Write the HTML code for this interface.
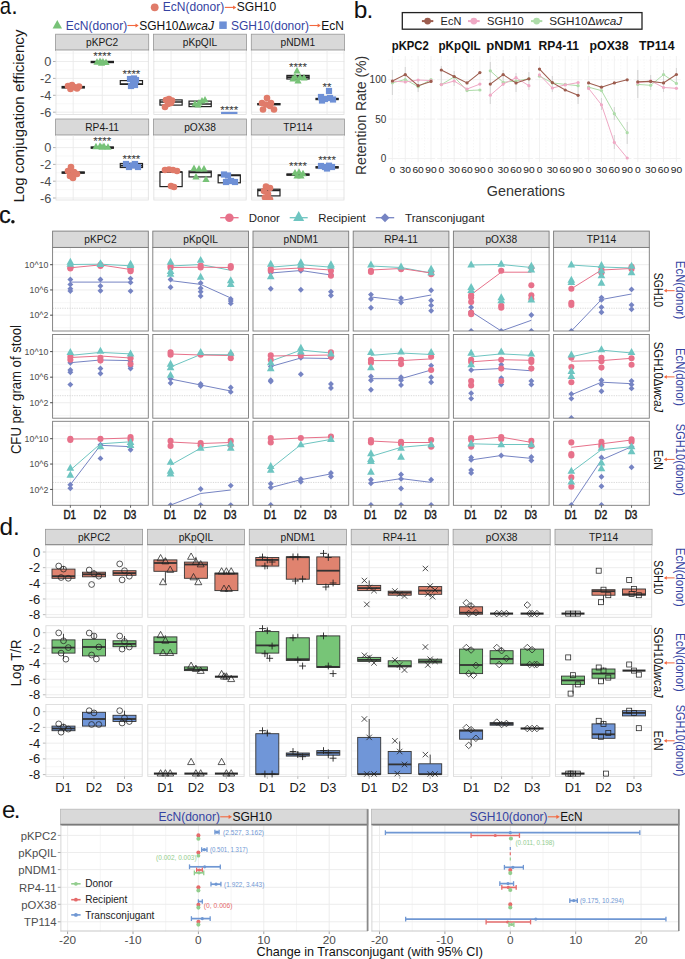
<!DOCTYPE html>
<html><head><meta charset="utf-8"><title>Figure</title>
<style>
html,body{margin:0;padding:0;background:#fff;}
body{width:685px;height:959px;overflow:hidden;}
svg{display:block;font-family:"Liberation Sans",sans-serif;}
</style></head><body>
<svg width="685" height="959" viewBox="0 0 685 959">
<rect x="0" y="0" width="685" height="959" fill="#fff"/>
<text x="-0.15" y="14.30" font-size="23.4" fill="#111" textLength="11.30" lengthAdjust="spacingAndGlyphs" >a</text>
<text x="11.30" y="14.30" font-size="23.4" fill="#111" >.</text>
<circle cx="154.70" cy="7.30" r="3.9" fill="#E07B6A" stroke="none" stroke-width="1"/>
<text x="162.80" y="11.40" font-size="12" fill="#3543A2" >EcN(donor)</text>
<line x1="224.80" y1="7.40" x2="234.38" y2="7.40" stroke="#F2683F" stroke-width="1.1" />
<polygon points="236.30,7.40 233.10,5.42 233.10,9.38" fill="#F2683F" stroke="none" stroke-width="1"/>
<text x="236.80" y="11.40" font-size="12" fill="#111" >SGH10</text>
<polygon points="57.30,19.95 52.60,28.41 62.00,28.41" fill="#77C277" stroke="none" stroke-width="1"/>
<text x="65.80" y="29.60" font-size="12" fill="#3543A2" >EcN(donor)</text>
<line x1="127.40" y1="25.50" x2="136.78" y2="25.50" stroke="#F2683F" stroke-width="1.1" />
<polygon points="138.70,25.50 135.50,23.52 135.50,27.48" fill="#F2683F" stroke="none" stroke-width="1"/>
<text x="139.20" y="29.60" font-size="12" fill="#111" >SGH10Δ<tspan font-style="italic">wcaJ</tspan></text>
<rect x="219.25" y="21.45" width="7.50" height="7.50" fill="#6E90D6" stroke="none" stroke-width="1" />
<text x="230.90" y="29.60" font-size="12" fill="#3543A2" >SGH10(donor)</text>
<line x1="309.40" y1="25.50" x2="318.88" y2="25.50" stroke="#F2683F" stroke-width="1.1" />
<polygon points="320.80,25.50 317.60,23.52 317.60,27.48" fill="#F2683F" stroke="none" stroke-width="1"/>
<text x="321.20" y="29.60" font-size="12" fill="#111" >EcN</text>
<text x="23.60" y="116.10" font-size="14.8" fill="#1A1A1A" text-anchor="middle" textLength="173.00" lengthAdjust="spacingAndGlyphs" transform="rotate(-90 23.60 116.10)" >Log conjugation efficiency</text>
<rect x="55.60" y="34.20" width="93.10" height="16.40" fill="#D9D9D9" stroke="#979797" stroke-width="0.8" />
<line x1="55.60" y1="50.40" x2="148.70" y2="50.40" stroke="#5E5E5E" stroke-width="1.3" />
<text x="102.15" y="46.00" font-size="10.2" fill="#1A1A1A" text-anchor="middle" >pKPC2</text>
<rect x="55.60" y="50.60" width="93.10" height="63.90" fill="#fff" stroke="none" stroke-width="1" />
<line x1="55.60" y1="53.05" x2="148.70" y2="53.05" stroke="#F4F4F4" stroke-width="0.7" />
<line x1="55.60" y1="69.95" x2="148.70" y2="69.95" stroke="#F4F4F4" stroke-width="0.7" />
<line x1="55.60" y1="86.85" x2="148.70" y2="86.85" stroke="#F4F4F4" stroke-width="0.7" />
<line x1="55.60" y1="103.75" x2="148.70" y2="103.75" stroke="#F4F4F4" stroke-width="0.7" />
<line x1="55.60" y1="61.50" x2="148.70" y2="61.50" stroke="#EBEBEB" stroke-width="0.9" />
<line x1="55.60" y1="78.40" x2="148.70" y2="78.40" stroke="#EBEBEB" stroke-width="0.9" />
<line x1="55.60" y1="95.30" x2="148.70" y2="95.30" stroke="#EBEBEB" stroke-width="0.9" />
<line x1="55.60" y1="112.20" x2="148.70" y2="112.20" stroke="#EBEBEB" stroke-width="0.9" />
<line x1="73.20" y1="50.60" x2="73.20" y2="114.50" stroke="#EBEBEB" stroke-width="0.9" />
<line x1="102.30" y1="50.60" x2="102.30" y2="114.50" stroke="#EBEBEB" stroke-width="0.9" />
<line x1="131.40" y1="50.60" x2="131.40" y2="114.50" stroke="#EBEBEB" stroke-width="0.9" />
<rect x="56.00" y="50.60" width="92.30" height="63.90" fill="none" stroke="#DEDEDE" stroke-width="0.8" />
<g clip-path="url(#ca00)">
<clipPath id="ca00"><rect x="55.6" y="50.6" width="93.1" height="63.9"/></clipPath>
<rect x="62.10" y="86.50" width="22.20" height="1.50" fill="#fff" stroke="#222" stroke-width="1.2" />
<line x1="62.10" y1="87.20" x2="84.30" y2="87.20" stroke="#222" stroke-width="1.7" />
<circle cx="68.00" cy="86.00" r="3.3" fill="#E07B6A" stroke="none" stroke-width="1"/>
<circle cx="70.50" cy="89.00" r="3.3" fill="#E07B6A" stroke="none" stroke-width="1"/>
<circle cx="74.00" cy="87.00" r="3.3" fill="#E07B6A" stroke="none" stroke-width="1"/>
<circle cx="77.00" cy="88.50" r="3.3" fill="#E07B6A" stroke="none" stroke-width="1"/>
<circle cx="79.00" cy="86.50" r="3.3" fill="#E07B6A" stroke="none" stroke-width="1"/>
<circle cx="72.00" cy="85.00" r="3.3" fill="#E07B6A" stroke="none" stroke-width="1"/>
<rect x="91.20" y="61.40" width="22.20" height="1.20" fill="#fff" stroke="#222" stroke-width="1.2" />
<line x1="91.20" y1="62.10" x2="113.40" y2="62.10" stroke="#222" stroke-width="1.7" />
<polygon points="97.00,58.18 93.40,64.66 100.60,64.66" fill="#77C277" stroke="none" stroke-width="1"/>
<polygon points="100.00,57.58 96.40,64.06 103.60,64.06" fill="#77C277" stroke="none" stroke-width="1"/>
<polygon points="103.00,57.98 99.40,64.46 106.60,64.46" fill="#77C277" stroke="none" stroke-width="1"/>
<polygon points="106.00,58.48 102.40,64.96 109.60,64.96" fill="#77C277" stroke="none" stroke-width="1"/>
<polygon points="101.50,59.18 97.90,65.66 105.10,65.66" fill="#77C277" stroke="none" stroke-width="1"/>
<text x="102.30" y="60.20" font-size="11.5" fill="#333" text-anchor="middle" >****</text>
<rect x="120.30" y="80.60" width="22.20" height="3.80" fill="#fff" stroke="#222" stroke-width="1.2" />
<line x1="120.30" y1="84.00" x2="142.50" y2="84.00" stroke="#222" stroke-width="1.7" />
<rect x="126.90" y="75.90" width="6.20" height="6.20" fill="#6E90D6" stroke="none" stroke-width="1" />
<rect x="129.90" y="78.90" width="6.20" height="6.20" fill="#6E90D6" stroke="none" stroke-width="1" />
<rect x="131.90" y="81.90" width="6.20" height="6.20" fill="#6E90D6" stroke="none" stroke-width="1" />
<rect x="127.90" y="82.90" width="6.20" height="6.20" fill="#6E90D6" stroke="none" stroke-width="1" />
<rect x="132.90" y="76.90" width="6.20" height="6.20" fill="#6E90D6" stroke="none" stroke-width="1" />
<rect x="130.90" y="75.40" width="6.20" height="6.20" fill="#6E90D6" stroke="none" stroke-width="1" />
<text x="131.40" y="78.20" font-size="11.5" fill="#333" text-anchor="middle" >****</text>
</g>
<line x1="53.00" y1="61.50" x2="55.60" y2="61.50" stroke="#A0A0A0" stroke-width="0.8" />
<text x="51.30" y="66.00" font-size="12.8" fill="#4D4D4D" text-anchor="end" >0</text>
<line x1="53.00" y1="78.40" x2="55.60" y2="78.40" stroke="#A0A0A0" stroke-width="0.8" />
<text x="51.30" y="82.90" font-size="12.8" fill="#4D4D4D" text-anchor="end" >-2</text>
<line x1="53.00" y1="95.30" x2="55.60" y2="95.30" stroke="#A0A0A0" stroke-width="0.8" />
<text x="51.30" y="99.80" font-size="12.8" fill="#4D4D4D" text-anchor="end" >-4</text>
<line x1="53.00" y1="112.20" x2="55.60" y2="112.20" stroke="#A0A0A0" stroke-width="0.8" />
<text x="51.30" y="116.70" font-size="12.8" fill="#4D4D4D" text-anchor="end" >-6</text>
<rect x="153.45" y="34.20" width="93.10" height="16.40" fill="#D9D9D9" stroke="#979797" stroke-width="0.8" />
<line x1="153.45" y1="50.40" x2="246.55" y2="50.40" stroke="#5E5E5E" stroke-width="1.3" />
<text x="200.00" y="46.00" font-size="10.2" fill="#1A1A1A" text-anchor="middle" >pKpQIL</text>
<rect x="153.45" y="50.60" width="93.10" height="63.90" fill="#fff" stroke="none" stroke-width="1" />
<line x1="153.45" y1="53.05" x2="246.55" y2="53.05" stroke="#F4F4F4" stroke-width="0.7" />
<line x1="153.45" y1="69.95" x2="246.55" y2="69.95" stroke="#F4F4F4" stroke-width="0.7" />
<line x1="153.45" y1="86.85" x2="246.55" y2="86.85" stroke="#F4F4F4" stroke-width="0.7" />
<line x1="153.45" y1="103.75" x2="246.55" y2="103.75" stroke="#F4F4F4" stroke-width="0.7" />
<line x1="153.45" y1="61.50" x2="246.55" y2="61.50" stroke="#EBEBEB" stroke-width="0.9" />
<line x1="153.45" y1="78.40" x2="246.55" y2="78.40" stroke="#EBEBEB" stroke-width="0.9" />
<line x1="153.45" y1="95.30" x2="246.55" y2="95.30" stroke="#EBEBEB" stroke-width="0.9" />
<line x1="153.45" y1="112.20" x2="246.55" y2="112.20" stroke="#EBEBEB" stroke-width="0.9" />
<line x1="171.05" y1="50.60" x2="171.05" y2="114.50" stroke="#EBEBEB" stroke-width="0.9" />
<line x1="200.15" y1="50.60" x2="200.15" y2="114.50" stroke="#EBEBEB" stroke-width="0.9" />
<line x1="229.25" y1="50.60" x2="229.25" y2="114.50" stroke="#EBEBEB" stroke-width="0.9" />
<rect x="153.85" y="50.60" width="92.30" height="63.90" fill="none" stroke="#DEDEDE" stroke-width="0.8" />
<g clip-path="url(#ca01)">
<clipPath id="ca01"><rect x="153.45" y="50.6" width="93.1" height="63.9"/></clipPath>
<rect x="159.95" y="99.90" width="22.20" height="5.20" fill="#fff" stroke="#222" stroke-width="1.2" />
<line x1="159.95" y1="102.00" x2="182.15" y2="102.00" stroke="#222" stroke-width="1.7" />
<circle cx="166.00" cy="100.00" r="3.3" fill="#E07B6A" stroke="none" stroke-width="1"/>
<circle cx="169.00" cy="99.00" r="3.3" fill="#E07B6A" stroke="none" stroke-width="1"/>
<circle cx="172.00" cy="100.50" r="3.3" fill="#E07B6A" stroke="none" stroke-width="1"/>
<circle cx="168.00" cy="104.00" r="3.3" fill="#E07B6A" stroke="none" stroke-width="1"/>
<circle cx="165.00" cy="107.00" r="3.3" fill="#E07B6A" stroke="none" stroke-width="1"/>
<circle cx="171.00" cy="103.00" r="3.3" fill="#E07B6A" stroke="none" stroke-width="1"/>
<rect x="189.05" y="101.10" width="22.20" height="5.50" fill="#fff" stroke="#222" stroke-width="1.2" />
<line x1="189.05" y1="104.00" x2="211.25" y2="104.00" stroke="#222" stroke-width="1.7" />
<polygon points="195.00,99.98 191.40,106.46 198.60,106.46" fill="#77C277" stroke="none" stroke-width="1"/>
<polygon points="199.00,98.98 195.40,105.46 202.60,105.46" fill="#77C277" stroke="none" stroke-width="1"/>
<polygon points="202.00,96.98 198.40,103.46 205.60,103.46" fill="#77C277" stroke="none" stroke-width="1"/>
<polygon points="205.00,95.98 201.40,102.46 208.60,102.46" fill="#77C277" stroke="none" stroke-width="1"/>
<polygon points="198.00,100.98 194.40,107.46 201.60,107.46" fill="#77C277" stroke="none" stroke-width="1"/>
<rect x="221.05" y="111.80" width="16.40" height="2.20" fill="#6E90D6" stroke="none" stroke-width="1" />
<text x="229.25" y="113.90" font-size="11.5" fill="#333" text-anchor="middle" >****</text>
</g>
<rect x="251.30" y="34.20" width="93.10" height="16.40" fill="#D9D9D9" stroke="#979797" stroke-width="0.8" />
<line x1="251.30" y1="50.40" x2="344.40" y2="50.40" stroke="#5E5E5E" stroke-width="1.3" />
<text x="297.85" y="46.00" font-size="10.2" fill="#1A1A1A" text-anchor="middle" >pNDM1</text>
<rect x="251.30" y="50.60" width="93.10" height="63.90" fill="#fff" stroke="none" stroke-width="1" />
<line x1="251.30" y1="53.05" x2="344.40" y2="53.05" stroke="#F4F4F4" stroke-width="0.7" />
<line x1="251.30" y1="69.95" x2="344.40" y2="69.95" stroke="#F4F4F4" stroke-width="0.7" />
<line x1="251.30" y1="86.85" x2="344.40" y2="86.85" stroke="#F4F4F4" stroke-width="0.7" />
<line x1="251.30" y1="103.75" x2="344.40" y2="103.75" stroke="#F4F4F4" stroke-width="0.7" />
<line x1="251.30" y1="61.50" x2="344.40" y2="61.50" stroke="#EBEBEB" stroke-width="0.9" />
<line x1="251.30" y1="78.40" x2="344.40" y2="78.40" stroke="#EBEBEB" stroke-width="0.9" />
<line x1="251.30" y1="95.30" x2="344.40" y2="95.30" stroke="#EBEBEB" stroke-width="0.9" />
<line x1="251.30" y1="112.20" x2="344.40" y2="112.20" stroke="#EBEBEB" stroke-width="0.9" />
<line x1="268.90" y1="50.60" x2="268.90" y2="114.50" stroke="#EBEBEB" stroke-width="0.9" />
<line x1="298.00" y1="50.60" x2="298.00" y2="114.50" stroke="#EBEBEB" stroke-width="0.9" />
<line x1="327.10" y1="50.60" x2="327.10" y2="114.50" stroke="#EBEBEB" stroke-width="0.9" />
<rect x="251.70" y="50.60" width="92.30" height="63.90" fill="none" stroke="#DEDEDE" stroke-width="0.8" />
<g clip-path="url(#ca02)">
<clipPath id="ca02"><rect x="251.3" y="50.6" width="93.1" height="63.9"/></clipPath>
<rect x="257.80" y="103.60" width="22.20" height="1.20" fill="#fff" stroke="#222" stroke-width="1.2" />
<line x1="257.80" y1="104.20" x2="280.00" y2="104.20" stroke="#222" stroke-width="1.7" />
<circle cx="267.00" cy="98.00" r="3.3" fill="#E07B6A" stroke="none" stroke-width="1"/>
<circle cx="262.00" cy="103.00" r="3.3" fill="#E07B6A" stroke="none" stroke-width="1"/>
<circle cx="266.00" cy="104.50" r="3.3" fill="#E07B6A" stroke="none" stroke-width="1"/>
<circle cx="270.00" cy="106.00" r="3.3" fill="#E07B6A" stroke="none" stroke-width="1"/>
<circle cx="263.00" cy="109.50" r="3.3" fill="#E07B6A" stroke="none" stroke-width="1"/>
<circle cx="274.00" cy="109.50" r="3.3" fill="#E07B6A" stroke="none" stroke-width="1"/>
<circle cx="271.00" cy="103.00" r="3.3" fill="#E07B6A" stroke="none" stroke-width="1"/>
<rect x="286.90" y="75.40" width="22.20" height="3.60" fill="#fff" stroke="#222" stroke-width="1.2" />
<line x1="286.90" y1="77.20" x2="309.10" y2="77.20" stroke="#222" stroke-width="1.7" />
<polygon points="297.00,66.98 293.40,73.46 300.60,73.46" fill="#77C277" stroke="none" stroke-width="1"/>
<polygon points="295.00,72.98 291.40,79.46 298.60,79.46" fill="#77C277" stroke="none" stroke-width="1"/>
<polygon points="300.00,73.48 296.40,79.96 303.60,79.96" fill="#77C277" stroke="none" stroke-width="1"/>
<polygon points="304.00,73.98 300.40,80.46 307.60,80.46" fill="#77C277" stroke="none" stroke-width="1"/>
<polygon points="298.00,76.98 294.40,83.46 301.60,83.46" fill="#77C277" stroke="none" stroke-width="1"/>
<polygon points="293.00,74.98 289.40,81.46 296.60,81.46" fill="#77C277" stroke="none" stroke-width="1"/>
<text x="298.00" y="71.00" font-size="11.5" fill="#333" text-anchor="middle" >****</text>
<rect x="316.00" y="98.40" width="22.20" height="1.20" fill="#fff" stroke="#222" stroke-width="1.2" />
<line x1="316.00" y1="99.00" x2="338.20" y2="99.00" stroke="#222" stroke-width="1.7" />
<rect x="325.90" y="87.90" width="6.20" height="6.20" fill="#6E90D6" stroke="none" stroke-width="1" />
<rect x="317.90" y="93.90" width="6.20" height="6.20" fill="#6E90D6" stroke="none" stroke-width="1" />
<rect x="321.90" y="95.90" width="6.20" height="6.20" fill="#6E90D6" stroke="none" stroke-width="1" />
<rect x="326.90" y="94.90" width="6.20" height="6.20" fill="#6E90D6" stroke="none" stroke-width="1" />
<rect x="329.90" y="96.40" width="6.20" height="6.20" fill="#6E90D6" stroke="none" stroke-width="1" />
<rect x="318.90" y="97.40" width="6.20" height="6.20" fill="#6E90D6" stroke="none" stroke-width="1" />
<text x="327.10" y="90.90" font-size="11.5" fill="#333" text-anchor="middle" >**</text>
</g>
<rect x="55.60" y="119.00" width="93.10" height="16.50" fill="#D9D9D9" stroke="#979797" stroke-width="0.8" />
<line x1="55.60" y1="135.30" x2="148.70" y2="135.30" stroke="#5E5E5E" stroke-width="1.3" />
<text x="102.15" y="130.90" font-size="10.2" fill="#1A1A1A" text-anchor="middle" >RP4-11</text>
<rect x="55.60" y="135.50" width="93.10" height="64.50" fill="#fff" stroke="none" stroke-width="1" />
<line x1="55.60" y1="139.20" x2="148.70" y2="139.20" stroke="#F4F4F4" stroke-width="0.7" />
<line x1="55.60" y1="156.00" x2="148.70" y2="156.00" stroke="#F4F4F4" stroke-width="0.7" />
<line x1="55.60" y1="172.80" x2="148.70" y2="172.80" stroke="#F4F4F4" stroke-width="0.7" />
<line x1="55.60" y1="189.60" x2="148.70" y2="189.60" stroke="#F4F4F4" stroke-width="0.7" />
<line x1="55.60" y1="147.60" x2="148.70" y2="147.60" stroke="#EBEBEB" stroke-width="0.9" />
<line x1="55.60" y1="164.40" x2="148.70" y2="164.40" stroke="#EBEBEB" stroke-width="0.9" />
<line x1="55.60" y1="181.20" x2="148.70" y2="181.20" stroke="#EBEBEB" stroke-width="0.9" />
<line x1="55.60" y1="198.00" x2="148.70" y2="198.00" stroke="#EBEBEB" stroke-width="0.9" />
<line x1="73.20" y1="135.50" x2="73.20" y2="200.00" stroke="#EBEBEB" stroke-width="0.9" />
<line x1="102.30" y1="135.50" x2="102.30" y2="200.00" stroke="#EBEBEB" stroke-width="0.9" />
<line x1="131.40" y1="135.50" x2="131.40" y2="200.00" stroke="#EBEBEB" stroke-width="0.9" />
<rect x="56.00" y="135.50" width="92.30" height="64.50" fill="none" stroke="#DEDEDE" stroke-width="0.8" />
<g clip-path="url(#ca10)">
<clipPath id="ca10"><rect x="55.6" y="135.5" width="93.1" height="64.5"/></clipPath>
<rect x="62.10" y="172.00" width="22.20" height="1.20" fill="#fff" stroke="#222" stroke-width="1.2" />
<line x1="62.10" y1="172.60" x2="84.30" y2="172.60" stroke="#222" stroke-width="1.7" />
<circle cx="71.00" cy="167.00" r="3.3" fill="#E07B6A" stroke="none" stroke-width="1"/>
<circle cx="68.00" cy="171.00" r="3.3" fill="#E07B6A" stroke="none" stroke-width="1"/>
<circle cx="74.00" cy="172.00" r="3.3" fill="#E07B6A" stroke="none" stroke-width="1"/>
<circle cx="77.00" cy="174.00" r="3.3" fill="#E07B6A" stroke="none" stroke-width="1"/>
<circle cx="70.00" cy="176.00" r="3.3" fill="#E07B6A" stroke="none" stroke-width="1"/>
<circle cx="73.00" cy="178.00" r="3.3" fill="#E07B6A" stroke="none" stroke-width="1"/>
<rect x="91.20" y="147.00" width="22.20" height="1.20" fill="#fff" stroke="#222" stroke-width="1.2" />
<line x1="91.20" y1="147.60" x2="113.40" y2="147.60" stroke="#222" stroke-width="1.7" />
<polygon points="96.00,142.78 92.40,149.26 99.60,149.26" fill="#77C277" stroke="none" stroke-width="1"/>
<polygon points="100.00,142.28 96.40,148.76 103.60,148.76" fill="#77C277" stroke="none" stroke-width="1"/>
<polygon points="104.00,142.58 100.40,149.06 107.60,149.06" fill="#77C277" stroke="none" stroke-width="1"/>
<polygon points="108.00,143.18 104.40,149.66 111.60,149.66" fill="#77C277" stroke="none" stroke-width="1"/>
<polygon points="102.00,143.38 98.40,149.86 105.60,149.86" fill="#77C277" stroke="none" stroke-width="1"/>
<text x="102.30" y="144.90" font-size="11.5" fill="#333" text-anchor="middle" >****</text>
<rect x="120.30" y="163.50" width="22.20" height="4.00" fill="#fff" stroke="#222" stroke-width="1.2" />
<line x1="120.30" y1="165.60" x2="142.50" y2="165.60" stroke="#222" stroke-width="1.7" />
<rect x="122.90" y="160.90" width="6.20" height="6.20" fill="#6E90D6" stroke="none" stroke-width="1" />
<rect x="125.90" y="163.90" width="6.20" height="6.20" fill="#6E90D6" stroke="none" stroke-width="1" />
<rect x="131.90" y="160.90" width="6.20" height="6.20" fill="#6E90D6" stroke="none" stroke-width="1" />
<rect x="134.90" y="163.90" width="6.20" height="6.20" fill="#6E90D6" stroke="none" stroke-width="1" />
<rect x="129.40" y="162.40" width="6.20" height="6.20" fill="#6E90D6" stroke="none" stroke-width="1" />
<text x="131.40" y="163.00" font-size="11.5" fill="#333" text-anchor="middle" >****</text>
</g>
<line x1="53.00" y1="147.60" x2="55.60" y2="147.60" stroke="#A0A0A0" stroke-width="0.8" />
<text x="51.30" y="152.10" font-size="12.8" fill="#4D4D4D" text-anchor="end" >0</text>
<line x1="53.00" y1="164.40" x2="55.60" y2="164.40" stroke="#A0A0A0" stroke-width="0.8" />
<text x="51.30" y="168.90" font-size="12.8" fill="#4D4D4D" text-anchor="end" >-2</text>
<line x1="53.00" y1="181.20" x2="55.60" y2="181.20" stroke="#A0A0A0" stroke-width="0.8" />
<text x="51.30" y="185.70" font-size="12.8" fill="#4D4D4D" text-anchor="end" >-4</text>
<line x1="53.00" y1="198.00" x2="55.60" y2="198.00" stroke="#A0A0A0" stroke-width="0.8" />
<text x="51.30" y="202.50" font-size="12.8" fill="#4D4D4D" text-anchor="end" >-6</text>
<rect x="153.45" y="119.00" width="93.10" height="16.50" fill="#D9D9D9" stroke="#979797" stroke-width="0.8" />
<line x1="153.45" y1="135.30" x2="246.55" y2="135.30" stroke="#5E5E5E" stroke-width="1.3" />
<text x="200.00" y="130.90" font-size="10.2" fill="#1A1A1A" text-anchor="middle" >pOX38</text>
<rect x="153.45" y="135.50" width="93.10" height="64.50" fill="#fff" stroke="none" stroke-width="1" />
<line x1="153.45" y1="139.20" x2="246.55" y2="139.20" stroke="#F4F4F4" stroke-width="0.7" />
<line x1="153.45" y1="156.00" x2="246.55" y2="156.00" stroke="#F4F4F4" stroke-width="0.7" />
<line x1="153.45" y1="172.80" x2="246.55" y2="172.80" stroke="#F4F4F4" stroke-width="0.7" />
<line x1="153.45" y1="189.60" x2="246.55" y2="189.60" stroke="#F4F4F4" stroke-width="0.7" />
<line x1="153.45" y1="147.60" x2="246.55" y2="147.60" stroke="#EBEBEB" stroke-width="0.9" />
<line x1="153.45" y1="164.40" x2="246.55" y2="164.40" stroke="#EBEBEB" stroke-width="0.9" />
<line x1="153.45" y1="181.20" x2="246.55" y2="181.20" stroke="#EBEBEB" stroke-width="0.9" />
<line x1="153.45" y1="198.00" x2="246.55" y2="198.00" stroke="#EBEBEB" stroke-width="0.9" />
<line x1="171.05" y1="135.50" x2="171.05" y2="200.00" stroke="#EBEBEB" stroke-width="0.9" />
<line x1="200.15" y1="135.50" x2="200.15" y2="200.00" stroke="#EBEBEB" stroke-width="0.9" />
<line x1="229.25" y1="135.50" x2="229.25" y2="200.00" stroke="#EBEBEB" stroke-width="0.9" />
<rect x="153.85" y="135.50" width="92.30" height="64.50" fill="none" stroke="#DEDEDE" stroke-width="0.8" />
<g clip-path="url(#ca11)">
<clipPath id="ca11"><rect x="153.45" y="135.5" width="93.1" height="64.5"/></clipPath>
<rect x="159.95" y="172.00" width="22.20" height="14.60" fill="#fff" stroke="#222" stroke-width="1.2" />
<line x1="159.95" y1="172.00" x2="182.15" y2="172.00" stroke="#222" stroke-width="1.7" />
<circle cx="165.00" cy="170.00" r="3.3" fill="#E07B6A" stroke="none" stroke-width="1"/>
<circle cx="169.00" cy="169.50" r="3.3" fill="#E07B6A" stroke="none" stroke-width="1"/>
<circle cx="173.00" cy="170.00" r="3.3" fill="#E07B6A" stroke="none" stroke-width="1"/>
<circle cx="177.00" cy="171.00" r="3.3" fill="#E07B6A" stroke="none" stroke-width="1"/>
<circle cx="171.00" cy="186.00" r="3.3" fill="#E07B6A" stroke="none" stroke-width="1"/>
<circle cx="174.00" cy="187.00" r="3.3" fill="#E07B6A" stroke="none" stroke-width="1"/>
<rect x="189.05" y="171.10" width="22.20" height="5.80" fill="#fff" stroke="#222" stroke-width="1.2" />
<line x1="189.05" y1="172.50" x2="211.25" y2="172.50" stroke="#222" stroke-width="1.7" />
<polygon points="194.00,164.48 190.40,170.96 197.60,170.96" fill="#77C277" stroke="none" stroke-width="1"/>
<polygon points="199.00,164.98 195.40,171.46 202.60,171.46" fill="#77C277" stroke="none" stroke-width="1"/>
<polygon points="204.00,164.98 200.40,171.46 207.60,171.46" fill="#77C277" stroke="none" stroke-width="1"/>
<polygon points="196.00,172.98 192.40,179.46 199.60,179.46" fill="#77C277" stroke="none" stroke-width="1"/>
<polygon points="206.00,175.48 202.40,181.96 209.60,181.96" fill="#77C277" stroke="none" stroke-width="1"/>
<rect x="218.15" y="174.90" width="22.20" height="7.90" fill="#fff" stroke="#222" stroke-width="1.2" />
<line x1="218.15" y1="175.50" x2="240.35" y2="175.50" stroke="#222" stroke-width="1.7" />
<rect x="220.90" y="171.40" width="6.20" height="6.20" fill="#6E90D6" stroke="none" stroke-width="1" />
<rect x="224.90" y="172.40" width="6.20" height="6.20" fill="#6E90D6" stroke="none" stroke-width="1" />
<rect x="222.90" y="178.90" width="6.20" height="6.20" fill="#6E90D6" stroke="none" stroke-width="1" />
<rect x="227.90" y="177.90" width="6.20" height="6.20" fill="#6E90D6" stroke="none" stroke-width="1" />
<rect x="231.90" y="178.90" width="6.20" height="6.20" fill="#6E90D6" stroke="none" stroke-width="1" />
</g>
<rect x="251.30" y="119.00" width="93.10" height="16.50" fill="#D9D9D9" stroke="#979797" stroke-width="0.8" />
<line x1="251.30" y1="135.30" x2="344.40" y2="135.30" stroke="#5E5E5E" stroke-width="1.3" />
<text x="297.85" y="130.90" font-size="10.2" fill="#1A1A1A" text-anchor="middle" >TP114</text>
<rect x="251.30" y="135.50" width="93.10" height="64.50" fill="#fff" stroke="none" stroke-width="1" />
<line x1="251.30" y1="139.20" x2="344.40" y2="139.20" stroke="#F4F4F4" stroke-width="0.7" />
<line x1="251.30" y1="156.00" x2="344.40" y2="156.00" stroke="#F4F4F4" stroke-width="0.7" />
<line x1="251.30" y1="172.80" x2="344.40" y2="172.80" stroke="#F4F4F4" stroke-width="0.7" />
<line x1="251.30" y1="189.60" x2="344.40" y2="189.60" stroke="#F4F4F4" stroke-width="0.7" />
<line x1="251.30" y1="147.60" x2="344.40" y2="147.60" stroke="#EBEBEB" stroke-width="0.9" />
<line x1="251.30" y1="164.40" x2="344.40" y2="164.40" stroke="#EBEBEB" stroke-width="0.9" />
<line x1="251.30" y1="181.20" x2="344.40" y2="181.20" stroke="#EBEBEB" stroke-width="0.9" />
<line x1="251.30" y1="198.00" x2="344.40" y2="198.00" stroke="#EBEBEB" stroke-width="0.9" />
<line x1="268.90" y1="135.50" x2="268.90" y2="200.00" stroke="#EBEBEB" stroke-width="0.9" />
<line x1="298.00" y1="135.50" x2="298.00" y2="200.00" stroke="#EBEBEB" stroke-width="0.9" />
<line x1="327.10" y1="135.50" x2="327.10" y2="200.00" stroke="#EBEBEB" stroke-width="0.9" />
<rect x="251.70" y="135.50" width="92.30" height="64.50" fill="none" stroke="#DEDEDE" stroke-width="0.8" />
<g clip-path="url(#ca12)">
<clipPath id="ca12"><rect x="251.3" y="135.5" width="93.1" height="64.5"/></clipPath>
<rect x="257.80" y="189.20" width="22.20" height="6.70" fill="#fff" stroke="#222" stroke-width="1.2" />
<line x1="257.80" y1="190.50" x2="280.00" y2="190.50" stroke="#222" stroke-width="1.7" />
<circle cx="266.00" cy="186.50" r="3.3" fill="#E07B6A" stroke="none" stroke-width="1"/>
<circle cx="270.00" cy="188.00" r="3.3" fill="#E07B6A" stroke="none" stroke-width="1"/>
<circle cx="264.00" cy="191.00" r="3.3" fill="#E07B6A" stroke="none" stroke-width="1"/>
<circle cx="268.00" cy="194.00" r="3.3" fill="#E07B6A" stroke="none" stroke-width="1"/>
<circle cx="265.00" cy="197.50" r="3.3" fill="#E07B6A" stroke="none" stroke-width="1"/>
<circle cx="270.00" cy="199.50" r="3.3" fill="#E07B6A" stroke="none" stroke-width="1"/>
<rect x="286.90" y="174.00" width="22.20" height="1.20" fill="#fff" stroke="#222" stroke-width="1.2" />
<line x1="286.90" y1="174.60" x2="309.10" y2="174.60" stroke="#222" stroke-width="1.7" />
<polygon points="295.00,168.98 291.40,175.46 298.60,175.46" fill="#77C277" stroke="none" stroke-width="1"/>
<polygon points="299.00,168.28 295.40,174.76 302.60,174.76" fill="#77C277" stroke="none" stroke-width="1"/>
<polygon points="303.00,169.78 299.40,176.26 306.60,176.26" fill="#77C277" stroke="none" stroke-width="1"/>
<polygon points="297.00,171.98 293.40,178.46 300.60,178.46" fill="#77C277" stroke="none" stroke-width="1"/>
<polygon points="301.00,171.98 297.40,178.46 304.60,178.46" fill="#77C277" stroke="none" stroke-width="1"/>
<text x="298.00" y="170.10" font-size="11.5" fill="#333" text-anchor="middle" >****</text>
<rect x="316.00" y="166.70" width="22.20" height="1.20" fill="#fff" stroke="#222" stroke-width="1.2" />
<line x1="316.00" y1="167.30" x2="338.20" y2="167.30" stroke="#222" stroke-width="1.7" />
<rect x="317.90" y="162.90" width="6.20" height="6.20" fill="#6E90D6" stroke="none" stroke-width="1" />
<rect x="321.90" y="163.90" width="6.20" height="6.20" fill="#6E90D6" stroke="none" stroke-width="1" />
<rect x="325.90" y="162.60" width="6.20" height="6.20" fill="#6E90D6" stroke="none" stroke-width="1" />
<rect x="323.90" y="165.40" width="6.20" height="6.20" fill="#6E90D6" stroke="none" stroke-width="1" />
<rect x="328.90" y="163.90" width="6.20" height="6.20" fill="#6E90D6" stroke="none" stroke-width="1" />
<text x="327.10" y="163.70" font-size="11.5" fill="#333" text-anchor="middle" >****</text>
</g>
<text x="353.80" y="17.50" font-size="24.5" fill="#111" >b</text>
<text x="366.40" y="17.50" font-size="24.5" fill="#111" >.</text>
<rect x="402.30" y="12.60" width="239.70" height="16.60" fill="#fff" stroke="#222" stroke-width="1.3" />
<line x1="421.90" y1="21.10" x2="433.30" y2="21.10" stroke="#9C5C4E" stroke-width="2.0" />
<circle cx="427.60" cy="21.10" r="3.4" fill="#9C5C4E" stroke="none" stroke-width="1"/>
<text x="440.60" y="25.20" font-size="11.2" fill="#222" textLength="20.70" lengthAdjust="spacingAndGlyphs" >EcN</text>
<line x1="468.00" y1="21.10" x2="479.70" y2="21.10" stroke="#EFA9C5" stroke-width="2.0" />
<circle cx="473.85" cy="21.10" r="3.4" fill="#EFA9C5" stroke="none" stroke-width="1"/>
<text x="487.10" y="25.20" font-size="11.2" fill="#222" textLength="36.50" lengthAdjust="spacingAndGlyphs" >SGH10</text>
<line x1="531.00" y1="21.10" x2="542.30" y2="21.10" stroke="#AEDCA9" stroke-width="2.0" />
<circle cx="536.65" cy="21.10" r="3.4" fill="#AEDCA9" stroke="none" stroke-width="1"/>
<text x="549.20" y="25.20" font-size="11.2" fill="#222" textLength="73.00" lengthAdjust="spacingAndGlyphs" >SGH10Δ<tspan font-style="italic">wcaJ</tspan></text>
<text x="391.80" y="49.90" font-size="13.6" fill="#111" font-weight="bold" textLength="37.00" lengthAdjust="spacingAndGlyphs" >pKPC2</text>
<text x="438.50" y="49.90" font-size="13.6" fill="#111" font-weight="bold" textLength="42.10" lengthAdjust="spacingAndGlyphs" >pKpQIL</text>
<text x="486.30" y="49.90" font-size="13.6" fill="#111" font-weight="bold" textLength="45.00" lengthAdjust="spacingAndGlyphs" >pNDM1</text>
<text x="538.60" y="49.90" font-size="13.6" fill="#111" font-weight="bold" textLength="40.40" lengthAdjust="spacingAndGlyphs" >RP4-11</text>
<text x="589.60" y="49.90" font-size="13.6" fill="#111" font-weight="bold" textLength="38.90" lengthAdjust="spacingAndGlyphs" >pOX38</text>
<text x="639.00" y="49.90" font-size="13.6" fill="#111" font-weight="bold" textLength="35.50" lengthAdjust="spacingAndGlyphs" >TP114</text>
<line x1="388.20" y1="138.80" x2="435.20" y2="138.80" stroke="#F3F3F3" stroke-width="0.7" stroke-dasharray="1.5,1.5"/>
<line x1="388.20" y1="99.40" x2="435.20" y2="99.40" stroke="#F3F3F3" stroke-width="0.7" stroke-dasharray="1.5,1.5"/>
<line x1="388.20" y1="60.00" x2="435.20" y2="60.00" stroke="#F3F3F3" stroke-width="0.7" stroke-dasharray="1.5,1.5"/>
<line x1="388.20" y1="158.50" x2="435.20" y2="158.50" stroke="#EDEDED" stroke-width="0.8" />
<line x1="388.20" y1="119.10" x2="435.20" y2="119.10" stroke="#EDEDED" stroke-width="0.8" />
<line x1="388.20" y1="79.70" x2="435.20" y2="79.70" stroke="#EDEDED" stroke-width="0.8" />
<line x1="398.83" y1="56.00" x2="398.83" y2="162.00" stroke="#F3F3F3" stroke-width="0.7" stroke-dasharray="1.5,1.5"/>
<line x1="411.70" y1="56.00" x2="411.70" y2="162.00" stroke="#F3F3F3" stroke-width="0.7" stroke-dasharray="1.5,1.5"/>
<line x1="424.57" y1="56.00" x2="424.57" y2="162.00" stroke="#F3F3F3" stroke-width="0.7" stroke-dasharray="1.5,1.5"/>
<line x1="392.40" y1="56.00" x2="392.40" y2="162.00" stroke="#EEEEEE" stroke-width="0.8" />
<line x1="405.27" y1="56.00" x2="405.27" y2="162.00" stroke="#EEEEEE" stroke-width="0.8" />
<line x1="418.13" y1="56.00" x2="418.13" y2="162.00" stroke="#EEEEEE" stroke-width="0.8" />
<line x1="431.00" y1="56.00" x2="431.00" y2="162.00" stroke="#EEEEEE" stroke-width="0.8" />
<line x1="437.10" y1="138.80" x2="484.10" y2="138.80" stroke="#F3F3F3" stroke-width="0.7" stroke-dasharray="1.5,1.5"/>
<line x1="437.10" y1="99.40" x2="484.10" y2="99.40" stroke="#F3F3F3" stroke-width="0.7" stroke-dasharray="1.5,1.5"/>
<line x1="437.10" y1="60.00" x2="484.10" y2="60.00" stroke="#F3F3F3" stroke-width="0.7" stroke-dasharray="1.5,1.5"/>
<line x1="437.10" y1="158.50" x2="484.10" y2="158.50" stroke="#EDEDED" stroke-width="0.8" />
<line x1="437.10" y1="119.10" x2="484.10" y2="119.10" stroke="#EDEDED" stroke-width="0.8" />
<line x1="437.10" y1="79.70" x2="484.10" y2="79.70" stroke="#EDEDED" stroke-width="0.8" />
<line x1="447.73" y1="56.00" x2="447.73" y2="162.00" stroke="#F3F3F3" stroke-width="0.7" stroke-dasharray="1.5,1.5"/>
<line x1="460.60" y1="56.00" x2="460.60" y2="162.00" stroke="#F3F3F3" stroke-width="0.7" stroke-dasharray="1.5,1.5"/>
<line x1="473.47" y1="56.00" x2="473.47" y2="162.00" stroke="#F3F3F3" stroke-width="0.7" stroke-dasharray="1.5,1.5"/>
<line x1="441.30" y1="56.00" x2="441.30" y2="162.00" stroke="#EEEEEE" stroke-width="0.8" />
<line x1="454.17" y1="56.00" x2="454.17" y2="162.00" stroke="#EEEEEE" stroke-width="0.8" />
<line x1="467.03" y1="56.00" x2="467.03" y2="162.00" stroke="#EEEEEE" stroke-width="0.8" />
<line x1="479.90" y1="56.00" x2="479.90" y2="162.00" stroke="#EEEEEE" stroke-width="0.8" />
<line x1="486.10" y1="138.80" x2="533.10" y2="138.80" stroke="#F3F3F3" stroke-width="0.7" stroke-dasharray="1.5,1.5"/>
<line x1="486.10" y1="99.40" x2="533.10" y2="99.40" stroke="#F3F3F3" stroke-width="0.7" stroke-dasharray="1.5,1.5"/>
<line x1="486.10" y1="60.00" x2="533.10" y2="60.00" stroke="#F3F3F3" stroke-width="0.7" stroke-dasharray="1.5,1.5"/>
<line x1="486.10" y1="158.50" x2="533.10" y2="158.50" stroke="#EDEDED" stroke-width="0.8" />
<line x1="486.10" y1="119.10" x2="533.10" y2="119.10" stroke="#EDEDED" stroke-width="0.8" />
<line x1="486.10" y1="79.70" x2="533.10" y2="79.70" stroke="#EDEDED" stroke-width="0.8" />
<line x1="496.73" y1="56.00" x2="496.73" y2="162.00" stroke="#F3F3F3" stroke-width="0.7" stroke-dasharray="1.5,1.5"/>
<line x1="509.60" y1="56.00" x2="509.60" y2="162.00" stroke="#F3F3F3" stroke-width="0.7" stroke-dasharray="1.5,1.5"/>
<line x1="522.47" y1="56.00" x2="522.47" y2="162.00" stroke="#F3F3F3" stroke-width="0.7" stroke-dasharray="1.5,1.5"/>
<line x1="490.30" y1="56.00" x2="490.30" y2="162.00" stroke="#EEEEEE" stroke-width="0.8" />
<line x1="503.17" y1="56.00" x2="503.17" y2="162.00" stroke="#EEEEEE" stroke-width="0.8" />
<line x1="516.03" y1="56.00" x2="516.03" y2="162.00" stroke="#EEEEEE" stroke-width="0.8" />
<line x1="528.90" y1="56.00" x2="528.90" y2="162.00" stroke="#EEEEEE" stroke-width="0.8" />
<line x1="535.30" y1="138.80" x2="582.30" y2="138.80" stroke="#F3F3F3" stroke-width="0.7" stroke-dasharray="1.5,1.5"/>
<line x1="535.30" y1="99.40" x2="582.30" y2="99.40" stroke="#F3F3F3" stroke-width="0.7" stroke-dasharray="1.5,1.5"/>
<line x1="535.30" y1="60.00" x2="582.30" y2="60.00" stroke="#F3F3F3" stroke-width="0.7" stroke-dasharray="1.5,1.5"/>
<line x1="535.30" y1="158.50" x2="582.30" y2="158.50" stroke="#EDEDED" stroke-width="0.8" />
<line x1="535.30" y1="119.10" x2="582.30" y2="119.10" stroke="#EDEDED" stroke-width="0.8" />
<line x1="535.30" y1="79.70" x2="582.30" y2="79.70" stroke="#EDEDED" stroke-width="0.8" />
<line x1="545.93" y1="56.00" x2="545.93" y2="162.00" stroke="#F3F3F3" stroke-width="0.7" stroke-dasharray="1.5,1.5"/>
<line x1="558.80" y1="56.00" x2="558.80" y2="162.00" stroke="#F3F3F3" stroke-width="0.7" stroke-dasharray="1.5,1.5"/>
<line x1="571.67" y1="56.00" x2="571.67" y2="162.00" stroke="#F3F3F3" stroke-width="0.7" stroke-dasharray="1.5,1.5"/>
<line x1="539.50" y1="56.00" x2="539.50" y2="162.00" stroke="#EEEEEE" stroke-width="0.8" />
<line x1="552.37" y1="56.00" x2="552.37" y2="162.00" stroke="#EEEEEE" stroke-width="0.8" />
<line x1="565.23" y1="56.00" x2="565.23" y2="162.00" stroke="#EEEEEE" stroke-width="0.8" />
<line x1="578.10" y1="56.00" x2="578.10" y2="162.00" stroke="#EEEEEE" stroke-width="0.8" />
<line x1="584.40" y1="138.80" x2="631.40" y2="138.80" stroke="#F3F3F3" stroke-width="0.7" stroke-dasharray="1.5,1.5"/>
<line x1="584.40" y1="99.40" x2="631.40" y2="99.40" stroke="#F3F3F3" stroke-width="0.7" stroke-dasharray="1.5,1.5"/>
<line x1="584.40" y1="60.00" x2="631.40" y2="60.00" stroke="#F3F3F3" stroke-width="0.7" stroke-dasharray="1.5,1.5"/>
<line x1="584.40" y1="158.50" x2="631.40" y2="158.50" stroke="#EDEDED" stroke-width="0.8" />
<line x1="584.40" y1="119.10" x2="631.40" y2="119.10" stroke="#EDEDED" stroke-width="0.8" />
<line x1="584.40" y1="79.70" x2="631.40" y2="79.70" stroke="#EDEDED" stroke-width="0.8" />
<line x1="595.03" y1="56.00" x2="595.03" y2="162.00" stroke="#F3F3F3" stroke-width="0.7" stroke-dasharray="1.5,1.5"/>
<line x1="607.90" y1="56.00" x2="607.90" y2="162.00" stroke="#F3F3F3" stroke-width="0.7" stroke-dasharray="1.5,1.5"/>
<line x1="620.77" y1="56.00" x2="620.77" y2="162.00" stroke="#F3F3F3" stroke-width="0.7" stroke-dasharray="1.5,1.5"/>
<line x1="588.60" y1="56.00" x2="588.60" y2="162.00" stroke="#EEEEEE" stroke-width="0.8" />
<line x1="601.47" y1="56.00" x2="601.47" y2="162.00" stroke="#EEEEEE" stroke-width="0.8" />
<line x1="614.33" y1="56.00" x2="614.33" y2="162.00" stroke="#EEEEEE" stroke-width="0.8" />
<line x1="627.20" y1="56.00" x2="627.20" y2="162.00" stroke="#EEEEEE" stroke-width="0.8" />
<line x1="633.60" y1="138.80" x2="680.60" y2="138.80" stroke="#F3F3F3" stroke-width="0.7" stroke-dasharray="1.5,1.5"/>
<line x1="633.60" y1="99.40" x2="680.60" y2="99.40" stroke="#F3F3F3" stroke-width="0.7" stroke-dasharray="1.5,1.5"/>
<line x1="633.60" y1="60.00" x2="680.60" y2="60.00" stroke="#F3F3F3" stroke-width="0.7" stroke-dasharray="1.5,1.5"/>
<line x1="633.60" y1="158.50" x2="680.60" y2="158.50" stroke="#EDEDED" stroke-width="0.8" />
<line x1="633.60" y1="119.10" x2="680.60" y2="119.10" stroke="#EDEDED" stroke-width="0.8" />
<line x1="633.60" y1="79.70" x2="680.60" y2="79.70" stroke="#EDEDED" stroke-width="0.8" />
<line x1="644.23" y1="56.00" x2="644.23" y2="162.00" stroke="#F3F3F3" stroke-width="0.7" stroke-dasharray="1.5,1.5"/>
<line x1="657.10" y1="56.00" x2="657.10" y2="162.00" stroke="#F3F3F3" stroke-width="0.7" stroke-dasharray="1.5,1.5"/>
<line x1="669.97" y1="56.00" x2="669.97" y2="162.00" stroke="#F3F3F3" stroke-width="0.7" stroke-dasharray="1.5,1.5"/>
<line x1="637.80" y1="56.00" x2="637.80" y2="162.00" stroke="#EEEEEE" stroke-width="0.8" />
<line x1="650.67" y1="56.00" x2="650.67" y2="162.00" stroke="#EEEEEE" stroke-width="0.8" />
<line x1="663.53" y1="56.00" x2="663.53" y2="162.00" stroke="#EEEEEE" stroke-width="0.8" />
<line x1="676.40" y1="56.00" x2="676.40" y2="162.00" stroke="#EEEEEE" stroke-width="0.8" />
<line x1="392.40" y1="70.00" x2="392.40" y2="95.00" stroke="#CFCFCF" stroke-width="0.9" />
<line x1="405.27" y1="67.00" x2="405.27" y2="80.00" stroke="#CFCFCF" stroke-width="0.9" />
<line x1="454.17" y1="71.00" x2="454.17" y2="86.00" stroke="#CFCFCF" stroke-width="0.9" />
<line x1="490.30" y1="62.00" x2="490.30" y2="104.00" stroke="#CFCFCF" stroke-width="0.9" />
<line x1="503.17" y1="70.00" x2="503.17" y2="86.00" stroke="#CFCFCF" stroke-width="0.9" />
<line x1="516.03" y1="73.00" x2="516.03" y2="92.00" stroke="#CFCFCF" stroke-width="0.9" />
<line x1="528.90" y1="72.00" x2="528.90" y2="90.00" stroke="#CFCFCF" stroke-width="0.9" />
<line x1="552.37" y1="76.00" x2="552.37" y2="92.00" stroke="#CFCFCF" stroke-width="0.9" />
<line x1="578.10" y1="86.00" x2="578.10" y2="104.00" stroke="#CFCFCF" stroke-width="0.9" />
<line x1="614.33" y1="135.00" x2="614.33" y2="149.00" stroke="#CFCFCF" stroke-width="0.9" />
<line x1="614.33" y1="107.00" x2="614.33" y2="120.00" stroke="#CFCFCF" stroke-width="0.9" />
<line x1="627.20" y1="122.00" x2="627.20" y2="144.00" stroke="#CFCFCF" stroke-width="0.9" />
<line x1="601.47" y1="98.00" x2="601.47" y2="110.00" stroke="#CFCFCF" stroke-width="0.9" />
<line x1="637.80" y1="70.00" x2="637.80" y2="98.00" stroke="#CFCFCF" stroke-width="0.9" />
<line x1="650.67" y1="75.00" x2="650.67" y2="90.00" stroke="#CFCFCF" stroke-width="0.9" />
<line x1="663.53" y1="70.00" x2="663.53" y2="92.00" stroke="#CFCFCF" stroke-width="0.9" />
<line x1="676.40" y1="68.00" x2="676.40" y2="82.00" stroke="#CFCFCF" stroke-width="0.9" />
<line x1="441.30" y1="66.00" x2="441.30" y2="86.00" stroke="#CFCFCF" stroke-width="0.9" />
<line x1="418.13" y1="80.00" x2="418.13" y2="92.00" stroke="#CFCFCF" stroke-width="0.9" />
<polyline points="392.40,82.80 405.27,79.50 418.13,86.70 431.00,79.60" fill="none" stroke="#AEDCA9" stroke-width="1.0" />
<circle cx="392.40" cy="82.80" r="1.6" fill="#AEDCA9" stroke="none" stroke-width="1"/>
<circle cx="405.27" cy="79.50" r="1.6" fill="#AEDCA9" stroke="none" stroke-width="1"/>
<circle cx="418.13" cy="86.70" r="1.6" fill="#AEDCA9" stroke="none" stroke-width="1"/>
<circle cx="431.00" cy="79.60" r="1.6" fill="#AEDCA9" stroke="none" stroke-width="1"/>
<polyline points="392.40,81.00 405.27,82.00 418.13,80.00 431.00,80.60" fill="none" stroke="#EFA9C5" stroke-width="1.0" />
<circle cx="392.40" cy="81.00" r="1.6" fill="#EFA9C5" stroke="none" stroke-width="1"/>
<circle cx="405.27" cy="82.00" r="1.6" fill="#EFA9C5" stroke="none" stroke-width="1"/>
<circle cx="418.13" cy="80.00" r="1.6" fill="#EFA9C5" stroke="none" stroke-width="1"/>
<circle cx="431.00" cy="80.60" r="1.6" fill="#EFA9C5" stroke="none" stroke-width="1"/>
<polyline points="392.40,81.00 405.27,74.60 418.13,85.70 431.00,81.40" fill="none" stroke="#9C5C4E" stroke-width="1.05" />
<circle cx="392.40" cy="81.00" r="1.6" fill="#9C5C4E" stroke="none" stroke-width="1"/>
<circle cx="405.27" cy="74.60" r="1.6" fill="#9C5C4E" stroke="none" stroke-width="1"/>
<circle cx="418.13" cy="85.70" r="1.6" fill="#9C5C4E" stroke="none" stroke-width="1"/>
<circle cx="431.00" cy="81.40" r="1.6" fill="#9C5C4E" stroke="none" stroke-width="1"/>
<polyline points="441.30,84.60 454.17,76.90 467.03,90.60 479.90,90.00" fill="none" stroke="#AEDCA9" stroke-width="1.0" />
<circle cx="441.30" cy="84.60" r="1.6" fill="#AEDCA9" stroke="none" stroke-width="1"/>
<circle cx="454.17" cy="76.90" r="1.6" fill="#AEDCA9" stroke="none" stroke-width="1"/>
<circle cx="467.03" cy="90.60" r="1.6" fill="#AEDCA9" stroke="none" stroke-width="1"/>
<circle cx="479.90" cy="90.00" r="1.6" fill="#AEDCA9" stroke="none" stroke-width="1"/>
<polyline points="441.30,84.60 454.17,81.00 467.03,89.00 479.90,84.10" fill="none" stroke="#EFA9C5" stroke-width="1.0" />
<circle cx="441.30" cy="84.60" r="1.6" fill="#EFA9C5" stroke="none" stroke-width="1"/>
<circle cx="454.17" cy="81.00" r="1.6" fill="#EFA9C5" stroke="none" stroke-width="1"/>
<circle cx="467.03" cy="89.00" r="1.6" fill="#EFA9C5" stroke="none" stroke-width="1"/>
<circle cx="479.90" cy="84.10" r="1.6" fill="#EFA9C5" stroke="none" stroke-width="1"/>
<polyline points="441.30,70.00 454.17,76.50 467.03,82.90 479.90,72.60" fill="none" stroke="#9C5C4E" stroke-width="1.05" />
<circle cx="441.30" cy="70.00" r="1.6" fill="#9C5C4E" stroke="none" stroke-width="1"/>
<circle cx="454.17" cy="76.50" r="1.6" fill="#9C5C4E" stroke="none" stroke-width="1"/>
<circle cx="467.03" cy="82.90" r="1.6" fill="#9C5C4E" stroke="none" stroke-width="1"/>
<circle cx="479.90" cy="72.60" r="1.6" fill="#9C5C4E" stroke="none" stroke-width="1"/>
<polyline points="490.30,70.80 503.17,82.30 516.03,81.00 528.90,78.80" fill="none" stroke="#AEDCA9" stroke-width="1.0" />
<circle cx="490.30" cy="70.80" r="1.6" fill="#AEDCA9" stroke="none" stroke-width="1"/>
<circle cx="503.17" cy="82.30" r="1.6" fill="#AEDCA9" stroke="none" stroke-width="1"/>
<circle cx="516.03" cy="81.00" r="1.6" fill="#AEDCA9" stroke="none" stroke-width="1"/>
<circle cx="528.90" cy="78.80" r="1.6" fill="#AEDCA9" stroke="none" stroke-width="1"/>
<polyline points="490.30,95.20 503.17,84.10 516.03,77.70 528.90,85.70" fill="none" stroke="#EFA9C5" stroke-width="1.0" />
<circle cx="490.30" cy="95.20" r="1.6" fill="#EFA9C5" stroke="none" stroke-width="1"/>
<circle cx="503.17" cy="84.10" r="1.6" fill="#EFA9C5" stroke="none" stroke-width="1"/>
<circle cx="516.03" cy="77.70" r="1.6" fill="#EFA9C5" stroke="none" stroke-width="1"/>
<circle cx="528.90" cy="85.70" r="1.6" fill="#EFA9C5" stroke="none" stroke-width="1"/>
<polyline points="490.30,84.10 503.17,74.60 516.03,83.00 528.90,78.80" fill="none" stroke="#9C5C4E" stroke-width="1.05" />
<circle cx="490.30" cy="84.10" r="1.6" fill="#9C5C4E" stroke="none" stroke-width="1"/>
<circle cx="503.17" cy="74.60" r="1.6" fill="#9C5C4E" stroke="none" stroke-width="1"/>
<circle cx="516.03" cy="83.00" r="1.6" fill="#9C5C4E" stroke="none" stroke-width="1"/>
<circle cx="528.90" cy="78.80" r="1.6" fill="#9C5C4E" stroke="none" stroke-width="1"/>
<polyline points="539.50,76.20 552.37,82.90 565.23,84.40 578.10,85.70" fill="none" stroke="#AEDCA9" stroke-width="1.0" />
<circle cx="539.50" cy="76.20" r="1.6" fill="#AEDCA9" stroke="none" stroke-width="1"/>
<circle cx="552.37" cy="82.90" r="1.6" fill="#AEDCA9" stroke="none" stroke-width="1"/>
<circle cx="565.23" cy="84.40" r="1.6" fill="#AEDCA9" stroke="none" stroke-width="1"/>
<circle cx="578.10" cy="85.70" r="1.6" fill="#AEDCA9" stroke="none" stroke-width="1"/>
<polyline points="539.50,74.90 552.37,88.00 565.23,84.90 578.10,82.60" fill="none" stroke="#EFA9C5" stroke-width="1.0" />
<circle cx="539.50" cy="74.90" r="1.6" fill="#EFA9C5" stroke="none" stroke-width="1"/>
<circle cx="552.37" cy="88.00" r="1.6" fill="#EFA9C5" stroke="none" stroke-width="1"/>
<circle cx="565.23" cy="84.90" r="1.6" fill="#EFA9C5" stroke="none" stroke-width="1"/>
<circle cx="578.10" cy="82.60" r="1.6" fill="#EFA9C5" stroke="none" stroke-width="1"/>
<polyline points="539.50,69.10 552.37,82.60 565.23,90.00 578.10,95.30" fill="none" stroke="#9C5C4E" stroke-width="1.05" />
<circle cx="539.50" cy="69.10" r="1.6" fill="#9C5C4E" stroke="none" stroke-width="1"/>
<circle cx="552.37" cy="82.60" r="1.6" fill="#9C5C4E" stroke="none" stroke-width="1"/>
<circle cx="565.23" cy="90.00" r="1.6" fill="#9C5C4E" stroke="none" stroke-width="1"/>
<circle cx="578.10" cy="95.30" r="1.6" fill="#9C5C4E" stroke="none" stroke-width="1"/>
<polyline points="588.60,87.20 601.47,90.60 614.33,113.70 627.20,132.70" fill="none" stroke="#AEDCA9" stroke-width="1.0" />
<circle cx="588.60" cy="87.20" r="1.6" fill="#AEDCA9" stroke="none" stroke-width="1"/>
<circle cx="601.47" cy="90.60" r="1.6" fill="#AEDCA9" stroke="none" stroke-width="1"/>
<circle cx="614.33" cy="113.70" r="1.6" fill="#AEDCA9" stroke="none" stroke-width="1"/>
<circle cx="627.20" cy="132.70" r="1.6" fill="#AEDCA9" stroke="none" stroke-width="1"/>
<polyline points="588.60,88.40 601.47,104.80 614.33,142.40 627.20,158.00" fill="none" stroke="#EFA9C5" stroke-width="1.0" />
<circle cx="588.60" cy="88.40" r="1.6" fill="#EFA9C5" stroke="none" stroke-width="1"/>
<circle cx="601.47" cy="104.80" r="1.6" fill="#EFA9C5" stroke="none" stroke-width="1"/>
<circle cx="614.33" cy="142.40" r="1.6" fill="#EFA9C5" stroke="none" stroke-width="1"/>
<circle cx="627.20" cy="158.00" r="1.6" fill="#EFA9C5" stroke="none" stroke-width="1"/>
<polyline points="588.60,82.90 601.47,87.20 614.33,82.90 627.20,79.80" fill="none" stroke="#9C5C4E" stroke-width="1.05" />
<circle cx="588.60" cy="82.90" r="1.6" fill="#9C5C4E" stroke="none" stroke-width="1"/>
<circle cx="601.47" cy="87.20" r="1.6" fill="#9C5C4E" stroke="none" stroke-width="1"/>
<circle cx="614.33" cy="82.90" r="1.6" fill="#9C5C4E" stroke="none" stroke-width="1"/>
<circle cx="627.20" cy="79.80" r="1.6" fill="#9C5C4E" stroke="none" stroke-width="1"/>
<polyline points="637.80,84.40 650.67,85.30 663.53,74.60 676.40,83.40" fill="none" stroke="#AEDCA9" stroke-width="1.0" />
<circle cx="637.80" cy="84.40" r="1.6" fill="#AEDCA9" stroke="none" stroke-width="1"/>
<circle cx="650.67" cy="85.30" r="1.6" fill="#AEDCA9" stroke="none" stroke-width="1"/>
<circle cx="663.53" cy="74.60" r="1.6" fill="#AEDCA9" stroke="none" stroke-width="1"/>
<circle cx="676.40" cy="83.40" r="1.6" fill="#AEDCA9" stroke="none" stroke-width="1"/>
<polyline points="637.80,82.90 650.67,80.80 663.53,87.50 676.40,88.30" fill="none" stroke="#EFA9C5" stroke-width="1.0" />
<circle cx="637.80" cy="82.90" r="1.6" fill="#EFA9C5" stroke="none" stroke-width="1"/>
<circle cx="650.67" cy="80.80" r="1.6" fill="#EFA9C5" stroke="none" stroke-width="1"/>
<circle cx="663.53" cy="87.50" r="1.6" fill="#EFA9C5" stroke="none" stroke-width="1"/>
<circle cx="676.40" cy="88.30" r="1.6" fill="#EFA9C5" stroke="none" stroke-width="1"/>
<polyline points="637.80,81.80 650.67,81.40 663.53,82.90 676.40,74.50" fill="none" stroke="#9C5C4E" stroke-width="1.05" />
<circle cx="637.80" cy="81.80" r="1.6" fill="#9C5C4E" stroke="none" stroke-width="1"/>
<circle cx="650.67" cy="81.40" r="1.6" fill="#9C5C4E" stroke="none" stroke-width="1"/>
<circle cx="663.53" cy="82.90" r="1.6" fill="#9C5C4E" stroke="none" stroke-width="1"/>
<circle cx="676.40" cy="74.50" r="1.6" fill="#9C5C4E" stroke="none" stroke-width="1"/>
<text x="386.30" y="83.20" font-size="10" fill="#333" text-anchor="end" >100</text>
<text x="386.30" y="122.60" font-size="10" fill="#333" text-anchor="end" >50</text>
<text x="386.30" y="162.00" font-size="10" fill="#333" text-anchor="end" >0</text>
<text x="366.20" y="115.40" font-size="14" fill="#333" text-anchor="middle" textLength="119.20" lengthAdjust="spacingAndGlyphs" transform="rotate(-90 366.20 115.40)" >Retention Rate (%)</text>
<text x="392.40" y="172.70" font-size="9.4" fill="#222" text-anchor="middle" textLength="5.70" lengthAdjust="spacingAndGlyphs" >0</text>
<text x="405.27" y="172.70" font-size="9.4" fill="#222" text-anchor="middle" textLength="11.40" lengthAdjust="spacingAndGlyphs" >30</text>
<text x="418.13" y="172.70" font-size="9.4" fill="#222" text-anchor="middle" textLength="11.40" lengthAdjust="spacingAndGlyphs" >60</text>
<text x="431.00" y="172.70" font-size="9.4" fill="#222" text-anchor="middle" textLength="11.40" lengthAdjust="spacingAndGlyphs" >90</text>
<text x="441.30" y="172.70" font-size="9.4" fill="#222" text-anchor="middle" textLength="5.70" lengthAdjust="spacingAndGlyphs" >0</text>
<text x="454.17" y="172.70" font-size="9.4" fill="#222" text-anchor="middle" textLength="11.40" lengthAdjust="spacingAndGlyphs" >30</text>
<text x="467.03" y="172.70" font-size="9.4" fill="#222" text-anchor="middle" textLength="11.40" lengthAdjust="spacingAndGlyphs" >60</text>
<text x="479.90" y="172.70" font-size="9.4" fill="#222" text-anchor="middle" textLength="11.40" lengthAdjust="spacingAndGlyphs" >90</text>
<text x="490.30" y="172.70" font-size="9.4" fill="#222" text-anchor="middle" textLength="5.70" lengthAdjust="spacingAndGlyphs" >0</text>
<text x="503.17" y="172.70" font-size="9.4" fill="#222" text-anchor="middle" textLength="11.40" lengthAdjust="spacingAndGlyphs" >30</text>
<text x="516.03" y="172.70" font-size="9.4" fill="#222" text-anchor="middle" textLength="11.40" lengthAdjust="spacingAndGlyphs" >60</text>
<text x="528.90" y="172.70" font-size="9.4" fill="#222" text-anchor="middle" textLength="11.40" lengthAdjust="spacingAndGlyphs" >90</text>
<text x="539.50" y="172.70" font-size="9.4" fill="#222" text-anchor="middle" textLength="5.70" lengthAdjust="spacingAndGlyphs" >0</text>
<text x="552.37" y="172.70" font-size="9.4" fill="#222" text-anchor="middle" textLength="11.40" lengthAdjust="spacingAndGlyphs" >30</text>
<text x="565.23" y="172.70" font-size="9.4" fill="#222" text-anchor="middle" textLength="11.40" lengthAdjust="spacingAndGlyphs" >60</text>
<text x="578.10" y="172.70" font-size="9.4" fill="#222" text-anchor="middle" textLength="11.40" lengthAdjust="spacingAndGlyphs" >90</text>
<text x="588.60" y="172.70" font-size="9.4" fill="#222" text-anchor="middle" textLength="5.70" lengthAdjust="spacingAndGlyphs" >0</text>
<text x="601.47" y="172.70" font-size="9.4" fill="#222" text-anchor="middle" textLength="11.40" lengthAdjust="spacingAndGlyphs" >30</text>
<text x="614.33" y="172.70" font-size="9.4" fill="#222" text-anchor="middle" textLength="11.40" lengthAdjust="spacingAndGlyphs" >60</text>
<text x="627.20" y="172.70" font-size="9.4" fill="#222" text-anchor="middle" textLength="11.40" lengthAdjust="spacingAndGlyphs" >90</text>
<text x="637.80" y="172.70" font-size="9.4" fill="#222" text-anchor="middle" textLength="5.70" lengthAdjust="spacingAndGlyphs" >0</text>
<text x="650.67" y="172.70" font-size="9.4" fill="#222" text-anchor="middle" textLength="11.40" lengthAdjust="spacingAndGlyphs" >30</text>
<text x="663.53" y="172.70" font-size="9.4" fill="#222" text-anchor="middle" textLength="11.40" lengthAdjust="spacingAndGlyphs" >60</text>
<text x="676.40" y="172.70" font-size="9.4" fill="#222" text-anchor="middle" textLength="11.40" lengthAdjust="spacingAndGlyphs" >90</text>
<text x="525.90" y="195.50" font-size="14.4" fill="#333" text-anchor="middle" textLength="78.30" lengthAdjust="spacingAndGlyphs" >Generations</text>
<text x="-0.90" y="223.40" font-size="23.5" fill="#111" stroke="#111" stroke-width="0.25">c</text>
<circle cx="12.90" cy="221.80" r="1.75" fill="#111" stroke="none" stroke-width="1"/>
<line x1="220.20" y1="217.70" x2="238.60" y2="217.70" stroke="#E7718A" stroke-width="1.3" />
<circle cx="229.40" cy="217.70" r="4.3" fill="#E7718A" stroke="none" stroke-width="1"/>
<text x="248.80" y="221.80" font-size="11.4" fill="#222" textLength="31.10" lengthAdjust="spacingAndGlyphs" >Donor</text>
<line x1="289.70" y1="217.70" x2="307.70" y2="217.70" stroke="#6EC5C1" stroke-width="1.3" />
<polygon points="298.70,211.06 293.20,220.96 304.20,220.96" fill="#6EC5C1" stroke="none" stroke-width="1"/>
<text x="318.30" y="221.80" font-size="11.4" fill="#222" >Recipient</text>
<line x1="375.80" y1="217.70" x2="394.20" y2="217.70" stroke="#7684C3" stroke-width="1.3" />
<polygon points="385.00,213.20 389.50,217.70 385.00,222.20 380.50,217.70" fill="#7684C3" stroke="none" stroke-width="1"/>
<text x="405.00" y="221.80" font-size="11.4" fill="#222" textLength="79.40" lengthAdjust="spacingAndGlyphs" >Transconjugant</text>
<rect x="52.60" y="247.40" width="95.70" height="83.60" fill="#fff" stroke="none" stroke-width="1" />
<line x1="52.60" y1="252.08" x2="148.30" y2="252.08" stroke="#F3F3F3" stroke-width="0.7" />
<line x1="52.60" y1="277.32" x2="148.30" y2="277.32" stroke="#F3F3F3" stroke-width="0.7" />
<line x1="52.60" y1="302.56" x2="148.30" y2="302.56" stroke="#F3F3F3" stroke-width="0.7" />
<line x1="52.60" y1="327.80" x2="148.30" y2="327.80" stroke="#F3F3F3" stroke-width="0.7" />
<line x1="52.60" y1="264.70" x2="148.30" y2="264.70" stroke="#EBEBEB" stroke-width="0.9" />
<line x1="52.60" y1="289.94" x2="148.30" y2="289.94" stroke="#EBEBEB" stroke-width="0.9" />
<line x1="52.60" y1="315.18" x2="148.30" y2="315.18" stroke="#EBEBEB" stroke-width="0.9" />
<line x1="70.35" y1="247.40" x2="70.35" y2="331.00" stroke="#EBEBEB" stroke-width="0.9" />
<line x1="100.45" y1="247.40" x2="100.45" y2="331.00" stroke="#EBEBEB" stroke-width="0.9" />
<line x1="130.55" y1="247.40" x2="130.55" y2="331.00" stroke="#EBEBEB" stroke-width="0.9" />
<line x1="52.60" y1="308.24" x2="148.30" y2="308.24" stroke="#CDCDCD" stroke-width="0.75" stroke-dasharray="1.3,1.1"/>
<g clip-path="url(#cc00)">
<clipPath id="cc00"><rect x="52.6" y="247.4" width="95.7" height="83.6"/></clipPath>
<polyline points="70.35,282.10 100.45,282.10 130.55,282.10" fill="none" stroke="#7684C3" stroke-width="1.0" />
<polyline points="70.35,264.50 100.45,264.20 130.55,265.80" fill="none" stroke="#6EC5C1" stroke-width="1.0" />
<polyline points="70.35,267.80 100.45,264.90 130.55,269.50" fill="none" stroke="#E7718A" stroke-width="1.0" />
<polygon points="70.35,276.55 73.30,279.50 70.35,282.45 67.40,279.50" fill="#7684C3" stroke="none" stroke-width="1"/>
<polygon points="70.35,281.45 73.30,284.40 70.35,287.35 67.40,284.40" fill="#7684C3" stroke="none" stroke-width="1"/>
<polygon points="70.35,285.85 73.30,288.80 70.35,291.75 67.40,288.80" fill="#7684C3" stroke="none" stroke-width="1"/>
<polygon points="70.35,288.15 73.30,291.10 70.35,294.05 67.40,291.10" fill="#7684C3" stroke="none" stroke-width="1"/>
<circle cx="70.35" cy="267.80" r="3.05" fill="#E7718A" stroke="none" stroke-width="1"/>
<circle cx="70.35" cy="268.50" r="3.05" fill="#E7718A" stroke="none" stroke-width="1"/>
<polygon points="70.35,259.70 66.50,266.63 74.20,266.63" fill="#6EC5C1" stroke="none" stroke-width="1"/>
<polygon points="70.35,257.70 66.50,264.63 74.20,264.63" fill="#6EC5C1" stroke="none" stroke-width="1"/>
<polygon points="100.45,276.55 103.40,279.50 100.45,282.45 97.50,279.50" fill="#7684C3" stroke="none" stroke-width="1"/>
<polygon points="100.45,282.95 103.40,285.90 100.45,288.85 97.50,285.90" fill="#7684C3" stroke="none" stroke-width="1"/>
<polygon points="100.45,287.85 103.40,290.80 100.45,293.75 97.50,290.80" fill="#7684C3" stroke="none" stroke-width="1"/>
<circle cx="100.45" cy="264.90" r="3.05" fill="#E7718A" stroke="none" stroke-width="1"/>
<circle cx="100.45" cy="266.00" r="3.05" fill="#E7718A" stroke="none" stroke-width="1"/>
<polygon points="100.45,260.10 96.60,267.03 104.30,267.03" fill="#6EC5C1" stroke="none" stroke-width="1"/>
<polygon points="100.45,259.20 96.60,266.13 104.30,266.13" fill="#6EC5C1" stroke="none" stroke-width="1"/>
<polygon points="130.55,275.65 133.50,278.60 130.55,281.55 127.60,278.60" fill="#7684C3" stroke="none" stroke-width="1"/>
<polygon points="130.55,279.45 133.50,282.40 130.55,285.35 127.60,282.40" fill="#7684C3" stroke="none" stroke-width="1"/>
<polygon points="130.55,288.15 133.50,291.10 130.55,294.05 127.60,291.10" fill="#7684C3" stroke="none" stroke-width="1"/>
<circle cx="130.55" cy="268.40" r="3.05" fill="#E7718A" stroke="none" stroke-width="1"/>
<circle cx="130.55" cy="271.30" r="3.05" fill="#E7718A" stroke="none" stroke-width="1"/>
<circle cx="130.55" cy="270.00" r="3.05" fill="#E7718A" stroke="none" stroke-width="1"/>
<polygon points="130.55,261.10 126.70,268.03 134.40,268.03" fill="#6EC5C1" stroke="none" stroke-width="1"/>
<polygon points="130.55,259.70 126.70,266.63 134.40,266.63" fill="#6EC5C1" stroke="none" stroke-width="1"/>
</g>
<rect x="52.60" y="247.40" width="95.70" height="83.60" fill="none" stroke="#7A7A7A" stroke-width="0.9" />
<rect x="52.60" y="231.10" width="95.70" height="16.30" fill="#D9D9D9" stroke="#7A7A7A" stroke-width="0.9" />
<text x="100.45" y="242.80" font-size="10.2" fill="#1A1A1A" text-anchor="middle" >pKPC2</text>
<line x1="50.10" y1="264.70" x2="52.60" y2="264.70" stroke="#333" stroke-width="0.9" />
<text x="48.30" y="267.80" font-size="8.8" fill="#4D4D4D" text-anchor="end" >10^10</text>
<line x1="50.10" y1="289.94" x2="52.60" y2="289.94" stroke="#333" stroke-width="0.9" />
<text x="48.30" y="293.04" font-size="8.8" fill="#4D4D4D" text-anchor="end" >10^6</text>
<line x1="50.10" y1="315.18" x2="52.60" y2="315.18" stroke="#333" stroke-width="0.9" />
<text x="48.30" y="318.28" font-size="8.8" fill="#4D4D4D" text-anchor="end" >10^2</text>
<rect x="152.80" y="247.40" width="95.70" height="83.60" fill="#fff" stroke="none" stroke-width="1" />
<line x1="152.80" y1="252.08" x2="248.50" y2="252.08" stroke="#F3F3F3" stroke-width="0.7" />
<line x1="152.80" y1="277.32" x2="248.50" y2="277.32" stroke="#F3F3F3" stroke-width="0.7" />
<line x1="152.80" y1="302.56" x2="248.50" y2="302.56" stroke="#F3F3F3" stroke-width="0.7" />
<line x1="152.80" y1="327.80" x2="248.50" y2="327.80" stroke="#F3F3F3" stroke-width="0.7" />
<line x1="152.80" y1="264.70" x2="248.50" y2="264.70" stroke="#EBEBEB" stroke-width="0.9" />
<line x1="152.80" y1="289.94" x2="248.50" y2="289.94" stroke="#EBEBEB" stroke-width="0.9" />
<line x1="152.80" y1="315.18" x2="248.50" y2="315.18" stroke="#EBEBEB" stroke-width="0.9" />
<line x1="170.55" y1="247.40" x2="170.55" y2="331.00" stroke="#EBEBEB" stroke-width="0.9" />
<line x1="200.65" y1="247.40" x2="200.65" y2="331.00" stroke="#EBEBEB" stroke-width="0.9" />
<line x1="230.75" y1="247.40" x2="230.75" y2="331.00" stroke="#EBEBEB" stroke-width="0.9" />
<line x1="152.80" y1="308.24" x2="248.50" y2="308.24" stroke="#CDCDCD" stroke-width="0.75" stroke-dasharray="1.3,1.1"/>
<g clip-path="url(#cc01)">
<clipPath id="cc01"><rect x="152.8" y="247.4" width="95.7" height="83.6"/></clipPath>
<polyline points="170.55,280.60 200.65,284.40 230.75,298.00" fill="none" stroke="#7684C3" stroke-width="1.0" />
<polyline points="170.55,266.00 200.65,264.50 230.75,270.30" fill="none" stroke="#6EC5C1" stroke-width="1.0" />
<polyline points="170.55,267.50 200.65,267.20 230.75,267.50" fill="none" stroke="#E7718A" stroke-width="1.0" />
<polygon points="170.55,276.55 173.50,279.50 170.55,282.45 167.60,279.50" fill="#7684C3" stroke="none" stroke-width="1"/>
<polygon points="170.55,284.35 173.50,287.30 170.55,290.25 167.60,287.30" fill="#7684C3" stroke="none" stroke-width="1"/>
<circle cx="170.55" cy="267.80" r="3.05" fill="#E7718A" stroke="none" stroke-width="1"/>
<circle cx="170.55" cy="266.00" r="3.05" fill="#E7718A" stroke="none" stroke-width="1"/>
<polygon points="170.55,257.70 166.70,264.63 174.40,264.63" fill="#6EC5C1" stroke="none" stroke-width="1"/>
<polygon points="170.55,267.00 166.70,273.93 174.40,273.93" fill="#6EC5C1" stroke="none" stroke-width="1"/>
<polygon points="170.55,269.90 166.70,276.83 174.40,276.83" fill="#6EC5C1" stroke="none" stroke-width="1"/>
<polygon points="200.65,280.05 203.60,283.00 200.65,285.95 197.70,283.00" fill="#7684C3" stroke="none" stroke-width="1"/>
<polygon points="200.65,285.25 203.60,288.20 200.65,291.15 197.70,288.20" fill="#7684C3" stroke="none" stroke-width="1"/>
<polygon points="200.65,288.75 203.60,291.70 200.65,294.65 197.70,291.70" fill="#7684C3" stroke="none" stroke-width="1"/>
<polygon points="200.65,293.15 203.60,296.10 200.65,299.05 197.70,296.10" fill="#7684C3" stroke="none" stroke-width="1"/>
<circle cx="200.65" cy="267.50" r="3.05" fill="#E7718A" stroke="none" stroke-width="1"/>
<circle cx="200.65" cy="265.50" r="3.05" fill="#E7718A" stroke="none" stroke-width="1"/>
<polygon points="200.65,255.90 196.80,262.83 204.50,262.83" fill="#6EC5C1" stroke="none" stroke-width="1"/>
<polygon points="200.65,272.80 196.80,279.73 204.50,279.73" fill="#6EC5C1" stroke="none" stroke-width="1"/>
<polygon points="230.75,296.05 233.70,299.00 230.75,301.95 227.80,299.00" fill="#7684C3" stroke="none" stroke-width="1"/>
<polygon points="230.75,298.05 233.70,301.00 230.75,303.95 227.80,301.00" fill="#7684C3" stroke="none" stroke-width="1"/>
<polygon points="230.75,300.45 233.70,303.40 230.75,306.35 227.80,303.40" fill="#7684C3" stroke="none" stroke-width="1"/>
<circle cx="230.75" cy="267.80" r="3.05" fill="#E7718A" stroke="none" stroke-width="1"/>
<circle cx="230.75" cy="266.00" r="3.05" fill="#E7718A" stroke="none" stroke-width="1"/>
<polygon points="230.75,276.30 226.90,283.23 234.60,283.23" fill="#6EC5C1" stroke="none" stroke-width="1"/>
<polygon points="230.75,280.10 226.90,287.03 234.60,287.03" fill="#6EC5C1" stroke="none" stroke-width="1"/>
</g>
<rect x="152.80" y="247.40" width="95.70" height="83.60" fill="none" stroke="#7A7A7A" stroke-width="0.9" />
<rect x="152.80" y="231.10" width="95.70" height="16.30" fill="#D9D9D9" stroke="#7A7A7A" stroke-width="0.9" />
<text x="200.65" y="242.80" font-size="10.2" fill="#1A1A1A" text-anchor="middle" >pKpQIL</text>
<rect x="253.00" y="247.40" width="95.70" height="83.60" fill="#fff" stroke="none" stroke-width="1" />
<line x1="253.00" y1="252.08" x2="348.70" y2="252.08" stroke="#F3F3F3" stroke-width="0.7" />
<line x1="253.00" y1="277.32" x2="348.70" y2="277.32" stroke="#F3F3F3" stroke-width="0.7" />
<line x1="253.00" y1="302.56" x2="348.70" y2="302.56" stroke="#F3F3F3" stroke-width="0.7" />
<line x1="253.00" y1="327.80" x2="348.70" y2="327.80" stroke="#F3F3F3" stroke-width="0.7" />
<line x1="253.00" y1="264.70" x2="348.70" y2="264.70" stroke="#EBEBEB" stroke-width="0.9" />
<line x1="253.00" y1="289.94" x2="348.70" y2="289.94" stroke="#EBEBEB" stroke-width="0.9" />
<line x1="253.00" y1="315.18" x2="348.70" y2="315.18" stroke="#EBEBEB" stroke-width="0.9" />
<line x1="270.75" y1="247.40" x2="270.75" y2="331.00" stroke="#EBEBEB" stroke-width="0.9" />
<line x1="300.85" y1="247.40" x2="300.85" y2="331.00" stroke="#EBEBEB" stroke-width="0.9" />
<line x1="330.95" y1="247.40" x2="330.95" y2="331.00" stroke="#EBEBEB" stroke-width="0.9" />
<line x1="253.00" y1="308.24" x2="348.70" y2="308.24" stroke="#CDCDCD" stroke-width="0.75" stroke-dasharray="1.3,1.1"/>
<g clip-path="url(#cc02)">
<clipPath id="cc02"><rect x="253.0" y="247.4" width="95.7" height="83.6"/></clipPath>
<polyline points="270.75,273.00 300.85,270.50 330.95,275.00" fill="none" stroke="#7684C3" stroke-width="1.0" />
<polyline points="270.75,267.20 300.85,264.70 330.95,267.20" fill="none" stroke="#6EC5C1" stroke-width="1.0" />
<polyline points="270.75,269.50 300.85,268.00 330.95,270.00" fill="none" stroke="#E7718A" stroke-width="1.0" />
<polygon points="270.75,269.75 273.70,272.70 270.75,275.65 267.80,272.70" fill="#7684C3" stroke="none" stroke-width="1"/>
<polygon points="270.75,285.85 273.70,288.80 270.75,291.75 267.80,288.80" fill="#7684C3" stroke="none" stroke-width="1"/>
<circle cx="270.75" cy="270.70" r="3.05" fill="#E7718A" stroke="none" stroke-width="1"/>
<circle cx="270.75" cy="269.00" r="3.05" fill="#E7718A" stroke="none" stroke-width="1"/>
<polygon points="270.75,259.70 266.90,266.63 274.60,266.63" fill="#6EC5C1" stroke="none" stroke-width="1"/>
<polygon points="270.75,272.20 266.90,279.13 274.60,279.13" fill="#6EC5C1" stroke="none" stroke-width="1"/>
<polygon points="300.85,267.75 303.80,270.70 300.85,273.65 297.90,270.70" fill="#7684C3" stroke="none" stroke-width="1"/>
<polygon points="300.85,286.75 303.80,289.70 300.85,292.65 297.90,289.70" fill="#7684C3" stroke="none" stroke-width="1"/>
<circle cx="300.85" cy="268.40" r="3.05" fill="#E7718A" stroke="none" stroke-width="1"/>
<polygon points="300.85,258.20 297.00,265.13 304.70,265.13" fill="#6EC5C1" stroke="none" stroke-width="1"/>
<polygon points="300.85,260.70 297.00,267.63 304.70,267.63" fill="#6EC5C1" stroke="none" stroke-width="1"/>
<polygon points="330.95,271.25 333.90,274.20 330.95,277.15 328.00,274.20" fill="#7684C3" stroke="none" stroke-width="1"/>
<polygon points="330.95,288.75 333.90,291.70 330.95,294.65 328.00,291.70" fill="#7684C3" stroke="none" stroke-width="1"/>
<polygon points="330.95,292.55 333.90,295.50 330.95,298.45 328.00,295.50" fill="#7684C3" stroke="none" stroke-width="1"/>
<circle cx="330.95" cy="270.70" r="3.05" fill="#E7718A" stroke="none" stroke-width="1"/>
<circle cx="330.95" cy="275.70" r="3.05" fill="#E7718A" stroke="none" stroke-width="1"/>
<polygon points="330.95,260.20 327.10,267.13 334.80,267.13" fill="#6EC5C1" stroke="none" stroke-width="1"/>
<polygon points="330.95,261.70 327.10,268.63 334.80,268.63" fill="#6EC5C1" stroke="none" stroke-width="1"/>
</g>
<rect x="253.00" y="247.40" width="95.70" height="83.60" fill="none" stroke="#7A7A7A" stroke-width="0.9" />
<rect x="253.00" y="231.10" width="95.70" height="16.30" fill="#D9D9D9" stroke="#7A7A7A" stroke-width="0.9" />
<text x="300.85" y="242.80" font-size="10.2" fill="#1A1A1A" text-anchor="middle" >pNDM1</text>
<rect x="353.20" y="247.40" width="95.70" height="83.60" fill="#fff" stroke="none" stroke-width="1" />
<line x1="353.20" y1="252.08" x2="448.90" y2="252.08" stroke="#F3F3F3" stroke-width="0.7" />
<line x1="353.20" y1="277.32" x2="448.90" y2="277.32" stroke="#F3F3F3" stroke-width="0.7" />
<line x1="353.20" y1="302.56" x2="448.90" y2="302.56" stroke="#F3F3F3" stroke-width="0.7" />
<line x1="353.20" y1="327.80" x2="448.90" y2="327.80" stroke="#F3F3F3" stroke-width="0.7" />
<line x1="353.20" y1="264.70" x2="448.90" y2="264.70" stroke="#EBEBEB" stroke-width="0.9" />
<line x1="353.20" y1="289.94" x2="448.90" y2="289.94" stroke="#EBEBEB" stroke-width="0.9" />
<line x1="353.20" y1="315.18" x2="448.90" y2="315.18" stroke="#EBEBEB" stroke-width="0.9" />
<line x1="370.95" y1="247.40" x2="370.95" y2="331.00" stroke="#EBEBEB" stroke-width="0.9" />
<line x1="401.05" y1="247.40" x2="401.05" y2="331.00" stroke="#EBEBEB" stroke-width="0.9" />
<line x1="431.15" y1="247.40" x2="431.15" y2="331.00" stroke="#EBEBEB" stroke-width="0.9" />
<line x1="353.20" y1="308.24" x2="448.90" y2="308.24" stroke="#CDCDCD" stroke-width="0.75" stroke-dasharray="1.3,1.1"/>
<g clip-path="url(#cc03)">
<clipPath id="cc03"><rect x="353.20000000000005" y="247.4" width="95.7" height="83.6"/></clipPath>
<polyline points="370.95,297.00 401.05,300.50 431.15,295.00" fill="none" stroke="#7684C3" stroke-width="1.0" />
<polyline points="370.95,266.00 401.05,267.50 431.15,273.00" fill="none" stroke="#6EC5C1" stroke-width="1.0" />
<polyline points="370.95,270.00 401.05,268.50 431.15,273.00" fill="none" stroke="#E7718A" stroke-width="1.0" />
<polygon points="370.95,291.65 373.90,294.60 370.95,297.55 368.00,294.60" fill="#7684C3" stroke="none" stroke-width="1"/>
<polygon points="370.95,296.05 373.90,299.00 370.95,301.95 368.00,299.00" fill="#7684C3" stroke="none" stroke-width="1"/>
<polygon points="370.95,304.85 373.90,307.80 370.95,310.75 368.00,307.80" fill="#7684C3" stroke="none" stroke-width="1"/>
<circle cx="370.95" cy="270.70" r="3.05" fill="#E7718A" stroke="none" stroke-width="1"/>
<circle cx="370.95" cy="272.00" r="3.05" fill="#E7718A" stroke="none" stroke-width="1"/>
<polygon points="370.95,260.60 367.10,267.53 374.80,267.53" fill="#6EC5C1" stroke="none" stroke-width="1"/>
<polygon points="401.05,295.15 404.00,298.10 401.05,301.05 398.10,298.10" fill="#7684C3" stroke="none" stroke-width="1"/>
<polygon points="401.05,299.55 404.00,302.50 401.05,305.45 398.10,302.50" fill="#7684C3" stroke="none" stroke-width="1"/>
<circle cx="401.05" cy="269.20" r="3.05" fill="#E7718A" stroke="none" stroke-width="1"/>
<polygon points="401.05,262.60 397.20,269.53 404.90,269.53" fill="#6EC5C1" stroke="none" stroke-width="1"/>
<polygon points="431.15,287.35 434.10,290.30 431.15,293.25 428.20,290.30" fill="#7684C3" stroke="none" stroke-width="1"/>
<polygon points="431.15,297.55 434.10,300.50 431.15,303.45 428.20,300.50" fill="#7684C3" stroke="none" stroke-width="1"/>
<polygon points="431.15,302.45 434.10,305.40 431.15,308.35 428.20,305.40" fill="#7684C3" stroke="none" stroke-width="1"/>
<polygon points="431.15,307.75 434.10,310.70 431.15,313.65 428.20,310.70" fill="#7684C3" stroke="none" stroke-width="1"/>
<circle cx="431.15" cy="274.20" r="3.05" fill="#E7718A" stroke="none" stroke-width="1"/>
<circle cx="431.15" cy="272.00" r="3.05" fill="#E7718A" stroke="none" stroke-width="1"/>
<polygon points="431.15,268.40 427.30,275.33 435.00,275.33" fill="#6EC5C1" stroke="none" stroke-width="1"/>
<polygon points="431.15,264.70 427.30,271.63 435.00,271.63" fill="#6EC5C1" stroke="none" stroke-width="1"/>
</g>
<rect x="353.20" y="247.40" width="95.70" height="83.60" fill="none" stroke="#7A7A7A" stroke-width="0.9" />
<rect x="353.20" y="231.10" width="95.70" height="16.30" fill="#D9D9D9" stroke="#7A7A7A" stroke-width="0.9" />
<text x="401.05" y="242.80" font-size="10.2" fill="#1A1A1A" text-anchor="middle" >RP4-11</text>
<rect x="453.40" y="247.40" width="95.70" height="83.60" fill="#fff" stroke="none" stroke-width="1" />
<line x1="453.40" y1="252.08" x2="549.10" y2="252.08" stroke="#F3F3F3" stroke-width="0.7" />
<line x1="453.40" y1="277.32" x2="549.10" y2="277.32" stroke="#F3F3F3" stroke-width="0.7" />
<line x1="453.40" y1="302.56" x2="549.10" y2="302.56" stroke="#F3F3F3" stroke-width="0.7" />
<line x1="453.40" y1="327.80" x2="549.10" y2="327.80" stroke="#F3F3F3" stroke-width="0.7" />
<line x1="453.40" y1="264.70" x2="549.10" y2="264.70" stroke="#EBEBEB" stroke-width="0.9" />
<line x1="453.40" y1="289.94" x2="549.10" y2="289.94" stroke="#EBEBEB" stroke-width="0.9" />
<line x1="453.40" y1="315.18" x2="549.10" y2="315.18" stroke="#EBEBEB" stroke-width="0.9" />
<line x1="471.15" y1="247.40" x2="471.15" y2="331.00" stroke="#EBEBEB" stroke-width="0.9" />
<line x1="501.25" y1="247.40" x2="501.25" y2="331.00" stroke="#EBEBEB" stroke-width="0.9" />
<line x1="531.35" y1="247.40" x2="531.35" y2="331.00" stroke="#EBEBEB" stroke-width="0.9" />
<line x1="453.40" y1="308.24" x2="549.10" y2="308.24" stroke="#CDCDCD" stroke-width="0.75" stroke-dasharray="1.3,1.1"/>
<g clip-path="url(#cc04)">
<clipPath id="cc04"><rect x="453.40000000000003" y="247.4" width="95.7" height="83.6"/></clipPath>
<polyline points="471.15,311.60 501.25,331.00 531.35,320.30" fill="none" stroke="#7684C3" stroke-width="1.0" />
<polyline points="471.15,265.00 501.25,264.50 531.35,267.50" fill="none" stroke="#6EC5C1" stroke-width="1.0" />
<polyline points="471.15,294.60 501.25,272.20 531.35,272.20" fill="none" stroke="#E7718A" stroke-width="1.0" />
<polygon points="471.15,304.25 474.10,307.20 471.15,310.15 468.20,307.20" fill="#7684C3" stroke="none" stroke-width="1"/>
<polygon points="471.15,308.65 474.10,311.60 471.15,314.55 468.20,311.60" fill="#7684C3" stroke="none" stroke-width="1"/>
<polygon points="471.15,328.05 474.10,331.00 471.15,333.95 468.20,331.00" fill="#7684C3" stroke="none" stroke-width="1"/>
<circle cx="471.15" cy="295.20" r="3.05" fill="#E7718A" stroke="none" stroke-width="1"/>
<circle cx="471.15" cy="297.60" r="3.05" fill="#E7718A" stroke="none" stroke-width="1"/>
<circle cx="471.15" cy="302.00" r="3.05" fill="#E7718A" stroke="none" stroke-width="1"/>
<circle cx="471.15" cy="312.70" r="3.05" fill="#E7718A" stroke="none" stroke-width="1"/>
<circle cx="471.15" cy="314.20" r="3.05" fill="#E7718A" stroke="none" stroke-width="1"/>
<polygon points="471.15,260.60 467.30,267.53 475.00,267.53" fill="#6EC5C1" stroke="none" stroke-width="1"/>
<polygon points="471.15,283.00 467.30,289.93 475.00,289.93" fill="#6EC5C1" stroke="none" stroke-width="1"/>
<polygon points="471.15,286.00 467.30,292.93 475.00,292.93" fill="#6EC5C1" stroke="none" stroke-width="1"/>
<polygon points="501.25,328.05 504.20,331.00 501.25,333.95 498.30,331.00" fill="#7684C3" stroke="none" stroke-width="1"/>
<circle cx="501.25" cy="270.70" r="3.05" fill="#E7718A" stroke="none" stroke-width="1"/>
<circle cx="501.25" cy="305.70" r="3.05" fill="#E7718A" stroke="none" stroke-width="1"/>
<circle cx="501.25" cy="307.80" r="3.05" fill="#E7718A" stroke="none" stroke-width="1"/>
<polygon points="501.25,259.70 497.40,266.63 505.10,266.63" fill="#6EC5C1" stroke="none" stroke-width="1"/>
<polygon points="501.25,293.30 497.40,300.23 505.10,300.23" fill="#6EC5C1" stroke="none" stroke-width="1"/>
<polygon points="501.25,296.20 497.40,303.13 505.10,303.13" fill="#6EC5C1" stroke="none" stroke-width="1"/>
<polygon points="531.35,312.05 534.30,315.00 531.35,317.95 528.40,315.00" fill="#7684C3" stroke="none" stroke-width="1"/>
<polygon points="531.35,328.05 534.30,331.00 531.35,333.95 528.40,331.00" fill="#7684C3" stroke="none" stroke-width="1"/>
<circle cx="531.35" cy="267.80" r="3.05" fill="#E7718A" stroke="none" stroke-width="1"/>
<circle cx="531.35" cy="285.30" r="3.05" fill="#E7718A" stroke="none" stroke-width="1"/>
<circle cx="531.35" cy="295.20" r="3.05" fill="#E7718A" stroke="none" stroke-width="1"/>
<circle cx="531.35" cy="299.00" r="3.05" fill="#E7718A" stroke="none" stroke-width="1"/>
<polygon points="531.35,261.70 527.50,268.63 535.20,268.63" fill="#6EC5C1" stroke="none" stroke-width="1"/>
<polygon points="531.35,265.50 527.50,272.43 535.20,272.43" fill="#6EC5C1" stroke="none" stroke-width="1"/>
<polygon points="531.35,295.60 527.50,302.53 535.20,302.53" fill="#6EC5C1" stroke="none" stroke-width="1"/>
</g>
<rect x="453.40" y="247.40" width="95.70" height="83.60" fill="none" stroke="#7A7A7A" stroke-width="0.9" />
<rect x="453.40" y="231.10" width="95.70" height="16.30" fill="#D9D9D9" stroke="#7A7A7A" stroke-width="0.9" />
<text x="501.25" y="242.80" font-size="10.2" fill="#1A1A1A" text-anchor="middle" >pOX38</text>
<rect x="553.60" y="247.40" width="95.70" height="83.60" fill="#fff" stroke="none" stroke-width="1" />
<line x1="553.60" y1="252.08" x2="649.30" y2="252.08" stroke="#F3F3F3" stroke-width="0.7" />
<line x1="553.60" y1="277.32" x2="649.30" y2="277.32" stroke="#F3F3F3" stroke-width="0.7" />
<line x1="553.60" y1="302.56" x2="649.30" y2="302.56" stroke="#F3F3F3" stroke-width="0.7" />
<line x1="553.60" y1="327.80" x2="649.30" y2="327.80" stroke="#F3F3F3" stroke-width="0.7" />
<line x1="553.60" y1="264.70" x2="649.30" y2="264.70" stroke="#EBEBEB" stroke-width="0.9" />
<line x1="553.60" y1="289.94" x2="649.30" y2="289.94" stroke="#EBEBEB" stroke-width="0.9" />
<line x1="553.60" y1="315.18" x2="649.30" y2="315.18" stroke="#EBEBEB" stroke-width="0.9" />
<line x1="571.35" y1="247.40" x2="571.35" y2="331.00" stroke="#EBEBEB" stroke-width="0.9" />
<line x1="601.45" y1="247.40" x2="601.45" y2="331.00" stroke="#EBEBEB" stroke-width="0.9" />
<line x1="631.55" y1="247.40" x2="631.55" y2="331.00" stroke="#EBEBEB" stroke-width="0.9" />
<line x1="553.60" y1="308.24" x2="649.30" y2="308.24" stroke="#CDCDCD" stroke-width="0.75" stroke-dasharray="1.3,1.1"/>
<g clip-path="url(#cc05)">
<clipPath id="cc05"><rect x="553.6" y="247.4" width="95.7" height="83.6"/></clipPath>
<polyline points="571.35,331.00 601.45,299.50 631.55,294.00" fill="none" stroke="#7684C3" stroke-width="1.0" />
<polyline points="571.35,265.00 601.45,267.00 631.55,268.00" fill="none" stroke="#6EC5C1" stroke-width="1.0" />
<polyline points="571.35,288.80 601.45,270.00 631.55,268.50" fill="none" stroke="#E7718A" stroke-width="1.0" />
<polygon points="571.35,328.05 574.30,331.00 571.35,333.95 568.40,331.00" fill="#7684C3" stroke="none" stroke-width="1"/>
<circle cx="571.35" cy="288.80" r="3.05" fill="#E7718A" stroke="none" stroke-width="1"/>
<circle cx="571.35" cy="302.80" r="3.05" fill="#E7718A" stroke="none" stroke-width="1"/>
<circle cx="571.35" cy="304.90" r="3.05" fill="#E7718A" stroke="none" stroke-width="1"/>
<polygon points="571.35,260.60 567.50,267.53 575.20,267.53" fill="#6EC5C1" stroke="none" stroke-width="1"/>
<polygon points="571.35,275.70 567.50,282.63 575.20,282.63" fill="#6EC5C1" stroke="none" stroke-width="1"/>
<polygon points="571.35,278.10 567.50,285.03 575.20,285.03" fill="#6EC5C1" stroke="none" stroke-width="1"/>
<polygon points="601.45,294.65 604.40,297.60 601.45,300.55 598.50,297.60" fill="#7684C3" stroke="none" stroke-width="1"/>
<polygon points="601.45,296.95 604.40,299.90 601.45,302.85 598.50,299.90" fill="#7684C3" stroke="none" stroke-width="1"/>
<polygon points="601.45,304.25 604.40,307.20 601.45,310.15 598.50,307.20" fill="#7684C3" stroke="none" stroke-width="1"/>
<polygon points="601.45,309.25 604.40,312.20 601.45,315.15 598.50,312.20" fill="#7684C3" stroke="none" stroke-width="1"/>
<circle cx="601.45" cy="269.80" r="3.05" fill="#E7718A" stroke="none" stroke-width="1"/>
<circle cx="601.45" cy="272.70" r="3.05" fill="#E7718A" stroke="none" stroke-width="1"/>
<polygon points="601.45,261.10 597.60,268.03 605.30,268.03" fill="#6EC5C1" stroke="none" stroke-width="1"/>
<polygon points="601.45,266.40 597.60,273.33 605.30,273.33" fill="#6EC5C1" stroke="none" stroke-width="1"/>
<polygon points="601.45,271.40 597.60,278.33 605.30,278.33" fill="#6EC5C1" stroke="none" stroke-width="1"/>
<polygon points="601.45,278.70 597.60,285.63 605.30,285.63" fill="#6EC5C1" stroke="none" stroke-width="1"/>
<polygon points="631.55,286.45 634.50,289.40 631.55,292.35 628.60,289.40" fill="#7684C3" stroke="none" stroke-width="1"/>
<polygon points="631.55,301.95 634.50,304.90 631.55,307.85 628.60,304.90" fill="#7684C3" stroke="none" stroke-width="1"/>
<polygon points="631.55,306.25 634.50,309.20 631.55,312.15 628.60,309.20" fill="#7684C3" stroke="none" stroke-width="1"/>
<circle cx="631.55" cy="266.90" r="3.05" fill="#E7718A" stroke="none" stroke-width="1"/>
<circle cx="631.55" cy="268.90" r="3.05" fill="#E7718A" stroke="none" stroke-width="1"/>
<polygon points="631.55,261.70 627.70,268.63 635.40,268.63" fill="#6EC5C1" stroke="none" stroke-width="1"/>
<polygon points="631.55,268.40 627.70,275.33 635.40,275.33" fill="#6EC5C1" stroke="none" stroke-width="1"/>
</g>
<rect x="553.60" y="247.40" width="95.70" height="83.60" fill="none" stroke="#7A7A7A" stroke-width="0.9" />
<rect x="553.60" y="231.10" width="95.70" height="16.30" fill="#D9D9D9" stroke="#7A7A7A" stroke-width="0.9" />
<text x="601.45" y="242.80" font-size="10.2" fill="#1A1A1A" text-anchor="middle" >TP114</text>
<rect x="52.60" y="334.50" width="95.70" height="83.70" fill="#fff" stroke="none" stroke-width="1" />
<line x1="52.60" y1="338.82" x2="148.30" y2="338.82" stroke="#F3F3F3" stroke-width="0.7" />
<line x1="52.60" y1="364.38" x2="148.30" y2="364.38" stroke="#F3F3F3" stroke-width="0.7" />
<line x1="52.60" y1="389.94" x2="148.30" y2="389.94" stroke="#F3F3F3" stroke-width="0.7" />
<line x1="52.60" y1="415.50" x2="148.30" y2="415.50" stroke="#F3F3F3" stroke-width="0.7" />
<line x1="52.60" y1="351.60" x2="148.30" y2="351.60" stroke="#EBEBEB" stroke-width="0.9" />
<line x1="52.60" y1="377.16" x2="148.30" y2="377.16" stroke="#EBEBEB" stroke-width="0.9" />
<line x1="52.60" y1="402.72" x2="148.30" y2="402.72" stroke="#EBEBEB" stroke-width="0.9" />
<line x1="70.35" y1="334.50" x2="70.35" y2="418.20" stroke="#EBEBEB" stroke-width="0.9" />
<line x1="100.45" y1="334.50" x2="100.45" y2="418.20" stroke="#EBEBEB" stroke-width="0.9" />
<line x1="130.55" y1="334.50" x2="130.55" y2="418.20" stroke="#EBEBEB" stroke-width="0.9" />
<line x1="52.60" y1="395.69" x2="148.30" y2="395.69" stroke="#CDCDCD" stroke-width="0.75" stroke-dasharray="1.3,1.1"/>
<g clip-path="url(#cc10)">
<clipPath id="cc10"><rect x="52.6" y="334.5" width="95.7" height="83.69999999999999"/></clipPath>
<polyline points="70.35,362.70 100.45,360.00 130.55,360.60" fill="none" stroke="#7684C3" stroke-width="1.0" />
<polyline points="70.35,355.40 100.45,352.40 130.55,353.90" fill="none" stroke="#6EC5C1" stroke-width="1.0" />
<polyline points="70.35,357.50 100.45,356.00 130.55,358.00" fill="none" stroke="#E7718A" stroke-width="1.0" />
<polygon points="70.35,359.75 73.30,362.70 70.35,365.65 67.40,362.70" fill="#7684C3" stroke="none" stroke-width="1"/>
<polygon points="70.35,367.05 73.30,370.00 70.35,372.95 67.40,370.00" fill="#7684C3" stroke="none" stroke-width="1"/>
<polygon points="70.35,369.35 73.30,372.30 70.35,375.25 67.40,372.30" fill="#7684C3" stroke="none" stroke-width="1"/>
<polygon points="70.35,381.65 73.30,384.60 70.35,387.55 67.40,384.60" fill="#7684C3" stroke="none" stroke-width="1"/>
<circle cx="70.35" cy="356.80" r="3.05" fill="#E7718A" stroke="none" stroke-width="1"/>
<circle cx="70.35" cy="359.70" r="3.05" fill="#E7718A" stroke="none" stroke-width="1"/>
<polygon points="70.35,348.10 66.50,355.03 74.20,355.03" fill="#6EC5C1" stroke="none" stroke-width="1"/>
<polygon points="100.45,356.75 103.40,359.70 100.45,362.65 97.50,359.70" fill="#7684C3" stroke="none" stroke-width="1"/>
<polygon points="100.45,365.55 103.40,368.50 100.45,371.45 97.50,368.50" fill="#7684C3" stroke="none" stroke-width="1"/>
<polygon points="100.45,370.55 103.40,373.50 100.45,376.45 97.50,373.50" fill="#7684C3" stroke="none" stroke-width="1"/>
<circle cx="100.45" cy="357.70" r="3.05" fill="#E7718A" stroke="none" stroke-width="1"/>
<circle cx="100.45" cy="360.60" r="3.05" fill="#E7718A" stroke="none" stroke-width="1"/>
<polygon points="100.45,346.70 96.60,353.63 104.30,353.63" fill="#6EC5C1" stroke="none" stroke-width="1"/>
<polygon points="130.55,358.25 133.50,361.20 130.55,364.15 127.60,361.20" fill="#7684C3" stroke="none" stroke-width="1"/>
<polygon points="130.55,363.55 133.50,366.50 130.55,369.45 127.60,366.50" fill="#7684C3" stroke="none" stroke-width="1"/>
<polygon points="130.55,365.55 133.50,368.50 130.55,371.45 127.60,368.50" fill="#7684C3" stroke="none" stroke-width="1"/>
<circle cx="130.55" cy="358.30" r="3.05" fill="#E7718A" stroke="none" stroke-width="1"/>
<circle cx="130.55" cy="364.10" r="3.05" fill="#E7718A" stroke="none" stroke-width="1"/>
<polygon points="130.55,349.60 126.70,356.53 134.40,356.53" fill="#6EC5C1" stroke="none" stroke-width="1"/>
</g>
<rect x="52.60" y="334.50" width="95.70" height="83.70" fill="none" stroke="#7A7A7A" stroke-width="0.9" />
<line x1="50.10" y1="351.60" x2="52.60" y2="351.60" stroke="#333" stroke-width="0.9" />
<text x="48.30" y="354.70" font-size="8.8" fill="#4D4D4D" text-anchor="end" >10^10</text>
<line x1="50.10" y1="377.16" x2="52.60" y2="377.16" stroke="#333" stroke-width="0.9" />
<text x="48.30" y="380.26" font-size="8.8" fill="#4D4D4D" text-anchor="end" >10^6</text>
<line x1="50.10" y1="402.72" x2="52.60" y2="402.72" stroke="#333" stroke-width="0.9" />
<text x="48.30" y="405.82" font-size="8.8" fill="#4D4D4D" text-anchor="end" >10^2</text>
<rect x="152.80" y="334.50" width="95.70" height="83.70" fill="#fff" stroke="none" stroke-width="1" />
<line x1="152.80" y1="338.82" x2="248.50" y2="338.82" stroke="#F3F3F3" stroke-width="0.7" />
<line x1="152.80" y1="364.38" x2="248.50" y2="364.38" stroke="#F3F3F3" stroke-width="0.7" />
<line x1="152.80" y1="389.94" x2="248.50" y2="389.94" stroke="#F3F3F3" stroke-width="0.7" />
<line x1="152.80" y1="415.50" x2="248.50" y2="415.50" stroke="#F3F3F3" stroke-width="0.7" />
<line x1="152.80" y1="351.60" x2="248.50" y2="351.60" stroke="#EBEBEB" stroke-width="0.9" />
<line x1="152.80" y1="377.16" x2="248.50" y2="377.16" stroke="#EBEBEB" stroke-width="0.9" />
<line x1="152.80" y1="402.72" x2="248.50" y2="402.72" stroke="#EBEBEB" stroke-width="0.9" />
<line x1="170.55" y1="334.50" x2="170.55" y2="418.20" stroke="#EBEBEB" stroke-width="0.9" />
<line x1="200.65" y1="334.50" x2="200.65" y2="418.20" stroke="#EBEBEB" stroke-width="0.9" />
<line x1="230.75" y1="334.50" x2="230.75" y2="418.20" stroke="#EBEBEB" stroke-width="0.9" />
<line x1="152.80" y1="395.69" x2="248.50" y2="395.69" stroke="#CDCDCD" stroke-width="0.75" stroke-dasharray="1.3,1.1"/>
<g clip-path="url(#cc11)">
<clipPath id="cc11"><rect x="152.8" y="334.5" width="95.7" height="83.69999999999999"/></clipPath>
<polyline points="170.55,379.00 200.65,385.00 230.75,391.00" fill="none" stroke="#7684C3" stroke-width="1.0" />
<polyline points="170.55,367.00 200.65,354.50 230.75,354.80" fill="none" stroke="#6EC5C1" stroke-width="1.0" />
<polyline points="170.55,354.00 200.65,355.00 230.75,355.50" fill="none" stroke="#E7718A" stroke-width="1.0" />
<polygon points="170.55,375.75 173.50,378.70 170.55,381.65 167.60,378.70" fill="#7684C3" stroke="none" stroke-width="1"/>
<polygon points="170.55,380.15 173.50,383.10 170.55,386.05 167.60,383.10" fill="#7684C3" stroke="none" stroke-width="1"/>
<circle cx="170.55" cy="352.40" r="3.05" fill="#E7718A" stroke="none" stroke-width="1"/>
<circle cx="170.55" cy="354.80" r="3.05" fill="#E7718A" stroke="none" stroke-width="1"/>
<polygon points="170.55,359.80 166.70,366.73 174.40,366.73" fill="#6EC5C1" stroke="none" stroke-width="1"/>
<polygon points="170.55,363.30 166.70,370.23 174.40,370.23" fill="#6EC5C1" stroke="none" stroke-width="1"/>
<polygon points="170.55,370.90 166.70,377.83 174.40,377.83" fill="#6EC5C1" stroke="none" stroke-width="1"/>
<polygon points="200.65,381.05 203.60,384.00 200.65,386.95 197.70,384.00" fill="#7684C3" stroke="none" stroke-width="1"/>
<polygon points="200.65,383.05 203.60,386.00 200.65,388.95 197.70,386.00" fill="#7684C3" stroke="none" stroke-width="1"/>
<circle cx="200.65" cy="354.80" r="3.05" fill="#E7718A" stroke="none" stroke-width="1"/>
<polygon points="200.65,348.10 196.80,355.03 204.50,355.03" fill="#6EC5C1" stroke="none" stroke-width="1"/>
<polygon points="230.75,384.55 233.70,387.50 230.75,390.45 227.80,387.50" fill="#7684C3" stroke="none" stroke-width="1"/>
<polygon points="230.75,388.95 233.70,391.90 230.75,394.85 227.80,391.90" fill="#7684C3" stroke="none" stroke-width="1"/>
<circle cx="230.75" cy="354.80" r="3.05" fill="#E7718A" stroke="none" stroke-width="1"/>
<circle cx="230.75" cy="358.30" r="3.05" fill="#E7718A" stroke="none" stroke-width="1"/>
<polygon points="230.75,348.70 226.90,355.63 234.60,355.63" fill="#6EC5C1" stroke="none" stroke-width="1"/>
</g>
<rect x="152.80" y="334.50" width="95.70" height="83.70" fill="none" stroke="#7A7A7A" stroke-width="0.9" />
<rect x="253.00" y="334.50" width="95.70" height="83.70" fill="#fff" stroke="none" stroke-width="1" />
<line x1="253.00" y1="338.82" x2="348.70" y2="338.82" stroke="#F3F3F3" stroke-width="0.7" />
<line x1="253.00" y1="364.38" x2="348.70" y2="364.38" stroke="#F3F3F3" stroke-width="0.7" />
<line x1="253.00" y1="389.94" x2="348.70" y2="389.94" stroke="#F3F3F3" stroke-width="0.7" />
<line x1="253.00" y1="415.50" x2="348.70" y2="415.50" stroke="#F3F3F3" stroke-width="0.7" />
<line x1="253.00" y1="351.60" x2="348.70" y2="351.60" stroke="#EBEBEB" stroke-width="0.9" />
<line x1="253.00" y1="377.16" x2="348.70" y2="377.16" stroke="#EBEBEB" stroke-width="0.9" />
<line x1="253.00" y1="402.72" x2="348.70" y2="402.72" stroke="#EBEBEB" stroke-width="0.9" />
<line x1="270.75" y1="334.50" x2="270.75" y2="418.20" stroke="#EBEBEB" stroke-width="0.9" />
<line x1="300.85" y1="334.50" x2="300.85" y2="418.20" stroke="#EBEBEB" stroke-width="0.9" />
<line x1="330.95" y1="334.50" x2="330.95" y2="418.20" stroke="#EBEBEB" stroke-width="0.9" />
<line x1="253.00" y1="395.69" x2="348.70" y2="395.69" stroke="#CDCDCD" stroke-width="0.75" stroke-dasharray="1.3,1.1"/>
<g clip-path="url(#cc12)">
<clipPath id="cc12"><rect x="253.0" y="334.5" width="95.7" height="83.69999999999999"/></clipPath>
<polyline points="270.75,366.50 300.85,358.00 330.95,358.50" fill="none" stroke="#7684C3" stroke-width="1.0" />
<polyline points="270.75,361.20 300.85,350.10 330.95,353.00" fill="none" stroke="#6EC5C1" stroke-width="1.0" />
<polyline points="270.75,356.00 300.85,355.50 330.95,355.00" fill="none" stroke="#E7718A" stroke-width="1.0" />
<polygon points="270.75,363.55 273.70,366.50 270.75,369.45 267.80,366.50" fill="#7684C3" stroke="none" stroke-width="1"/>
<polygon points="270.75,377.25 273.70,380.20 270.75,383.15 267.80,380.20" fill="#7684C3" stroke="none" stroke-width="1"/>
<polygon points="270.75,378.65 273.70,381.60 270.75,384.55 267.80,381.60" fill="#7684C3" stroke="none" stroke-width="1"/>
<circle cx="270.75" cy="355.40" r="3.05" fill="#E7718A" stroke="none" stroke-width="1"/>
<circle cx="270.75" cy="359.70" r="3.05" fill="#E7718A" stroke="none" stroke-width="1"/>
<polygon points="270.75,358.40 266.90,365.33 274.60,365.33" fill="#6EC5C1" stroke="none" stroke-width="1"/>
<polygon points="270.75,364.20 266.90,371.13 274.60,371.13" fill="#6EC5C1" stroke="none" stroke-width="1"/>
<polygon points="300.85,354.75 303.80,357.70 300.85,360.65 297.90,357.70" fill="#7684C3" stroke="none" stroke-width="1"/>
<polygon points="300.85,371.35 303.80,374.30 300.85,377.25 297.90,374.30" fill="#7684C3" stroke="none" stroke-width="1"/>
<circle cx="300.85" cy="355.40" r="3.05" fill="#E7718A" stroke="none" stroke-width="1"/>
<polygon points="300.85,343.70 297.00,350.63 304.70,350.63" fill="#6EC5C1" stroke="none" stroke-width="1"/>
<polygon points="300.85,347.60 297.00,354.53 304.70,354.53" fill="#6EC5C1" stroke="none" stroke-width="1"/>
<polygon points="330.95,354.75 333.90,357.70 330.95,360.65 328.00,357.70" fill="#7684C3" stroke="none" stroke-width="1"/>
<polygon points="330.95,381.05 333.90,384.00 330.95,386.95 328.00,384.00" fill="#7684C3" stroke="none" stroke-width="1"/>
<polygon points="330.95,385.05 333.90,388.00 330.95,390.95 328.00,388.00" fill="#7684C3" stroke="none" stroke-width="1"/>
<circle cx="330.95" cy="352.40" r="3.05" fill="#E7718A" stroke="none" stroke-width="1"/>
<circle cx="330.95" cy="356.80" r="3.05" fill="#E7718A" stroke="none" stroke-width="1"/>
<polygon points="330.95,349.60 327.10,356.53 334.80,356.53" fill="#6EC5C1" stroke="none" stroke-width="1"/>
</g>
<rect x="253.00" y="334.50" width="95.70" height="83.70" fill="none" stroke="#7A7A7A" stroke-width="0.9" />
<rect x="353.20" y="334.50" width="95.70" height="83.70" fill="#fff" stroke="none" stroke-width="1" />
<line x1="353.20" y1="338.82" x2="448.90" y2="338.82" stroke="#F3F3F3" stroke-width="0.7" />
<line x1="353.20" y1="364.38" x2="448.90" y2="364.38" stroke="#F3F3F3" stroke-width="0.7" />
<line x1="353.20" y1="389.94" x2="448.90" y2="389.94" stroke="#F3F3F3" stroke-width="0.7" />
<line x1="353.20" y1="415.50" x2="448.90" y2="415.50" stroke="#F3F3F3" stroke-width="0.7" />
<line x1="353.20" y1="351.60" x2="448.90" y2="351.60" stroke="#EBEBEB" stroke-width="0.9" />
<line x1="353.20" y1="377.16" x2="448.90" y2="377.16" stroke="#EBEBEB" stroke-width="0.9" />
<line x1="353.20" y1="402.72" x2="448.90" y2="402.72" stroke="#EBEBEB" stroke-width="0.9" />
<line x1="370.95" y1="334.50" x2="370.95" y2="418.20" stroke="#EBEBEB" stroke-width="0.9" />
<line x1="401.05" y1="334.50" x2="401.05" y2="418.20" stroke="#EBEBEB" stroke-width="0.9" />
<line x1="431.15" y1="334.50" x2="431.15" y2="418.20" stroke="#EBEBEB" stroke-width="0.9" />
<line x1="353.20" y1="395.69" x2="448.90" y2="395.69" stroke="#CDCDCD" stroke-width="0.75" stroke-dasharray="1.3,1.1"/>
<g clip-path="url(#cc13)">
<clipPath id="cc13"><rect x="353.20000000000005" y="334.5" width="95.7" height="83.69999999999999"/></clipPath>
<polyline points="370.95,378.70 401.05,378.70 431.15,370.00" fill="none" stroke="#7684C3" stroke-width="1.0" />
<polyline points="370.95,355.40 401.05,353.00 431.15,354.50" fill="none" stroke="#6EC5C1" stroke-width="1.0" />
<polyline points="370.95,360.60 401.05,360.60 431.15,358.90" fill="none" stroke="#E7718A" stroke-width="1.0" />
<polygon points="370.95,373.45 373.90,376.40 370.95,379.35 368.00,376.40" fill="#7684C3" stroke="none" stroke-width="1"/>
<polygon points="370.95,377.25 373.90,380.20 370.95,383.15 368.00,380.20" fill="#7684C3" stroke="none" stroke-width="1"/>
<polygon points="370.95,386.85 373.90,389.80 370.95,392.75 368.00,389.80" fill="#7684C3" stroke="none" stroke-width="1"/>
<circle cx="370.95" cy="359.70" r="3.05" fill="#E7718A" stroke="none" stroke-width="1"/>
<circle cx="370.95" cy="362.70" r="3.05" fill="#E7718A" stroke="none" stroke-width="1"/>
<polygon points="370.95,348.10 367.10,355.03 374.80,355.03" fill="#6EC5C1" stroke="none" stroke-width="1"/>
<polygon points="370.95,363.30 367.10,370.23 374.80,370.23" fill="#6EC5C1" stroke="none" stroke-width="1"/>
<polygon points="401.05,374.35 404.00,377.30 401.05,380.25 398.10,377.30" fill="#7684C3" stroke="none" stroke-width="1"/>
<polygon points="401.05,377.25 404.00,380.20 401.05,383.15 398.10,380.20" fill="#7684C3" stroke="none" stroke-width="1"/>
<polygon points="401.05,382.15 404.00,385.10 401.05,388.05 398.10,385.10" fill="#7684C3" stroke="none" stroke-width="1"/>
<circle cx="401.05" cy="359.70" r="3.05" fill="#E7718A" stroke="none" stroke-width="1"/>
<circle cx="401.05" cy="364.10" r="3.05" fill="#E7718A" stroke="none" stroke-width="1"/>
<polygon points="401.05,347.60 397.20,354.53 404.90,354.53" fill="#6EC5C1" stroke="none" stroke-width="1"/>
<polygon points="431.15,362.65 434.10,365.60 431.15,368.55 428.20,365.60" fill="#7684C3" stroke="none" stroke-width="1"/>
<polygon points="431.15,374.35 434.10,377.30 431.15,380.25 428.20,377.30" fill="#7684C3" stroke="none" stroke-width="1"/>
<polygon points="431.15,379.25 434.10,382.20 431.15,385.15 428.20,382.20" fill="#7684C3" stroke="none" stroke-width="1"/>
<circle cx="431.15" cy="356.80" r="3.05" fill="#E7718A" stroke="none" stroke-width="1"/>
<circle cx="431.15" cy="370.00" r="3.05" fill="#E7718A" stroke="none" stroke-width="1"/>
<polygon points="431.15,348.10 427.30,355.03 435.00,355.03" fill="#6EC5C1" stroke="none" stroke-width="1"/>
</g>
<rect x="353.20" y="334.50" width="95.70" height="83.70" fill="none" stroke="#7A7A7A" stroke-width="0.9" />
<rect x="453.40" y="334.50" width="95.70" height="83.70" fill="#fff" stroke="none" stroke-width="1" />
<line x1="453.40" y1="338.82" x2="549.10" y2="338.82" stroke="#F3F3F3" stroke-width="0.7" />
<line x1="453.40" y1="364.38" x2="549.10" y2="364.38" stroke="#F3F3F3" stroke-width="0.7" />
<line x1="453.40" y1="389.94" x2="549.10" y2="389.94" stroke="#F3F3F3" stroke-width="0.7" />
<line x1="453.40" y1="415.50" x2="549.10" y2="415.50" stroke="#F3F3F3" stroke-width="0.7" />
<line x1="453.40" y1="351.60" x2="549.10" y2="351.60" stroke="#EBEBEB" stroke-width="0.9" />
<line x1="453.40" y1="377.16" x2="549.10" y2="377.16" stroke="#EBEBEB" stroke-width="0.9" />
<line x1="453.40" y1="402.72" x2="549.10" y2="402.72" stroke="#EBEBEB" stroke-width="0.9" />
<line x1="471.15" y1="334.50" x2="471.15" y2="418.20" stroke="#EBEBEB" stroke-width="0.9" />
<line x1="501.25" y1="334.50" x2="501.25" y2="418.20" stroke="#EBEBEB" stroke-width="0.9" />
<line x1="531.35" y1="334.50" x2="531.35" y2="418.20" stroke="#EBEBEB" stroke-width="0.9" />
<line x1="453.40" y1="395.69" x2="549.10" y2="395.69" stroke="#CDCDCD" stroke-width="0.75" stroke-dasharray="1.3,1.1"/>
<g clip-path="url(#cc14)">
<clipPath id="cc14"><rect x="453.40000000000003" y="334.5" width="95.7" height="83.69999999999999"/></clipPath>
<polyline points="471.15,370.00 501.25,368.50 531.35,370.80" fill="none" stroke="#7684C3" stroke-width="1.0" />
<polyline points="471.15,356.80 501.25,353.90 531.35,355.40" fill="none" stroke="#6EC5C1" stroke-width="1.0" />
<polyline points="471.15,361.80 501.25,359.70 531.35,360.30" fill="none" stroke="#E7718A" stroke-width="1.0" />
<polygon points="471.15,367.05 474.10,370.00 471.15,372.95 468.20,370.00" fill="#7684C3" stroke="none" stroke-width="1"/>
<polygon points="471.15,390.35 474.10,393.30 471.15,396.25 468.20,393.30" fill="#7684C3" stroke="none" stroke-width="1"/>
<polygon points="471.15,395.65 474.10,398.60 471.15,401.55 468.20,398.60" fill="#7684C3" stroke="none" stroke-width="1"/>
<circle cx="471.15" cy="359.70" r="3.05" fill="#E7718A" stroke="none" stroke-width="1"/>
<circle cx="471.15" cy="362.10" r="3.05" fill="#E7718A" stroke="none" stroke-width="1"/>
<circle cx="471.15" cy="381.00" r="3.05" fill="#E7718A" stroke="none" stroke-width="1"/>
<circle cx="471.15" cy="385.40" r="3.05" fill="#E7718A" stroke="none" stroke-width="1"/>
<polygon points="471.15,348.70 467.30,355.63 475.00,355.63" fill="#6EC5C1" stroke="none" stroke-width="1"/>
<polygon points="471.15,360.40 467.30,367.33 475.00,367.33" fill="#6EC5C1" stroke="none" stroke-width="1"/>
<polygon points="501.25,361.75 504.20,364.70 501.25,367.65 498.30,364.70" fill="#7684C3" stroke="none" stroke-width="1"/>
<polygon points="501.25,365.55 504.20,368.50 501.25,371.45 498.30,368.50" fill="#7684C3" stroke="none" stroke-width="1"/>
<polygon points="501.25,375.15 504.20,378.10 501.25,381.05 498.30,378.10" fill="#7684C3" stroke="none" stroke-width="1"/>
<polygon points="501.25,381.65 504.20,384.60 501.25,387.55 498.30,384.60" fill="#7684C3" stroke="none" stroke-width="1"/>
<circle cx="501.25" cy="359.70" r="3.05" fill="#E7718A" stroke="none" stroke-width="1"/>
<circle cx="501.25" cy="368.50" r="3.05" fill="#E7718A" stroke="none" stroke-width="1"/>
<circle cx="501.25" cy="381.00" r="3.05" fill="#E7718A" stroke="none" stroke-width="1"/>
<polygon points="501.25,347.60 497.40,354.53 505.10,354.53" fill="#6EC5C1" stroke="none" stroke-width="1"/>
<polygon points="531.35,365.55 534.30,368.50 531.35,371.45 528.40,368.50" fill="#7684C3" stroke="none" stroke-width="1"/>
<polygon points="531.35,378.05 534.30,381.00 531.35,383.95 528.40,381.00" fill="#7684C3" stroke="none" stroke-width="1"/>
<polygon points="531.35,381.65 534.30,384.60 531.35,387.55 528.40,384.60" fill="#7684C3" stroke="none" stroke-width="1"/>
<circle cx="531.35" cy="359.70" r="3.05" fill="#E7718A" stroke="none" stroke-width="1"/>
<circle cx="531.35" cy="362.10" r="3.05" fill="#E7718A" stroke="none" stroke-width="1"/>
<circle cx="531.35" cy="368.50" r="3.05" fill="#E7718A" stroke="none" stroke-width="1"/>
<polygon points="531.35,349.60 527.50,356.53 535.20,356.53" fill="#6EC5C1" stroke="none" stroke-width="1"/>
</g>
<rect x="453.40" y="334.50" width="95.70" height="83.70" fill="none" stroke="#7A7A7A" stroke-width="0.9" />
<rect x="553.60" y="334.50" width="95.70" height="83.70" fill="#fff" stroke="none" stroke-width="1" />
<line x1="553.60" y1="338.82" x2="649.30" y2="338.82" stroke="#F3F3F3" stroke-width="0.7" />
<line x1="553.60" y1="364.38" x2="649.30" y2="364.38" stroke="#F3F3F3" stroke-width="0.7" />
<line x1="553.60" y1="389.94" x2="649.30" y2="389.94" stroke="#F3F3F3" stroke-width="0.7" />
<line x1="553.60" y1="415.50" x2="649.30" y2="415.50" stroke="#F3F3F3" stroke-width="0.7" />
<line x1="553.60" y1="351.60" x2="649.30" y2="351.60" stroke="#EBEBEB" stroke-width="0.9" />
<line x1="553.60" y1="377.16" x2="649.30" y2="377.16" stroke="#EBEBEB" stroke-width="0.9" />
<line x1="553.60" y1="402.72" x2="649.30" y2="402.72" stroke="#EBEBEB" stroke-width="0.9" />
<line x1="571.35" y1="334.50" x2="571.35" y2="418.20" stroke="#EBEBEB" stroke-width="0.9" />
<line x1="601.45" y1="334.50" x2="601.45" y2="418.20" stroke="#EBEBEB" stroke-width="0.9" />
<line x1="631.55" y1="334.50" x2="631.55" y2="418.20" stroke="#EBEBEB" stroke-width="0.9" />
<line x1="553.60" y1="395.69" x2="649.30" y2="395.69" stroke="#CDCDCD" stroke-width="0.75" stroke-dasharray="1.3,1.1"/>
<g clip-path="url(#cc15)">
<clipPath id="cc15"><rect x="553.6" y="334.5" width="95.7" height="83.69999999999999"/></clipPath>
<polyline points="571.35,394.80 601.45,382.20 631.55,383.70" fill="none" stroke="#7684C3" stroke-width="1.0" />
<polyline points="571.35,356.80 601.45,350.10 631.55,353.00" fill="none" stroke="#6EC5C1" stroke-width="1.0" />
<polyline points="571.35,361.20 601.45,360.60 631.55,358.30" fill="none" stroke="#E7718A" stroke-width="1.0" />
<polygon points="571.35,390.95 574.30,393.90 571.35,396.85 568.40,393.90" fill="#7684C3" stroke="none" stroke-width="1"/>
<polygon points="571.35,395.65 574.30,398.60 571.35,401.55 568.40,398.60" fill="#7684C3" stroke="none" stroke-width="1"/>
<polygon points="571.35,415.05 574.30,418.00 571.35,420.95 568.40,418.00" fill="#7684C3" stroke="none" stroke-width="1"/>
<circle cx="571.35" cy="357.70" r="3.05" fill="#E7718A" stroke="none" stroke-width="1"/>
<circle cx="571.35" cy="367.00" r="3.05" fill="#E7718A" stroke="none" stroke-width="1"/>
<circle cx="571.35" cy="382.20" r="3.05" fill="#E7718A" stroke="none" stroke-width="1"/>
<polygon points="571.35,350.50 567.50,357.43 575.20,357.43" fill="#6EC5C1" stroke="none" stroke-width="1"/>
<polygon points="571.35,367.10 567.50,374.03 575.20,374.03" fill="#6EC5C1" stroke="none" stroke-width="1"/>
<polygon points="571.35,372.10 567.50,379.03 575.20,379.03" fill="#6EC5C1" stroke="none" stroke-width="1"/>
<polygon points="601.45,377.25 604.40,380.20 601.45,383.15 598.50,380.20" fill="#7684C3" stroke="none" stroke-width="1"/>
<polygon points="601.45,381.65 604.40,384.60 601.45,387.55 598.50,384.60" fill="#7684C3" stroke="none" stroke-width="1"/>
<polygon points="601.45,388.35 604.40,391.30 601.45,394.25 598.50,391.30" fill="#7684C3" stroke="none" stroke-width="1"/>
<circle cx="601.45" cy="357.70" r="3.05" fill="#E7718A" stroke="none" stroke-width="1"/>
<circle cx="601.45" cy="361.20" r="3.05" fill="#E7718A" stroke="none" stroke-width="1"/>
<circle cx="601.45" cy="367.60" r="3.05" fill="#E7718A" stroke="none" stroke-width="1"/>
<polygon points="601.45,345.20 597.60,352.13 605.30,352.13" fill="#6EC5C1" stroke="none" stroke-width="1"/>
<polygon points="631.55,378.05 634.50,381.00 631.55,383.95 628.60,381.00" fill="#7684C3" stroke="none" stroke-width="1"/>
<polygon points="631.55,381.65 634.50,384.60 631.55,387.55 628.60,384.60" fill="#7684C3" stroke="none" stroke-width="1"/>
<polygon points="631.55,385.45 634.50,388.40 631.55,391.35 628.60,388.40" fill="#7684C3" stroke="none" stroke-width="1"/>
<circle cx="631.55" cy="358.30" r="3.05" fill="#E7718A" stroke="none" stroke-width="1"/>
<circle cx="631.55" cy="364.70" r="3.05" fill="#E7718A" stroke="none" stroke-width="1"/>
<polygon points="631.55,348.10 627.70,355.03 635.40,355.03" fill="#6EC5C1" stroke="none" stroke-width="1"/>
</g>
<rect x="553.60" y="334.50" width="95.70" height="83.70" fill="none" stroke="#7A7A7A" stroke-width="0.9" />
<rect x="52.60" y="421.30" width="95.70" height="84.00" fill="#fff" stroke="none" stroke-width="1" />
<line x1="52.60" y1="426.02" x2="148.30" y2="426.02" stroke="#F3F3F3" stroke-width="0.7" />
<line x1="52.60" y1="451.38" x2="148.30" y2="451.38" stroke="#F3F3F3" stroke-width="0.7" />
<line x1="52.60" y1="476.74" x2="148.30" y2="476.74" stroke="#F3F3F3" stroke-width="0.7" />
<line x1="52.60" y1="502.10" x2="148.30" y2="502.10" stroke="#F3F3F3" stroke-width="0.7" />
<line x1="52.60" y1="438.70" x2="148.30" y2="438.70" stroke="#EBEBEB" stroke-width="0.9" />
<line x1="52.60" y1="464.06" x2="148.30" y2="464.06" stroke="#EBEBEB" stroke-width="0.9" />
<line x1="52.60" y1="489.42" x2="148.30" y2="489.42" stroke="#EBEBEB" stroke-width="0.9" />
<line x1="70.35" y1="421.30" x2="70.35" y2="505.30" stroke="#EBEBEB" stroke-width="0.9" />
<line x1="100.45" y1="421.30" x2="100.45" y2="505.30" stroke="#EBEBEB" stroke-width="0.9" />
<line x1="130.55" y1="421.30" x2="130.55" y2="505.30" stroke="#EBEBEB" stroke-width="0.9" />
<line x1="52.60" y1="482.45" x2="148.30" y2="482.45" stroke="#CDCDCD" stroke-width="0.75" stroke-dasharray="1.3,1.1"/>
<g clip-path="url(#cc20)">
<clipPath id="cc20"><rect x="52.6" y="421.3" width="95.7" height="84.0"/></clipPath>
<polyline points="70.35,484.70 100.45,445.30 130.55,446.70" fill="none" stroke="#7684C3" stroke-width="1.0" />
<polyline points="70.35,470.10 100.45,443.80 130.55,441.80" fill="none" stroke="#6EC5C1" stroke-width="1.0" />
<polyline points="70.35,439.00 100.45,438.90 130.55,438.00" fill="none" stroke="#E7718A" stroke-width="1.0" />
<polygon points="70.35,481.75 73.30,484.70 70.35,487.65 67.40,484.70" fill="#7684C3" stroke="none" stroke-width="1"/>
<polygon points="70.35,485.25 73.30,488.20 70.35,491.15 67.40,488.20" fill="#7684C3" stroke="none" stroke-width="1"/>
<circle cx="70.35" cy="438.90" r="3.05" fill="#E7718A" stroke="none" stroke-width="1"/>
<circle cx="70.35" cy="440.00" r="3.05" fill="#E7718A" stroke="none" stroke-width="1"/>
<polygon points="70.35,463.70 66.50,470.63 74.20,470.63" fill="#6EC5C1" stroke="none" stroke-width="1"/>
<polygon points="70.35,470.70 66.50,477.63 74.20,477.63" fill="#6EC5C1" stroke="none" stroke-width="1"/>
<polygon points="100.45,441.75 103.40,444.70 100.45,447.65 97.50,444.70" fill="#7684C3" stroke="none" stroke-width="1"/>
<polygon points="100.45,455.45 103.40,458.40 100.45,461.35 97.50,458.40" fill="#7684C3" stroke="none" stroke-width="1"/>
<circle cx="100.45" cy="438.90" r="3.05" fill="#E7718A" stroke="none" stroke-width="1"/>
<polygon points="100.45,442.40 96.60,449.33 104.30,449.33" fill="#6EC5C1" stroke="none" stroke-width="1"/>
<polygon points="130.55,443.75 133.50,446.70 130.55,449.65 127.60,446.70" fill="#7684C3" stroke="none" stroke-width="1"/>
<polygon points="130.55,446.75 133.50,449.70 130.55,452.65 127.60,449.70" fill="#7684C3" stroke="none" stroke-width="1"/>
<circle cx="130.55" cy="437.10" r="3.05" fill="#E7718A" stroke="none" stroke-width="1"/>
<circle cx="130.55" cy="439.40" r="3.05" fill="#E7718A" stroke="none" stroke-width="1"/>
<polygon points="130.55,438.10 126.70,445.03 134.40,445.03" fill="#6EC5C1" stroke="none" stroke-width="1"/>
<polygon points="130.55,441.00 126.70,447.93 134.40,447.93" fill="#6EC5C1" stroke="none" stroke-width="1"/>
</g>
<rect x="52.60" y="421.30" width="95.70" height="84.00" fill="none" stroke="#7A7A7A" stroke-width="0.9" />
<line x1="50.10" y1="438.70" x2="52.60" y2="438.70" stroke="#333" stroke-width="0.9" />
<text x="48.30" y="441.80" font-size="8.8" fill="#4D4D4D" text-anchor="end" >10^10</text>
<line x1="50.10" y1="464.06" x2="52.60" y2="464.06" stroke="#333" stroke-width="0.9" />
<text x="48.30" y="467.16" font-size="8.8" fill="#4D4D4D" text-anchor="end" >10^6</text>
<line x1="50.10" y1="489.42" x2="52.60" y2="489.42" stroke="#333" stroke-width="0.9" />
<text x="48.30" y="492.52" font-size="8.8" fill="#4D4D4D" text-anchor="end" >10^2</text>
<line x1="70.35" y1="505.30" x2="70.35" y2="507.80" stroke="#444" stroke-width="0.8" />
<text x="69.75" y="518.60" font-size="11.9" fill="#1A1A1A" text-anchor="middle" textLength="12.60" lengthAdjust="spacingAndGlyphs" stroke="#1A1A1A" stroke-width="0.5">D1</text>
<line x1="100.45" y1="505.30" x2="100.45" y2="507.80" stroke="#444" stroke-width="0.8" />
<text x="99.85" y="518.60" font-size="11.9" fill="#1A1A1A" text-anchor="middle" textLength="12.60" lengthAdjust="spacingAndGlyphs" stroke="#1A1A1A" stroke-width="0.5">D2</text>
<line x1="130.55" y1="505.30" x2="130.55" y2="507.80" stroke="#444" stroke-width="0.8" />
<text x="129.95" y="518.60" font-size="11.9" fill="#1A1A1A" text-anchor="middle" textLength="12.60" lengthAdjust="spacingAndGlyphs" stroke="#1A1A1A" stroke-width="0.5">D3</text>
<rect x="152.80" y="421.30" width="95.70" height="84.00" fill="#fff" stroke="none" stroke-width="1" />
<line x1="152.80" y1="426.02" x2="248.50" y2="426.02" stroke="#F3F3F3" stroke-width="0.7" />
<line x1="152.80" y1="451.38" x2="248.50" y2="451.38" stroke="#F3F3F3" stroke-width="0.7" />
<line x1="152.80" y1="476.74" x2="248.50" y2="476.74" stroke="#F3F3F3" stroke-width="0.7" />
<line x1="152.80" y1="502.10" x2="248.50" y2="502.10" stroke="#F3F3F3" stroke-width="0.7" />
<line x1="152.80" y1="438.70" x2="248.50" y2="438.70" stroke="#EBEBEB" stroke-width="0.9" />
<line x1="152.80" y1="464.06" x2="248.50" y2="464.06" stroke="#EBEBEB" stroke-width="0.9" />
<line x1="152.80" y1="489.42" x2="248.50" y2="489.42" stroke="#EBEBEB" stroke-width="0.9" />
<line x1="170.55" y1="421.30" x2="170.55" y2="505.30" stroke="#EBEBEB" stroke-width="0.9" />
<line x1="200.65" y1="421.30" x2="200.65" y2="505.30" stroke="#EBEBEB" stroke-width="0.9" />
<line x1="230.75" y1="421.30" x2="230.75" y2="505.30" stroke="#EBEBEB" stroke-width="0.9" />
<line x1="152.80" y1="482.45" x2="248.50" y2="482.45" stroke="#CDCDCD" stroke-width="0.75" stroke-dasharray="1.3,1.1"/>
<g clip-path="url(#cc21)">
<clipPath id="cc21"><rect x="152.8" y="421.3" width="95.7" height="84.0"/></clipPath>
<polyline points="170.55,505.10 200.65,493.50 230.75,490.00" fill="none" stroke="#7684C3" stroke-width="1.0" />
<polyline points="170.55,465.10 200.65,448.20 230.75,444.70" fill="none" stroke="#6EC5C1" stroke-width="1.0" />
<polyline points="170.55,442.00 200.65,443.50 230.75,442.50" fill="none" stroke="#E7718A" stroke-width="1.0" />
<polygon points="170.55,502.15 173.50,505.10 170.55,508.05 167.60,505.10" fill="#7684C3" stroke="none" stroke-width="1"/>
<circle cx="170.55" cy="440.90" r="3.05" fill="#E7718A" stroke="none" stroke-width="1"/>
<circle cx="170.55" cy="445.90" r="3.05" fill="#E7718A" stroke="none" stroke-width="1"/>
<polygon points="170.55,457.90 166.70,464.83 174.40,464.83" fill="#6EC5C1" stroke="none" stroke-width="1"/>
<polygon points="170.55,466.70 166.70,473.63 174.40,473.63" fill="#6EC5C1" stroke="none" stroke-width="1"/>
<polygon points="170.55,469.60 166.70,476.53 174.40,476.53" fill="#6EC5C1" stroke="none" stroke-width="1"/>
<polygon points="200.65,486.05 203.60,489.00 200.65,491.95 197.70,489.00" fill="#7684C3" stroke="none" stroke-width="1"/>
<polygon points="200.65,502.15 203.60,505.10 200.65,508.05 197.70,505.10" fill="#7684C3" stroke="none" stroke-width="1"/>
<circle cx="200.65" cy="443.00" r="3.05" fill="#E7718A" stroke="none" stroke-width="1"/>
<circle cx="200.65" cy="445.30" r="3.05" fill="#E7718A" stroke="none" stroke-width="1"/>
<polygon points="200.65,443.90 196.80,450.83 204.50,450.83" fill="#6EC5C1" stroke="none" stroke-width="1"/>
<polygon points="230.75,482.65 233.70,485.60 230.75,488.55 227.80,485.60" fill="#7684C3" stroke="none" stroke-width="1"/>
<polygon points="230.75,502.15 233.70,505.10 230.75,508.05 227.80,505.10" fill="#7684C3" stroke="none" stroke-width="1"/>
<circle cx="230.75" cy="440.90" r="3.05" fill="#E7718A" stroke="none" stroke-width="1"/>
<circle cx="230.75" cy="445.30" r="3.05" fill="#E7718A" stroke="none" stroke-width="1"/>
<polygon points="230.75,443.90 226.90,450.83 234.60,450.83" fill="#6EC5C1" stroke="none" stroke-width="1"/>
<polygon points="230.75,439.50 226.90,446.43 234.60,446.43" fill="#6EC5C1" stroke="none" stroke-width="1"/>
</g>
<rect x="152.80" y="421.30" width="95.70" height="84.00" fill="none" stroke="#7A7A7A" stroke-width="0.9" />
<line x1="170.55" y1="505.30" x2="170.55" y2="507.80" stroke="#444" stroke-width="0.8" />
<text x="169.95" y="518.60" font-size="11.9" fill="#1A1A1A" text-anchor="middle" textLength="12.60" lengthAdjust="spacingAndGlyphs" stroke="#1A1A1A" stroke-width="0.5">D1</text>
<line x1="200.65" y1="505.30" x2="200.65" y2="507.80" stroke="#444" stroke-width="0.8" />
<text x="200.05" y="518.60" font-size="11.9" fill="#1A1A1A" text-anchor="middle" textLength="12.60" lengthAdjust="spacingAndGlyphs" stroke="#1A1A1A" stroke-width="0.5">D2</text>
<line x1="230.75" y1="505.30" x2="230.75" y2="507.80" stroke="#444" stroke-width="0.8" />
<text x="230.15" y="518.60" font-size="11.9" fill="#1A1A1A" text-anchor="middle" textLength="12.60" lengthAdjust="spacingAndGlyphs" stroke="#1A1A1A" stroke-width="0.5">D3</text>
<rect x="253.00" y="421.30" width="95.70" height="84.00" fill="#fff" stroke="none" stroke-width="1" />
<line x1="253.00" y1="426.02" x2="348.70" y2="426.02" stroke="#F3F3F3" stroke-width="0.7" />
<line x1="253.00" y1="451.38" x2="348.70" y2="451.38" stroke="#F3F3F3" stroke-width="0.7" />
<line x1="253.00" y1="476.74" x2="348.70" y2="476.74" stroke="#F3F3F3" stroke-width="0.7" />
<line x1="253.00" y1="502.10" x2="348.70" y2="502.10" stroke="#F3F3F3" stroke-width="0.7" />
<line x1="253.00" y1="438.70" x2="348.70" y2="438.70" stroke="#EBEBEB" stroke-width="0.9" />
<line x1="253.00" y1="464.06" x2="348.70" y2="464.06" stroke="#EBEBEB" stroke-width="0.9" />
<line x1="253.00" y1="489.42" x2="348.70" y2="489.42" stroke="#EBEBEB" stroke-width="0.9" />
<line x1="270.75" y1="421.30" x2="270.75" y2="505.30" stroke="#EBEBEB" stroke-width="0.9" />
<line x1="300.85" y1="421.30" x2="300.85" y2="505.30" stroke="#EBEBEB" stroke-width="0.9" />
<line x1="330.95" y1="421.30" x2="330.95" y2="505.30" stroke="#EBEBEB" stroke-width="0.9" />
<line x1="253.00" y1="482.45" x2="348.70" y2="482.45" stroke="#CDCDCD" stroke-width="0.75" stroke-dasharray="1.3,1.1"/>
<g clip-path="url(#cc22)">
<clipPath id="cc22"><rect x="253.0" y="421.3" width="95.7" height="84.0"/></clipPath>
<polyline points="270.75,487.60 300.85,479.70 330.95,473.90" fill="none" stroke="#7684C3" stroke-width="1.0" />
<polyline points="270.75,468.60 300.85,444.70 330.95,439.40" fill="none" stroke="#6EC5C1" stroke-width="1.0" />
<polyline points="270.75,439.50 300.85,438.00 330.95,437.00" fill="none" stroke="#E7718A" stroke-width="1.0" />
<polygon points="270.75,480.85 273.70,483.80 270.75,486.75 267.80,483.80" fill="#7684C3" stroke="none" stroke-width="1"/>
<polygon points="270.75,484.65 273.70,487.60 270.75,490.55 267.80,487.60" fill="#7684C3" stroke="none" stroke-width="1"/>
<polygon points="270.75,502.05 273.70,505.00 270.75,507.95 267.80,505.00" fill="#7684C3" stroke="none" stroke-width="1"/>
<circle cx="270.75" cy="438.00" r="3.05" fill="#E7718A" stroke="none" stroke-width="1"/>
<circle cx="270.75" cy="442.40" r="3.05" fill="#E7718A" stroke="none" stroke-width="1"/>
<polygon points="270.75,462.00 266.90,468.93 274.60,468.93" fill="#6EC5C1" stroke="none" stroke-width="1"/>
<polygon points="270.75,465.80 266.90,472.73 274.60,472.73" fill="#6EC5C1" stroke="none" stroke-width="1"/>
<polygon points="300.85,475.95 303.80,478.90 300.85,481.85 297.90,478.90" fill="#7684C3" stroke="none" stroke-width="1"/>
<polygon points="300.85,478.85 303.80,481.80 300.85,484.75 297.90,481.80" fill="#7684C3" stroke="none" stroke-width="1"/>
<circle cx="300.85" cy="438.00" r="3.05" fill="#E7718A" stroke="none" stroke-width="1"/>
<polygon points="300.85,440.40 297.00,447.33 304.70,447.33" fill="#6EC5C1" stroke="none" stroke-width="1"/>
<polygon points="330.95,470.05 333.90,473.00 330.95,475.95 328.00,473.00" fill="#7684C3" stroke="none" stroke-width="1"/>
<polygon points="330.95,473.55 333.90,476.50 330.95,479.45 328.00,476.50" fill="#7684C3" stroke="none" stroke-width="1"/>
<circle cx="330.95" cy="436.50" r="3.05" fill="#E7718A" stroke="none" stroke-width="1"/>
<polygon points="330.95,435.10 327.10,442.03 334.80,442.03" fill="#6EC5C1" stroke="none" stroke-width="1"/>
</g>
<rect x="253.00" y="421.30" width="95.70" height="84.00" fill="none" stroke="#7A7A7A" stroke-width="0.9" />
<line x1="270.75" y1="505.30" x2="270.75" y2="507.80" stroke="#444" stroke-width="0.8" />
<text x="270.15" y="518.60" font-size="11.9" fill="#1A1A1A" text-anchor="middle" textLength="12.60" lengthAdjust="spacingAndGlyphs" stroke="#1A1A1A" stroke-width="0.5">D1</text>
<line x1="300.85" y1="505.30" x2="300.85" y2="507.80" stroke="#444" stroke-width="0.8" />
<text x="300.25" y="518.60" font-size="11.9" fill="#1A1A1A" text-anchor="middle" textLength="12.60" lengthAdjust="spacingAndGlyphs" stroke="#1A1A1A" stroke-width="0.5">D2</text>
<line x1="330.95" y1="505.30" x2="330.95" y2="507.80" stroke="#444" stroke-width="0.8" />
<text x="330.35" y="518.60" font-size="11.9" fill="#1A1A1A" text-anchor="middle" textLength="12.60" lengthAdjust="spacingAndGlyphs" stroke="#1A1A1A" stroke-width="0.5">D3</text>
<rect x="353.20" y="421.30" width="95.70" height="84.00" fill="#fff" stroke="none" stroke-width="1" />
<line x1="353.20" y1="426.02" x2="448.90" y2="426.02" stroke="#F3F3F3" stroke-width="0.7" />
<line x1="353.20" y1="451.38" x2="448.90" y2="451.38" stroke="#F3F3F3" stroke-width="0.7" />
<line x1="353.20" y1="476.74" x2="448.90" y2="476.74" stroke="#F3F3F3" stroke-width="0.7" />
<line x1="353.20" y1="502.10" x2="448.90" y2="502.10" stroke="#F3F3F3" stroke-width="0.7" />
<line x1="353.20" y1="438.70" x2="448.90" y2="438.70" stroke="#EBEBEB" stroke-width="0.9" />
<line x1="353.20" y1="464.06" x2="448.90" y2="464.06" stroke="#EBEBEB" stroke-width="0.9" />
<line x1="353.20" y1="489.42" x2="448.90" y2="489.42" stroke="#EBEBEB" stroke-width="0.9" />
<line x1="370.95" y1="421.30" x2="370.95" y2="505.30" stroke="#EBEBEB" stroke-width="0.9" />
<line x1="401.05" y1="421.30" x2="401.05" y2="505.30" stroke="#EBEBEB" stroke-width="0.9" />
<line x1="431.15" y1="421.30" x2="431.15" y2="505.30" stroke="#EBEBEB" stroke-width="0.9" />
<line x1="353.20" y1="482.45" x2="448.90" y2="482.45" stroke="#CDCDCD" stroke-width="0.75" stroke-dasharray="1.3,1.1"/>
<g clip-path="url(#cc23)">
<clipPath id="cc23"><rect x="353.20000000000005" y="421.3" width="95.7" height="84.0"/></clipPath>
<polyline points="370.95,483.20 401.05,478.60 431.15,482.40" fill="none" stroke="#7684C3" stroke-width="1.0" />
<polyline points="370.95,456.40 401.05,447.30 431.15,444.70" fill="none" stroke="#6EC5C1" stroke-width="1.0" />
<polyline points="370.95,441.00 401.05,442.50 431.15,442.50" fill="none" stroke="#E7718A" stroke-width="1.0" />
<polygon points="370.95,476.75 373.90,479.70 370.95,482.65 368.00,479.70" fill="#7684C3" stroke="none" stroke-width="1"/>
<polygon points="370.95,480.25 373.90,483.20 370.95,486.15 368.00,483.20" fill="#7684C3" stroke="none" stroke-width="1"/>
<polygon points="370.95,502.05 373.90,505.00 370.95,507.95 368.00,505.00" fill="#7684C3" stroke="none" stroke-width="1"/>
<circle cx="370.95" cy="440.00" r="3.05" fill="#E7718A" stroke="none" stroke-width="1"/>
<circle cx="370.95" cy="442.40" r="3.05" fill="#E7718A" stroke="none" stroke-width="1"/>
<polygon points="370.95,449.20 367.10,456.13 374.80,456.13" fill="#6EC5C1" stroke="none" stroke-width="1"/>
<polygon points="370.95,455.00 367.10,461.93 374.80,461.93" fill="#6EC5C1" stroke="none" stroke-width="1"/>
<polygon points="370.95,457.00 367.10,463.93 374.80,463.93" fill="#6EC5C1" stroke="none" stroke-width="1"/>
<polygon points="370.95,467.80 367.10,474.73 374.80,474.73" fill="#6EC5C1" stroke="none" stroke-width="1"/>
<polygon points="401.05,471.55 404.00,474.50 401.05,477.45 398.10,474.50" fill="#7684C3" stroke="none" stroke-width="1"/>
<polygon points="401.05,475.95 404.00,478.90 401.05,481.85 398.10,478.90" fill="#7684C3" stroke="none" stroke-width="1"/>
<polygon points="401.05,485.55 404.00,488.50 401.05,491.45 398.10,488.50" fill="#7684C3" stroke="none" stroke-width="1"/>
<polygon points="401.05,502.05 404.00,505.00 401.05,507.95 398.10,505.00" fill="#7684C3" stroke="none" stroke-width="1"/>
<circle cx="401.05" cy="441.80" r="3.05" fill="#E7718A" stroke="none" stroke-width="1"/>
<circle cx="401.05" cy="443.80" r="3.05" fill="#E7718A" stroke="none" stroke-width="1"/>
<polygon points="401.05,443.90 397.20,450.83 404.90,450.83" fill="#6EC5C1" stroke="none" stroke-width="1"/>
<polygon points="401.05,452.70 397.20,459.63 404.90,459.63" fill="#6EC5C1" stroke="none" stroke-width="1"/>
<polygon points="431.15,476.75 434.10,479.70 431.15,482.65 428.20,479.70" fill="#7684C3" stroke="none" stroke-width="1"/>
<polygon points="431.15,502.05 434.10,505.00 431.15,507.95 428.20,505.00" fill="#7684C3" stroke="none" stroke-width="1"/>
<circle cx="431.15" cy="440.00" r="3.05" fill="#E7718A" stroke="none" stroke-width="1"/>
<circle cx="431.15" cy="446.70" r="3.05" fill="#E7718A" stroke="none" stroke-width="1"/>
<polygon points="431.15,440.40 427.30,447.33 435.00,447.33" fill="#6EC5C1" stroke="none" stroke-width="1"/>
</g>
<rect x="353.20" y="421.30" width="95.70" height="84.00" fill="none" stroke="#7A7A7A" stroke-width="0.9" />
<line x1="370.95" y1="505.30" x2="370.95" y2="507.80" stroke="#444" stroke-width="0.8" />
<text x="370.35" y="518.60" font-size="11.9" fill="#1A1A1A" text-anchor="middle" textLength="12.60" lengthAdjust="spacingAndGlyphs" stroke="#1A1A1A" stroke-width="0.5">D1</text>
<line x1="401.05" y1="505.30" x2="401.05" y2="507.80" stroke="#444" stroke-width="0.8" />
<text x="400.45" y="518.60" font-size="11.9" fill="#1A1A1A" text-anchor="middle" textLength="12.60" lengthAdjust="spacingAndGlyphs" stroke="#1A1A1A" stroke-width="0.5">D2</text>
<line x1="431.15" y1="505.30" x2="431.15" y2="507.80" stroke="#444" stroke-width="0.8" />
<text x="430.55" y="518.60" font-size="11.9" fill="#1A1A1A" text-anchor="middle" textLength="12.60" lengthAdjust="spacingAndGlyphs" stroke="#1A1A1A" stroke-width="0.5">D3</text>
<rect x="453.40" y="421.30" width="95.70" height="84.00" fill="#fff" stroke="none" stroke-width="1" />
<line x1="453.40" y1="426.02" x2="549.10" y2="426.02" stroke="#F3F3F3" stroke-width="0.7" />
<line x1="453.40" y1="451.38" x2="549.10" y2="451.38" stroke="#F3F3F3" stroke-width="0.7" />
<line x1="453.40" y1="476.74" x2="549.10" y2="476.74" stroke="#F3F3F3" stroke-width="0.7" />
<line x1="453.40" y1="502.10" x2="549.10" y2="502.10" stroke="#F3F3F3" stroke-width="0.7" />
<line x1="453.40" y1="438.70" x2="549.10" y2="438.70" stroke="#EBEBEB" stroke-width="0.9" />
<line x1="453.40" y1="464.06" x2="549.10" y2="464.06" stroke="#EBEBEB" stroke-width="0.9" />
<line x1="453.40" y1="489.42" x2="549.10" y2="489.42" stroke="#EBEBEB" stroke-width="0.9" />
<line x1="471.15" y1="421.30" x2="471.15" y2="505.30" stroke="#EBEBEB" stroke-width="0.9" />
<line x1="501.25" y1="421.30" x2="501.25" y2="505.30" stroke="#EBEBEB" stroke-width="0.9" />
<line x1="531.35" y1="421.30" x2="531.35" y2="505.30" stroke="#EBEBEB" stroke-width="0.9" />
<line x1="453.40" y1="482.45" x2="549.10" y2="482.45" stroke="#CDCDCD" stroke-width="0.75" stroke-dasharray="1.3,1.1"/>
<g clip-path="url(#cc24)">
<clipPath id="cc24"><rect x="453.40000000000003" y="421.3" width="95.7" height="84.0"/></clipPath>
<polyline points="471.15,459.90 501.25,455.50 531.35,458.40" fill="none" stroke="#7684C3" stroke-width="1.0" />
<polyline points="471.15,443.80 501.25,444.50 531.35,444.50" fill="none" stroke="#6EC5C1" stroke-width="1.0" />
<polyline points="471.15,440.00 501.25,437.10 531.35,442.40" fill="none" stroke="#E7718A" stroke-width="1.0" />
<polygon points="471.15,454.55 474.10,457.50 471.15,460.45 468.20,457.50" fill="#7684C3" stroke="none" stroke-width="1"/>
<polygon points="471.15,456.95 474.10,459.90 471.15,462.85 468.20,459.90" fill="#7684C3" stroke="none" stroke-width="1"/>
<polygon points="471.15,467.15 474.10,470.10 471.15,473.05 468.20,470.10" fill="#7684C3" stroke="none" stroke-width="1"/>
<polygon points="471.15,470.05 474.10,473.00 471.15,475.95 468.20,473.00" fill="#7684C3" stroke="none" stroke-width="1"/>
<circle cx="471.15" cy="438.00" r="3.05" fill="#E7718A" stroke="none" stroke-width="1"/>
<circle cx="471.15" cy="440.00" r="3.05" fill="#E7718A" stroke="none" stroke-width="1"/>
<circle cx="471.15" cy="446.70" r="3.05" fill="#E7718A" stroke="none" stroke-width="1"/>
<polygon points="471.15,439.50 467.30,446.43 475.00,446.43" fill="#6EC5C1" stroke="none" stroke-width="1"/>
<polygon points="501.25,452.55 504.20,455.50 501.25,458.45 498.30,455.50" fill="#7684C3" stroke="none" stroke-width="1"/>
<circle cx="501.25" cy="437.10" r="3.05" fill="#E7718A" stroke="none" stroke-width="1"/>
<circle cx="501.25" cy="438.90" r="3.05" fill="#E7718A" stroke="none" stroke-width="1"/>
<polygon points="501.25,440.40 497.40,447.33 505.10,447.33" fill="#6EC5C1" stroke="none" stroke-width="1"/>
<polygon points="531.35,454.05 534.30,457.00 531.35,459.95 528.40,457.00" fill="#7684C3" stroke="none" stroke-width="1"/>
<polygon points="531.35,457.55 534.30,460.50 531.35,463.45 528.40,460.50" fill="#7684C3" stroke="none" stroke-width="1"/>
<circle cx="531.35" cy="440.90" r="3.05" fill="#E7718A" stroke="none" stroke-width="1"/>
<circle cx="531.35" cy="445.90" r="3.05" fill="#E7718A" stroke="none" stroke-width="1"/>
<polygon points="531.35,440.40 527.50,447.33 535.20,447.33" fill="#6EC5C1" stroke="none" stroke-width="1"/>
</g>
<rect x="453.40" y="421.30" width="95.70" height="84.00" fill="none" stroke="#7A7A7A" stroke-width="0.9" />
<line x1="471.15" y1="505.30" x2="471.15" y2="507.80" stroke="#444" stroke-width="0.8" />
<text x="470.55" y="518.60" font-size="11.9" fill="#1A1A1A" text-anchor="middle" textLength="12.60" lengthAdjust="spacingAndGlyphs" stroke="#1A1A1A" stroke-width="0.5">D1</text>
<line x1="501.25" y1="505.30" x2="501.25" y2="507.80" stroke="#444" stroke-width="0.8" />
<text x="500.65" y="518.60" font-size="11.9" fill="#1A1A1A" text-anchor="middle" textLength="12.60" lengthAdjust="spacingAndGlyphs" stroke="#1A1A1A" stroke-width="0.5">D2</text>
<line x1="531.35" y1="505.30" x2="531.35" y2="507.80" stroke="#444" stroke-width="0.8" />
<text x="530.75" y="518.60" font-size="11.9" fill="#1A1A1A" text-anchor="middle" textLength="12.60" lengthAdjust="spacingAndGlyphs" stroke="#1A1A1A" stroke-width="0.5">D3</text>
<rect x="553.60" y="421.30" width="95.70" height="84.00" fill="#fff" stroke="none" stroke-width="1" />
<line x1="553.60" y1="426.02" x2="649.30" y2="426.02" stroke="#F3F3F3" stroke-width="0.7" />
<line x1="553.60" y1="451.38" x2="649.30" y2="451.38" stroke="#F3F3F3" stroke-width="0.7" />
<line x1="553.60" y1="476.74" x2="649.30" y2="476.74" stroke="#F3F3F3" stroke-width="0.7" />
<line x1="553.60" y1="502.10" x2="649.30" y2="502.10" stroke="#F3F3F3" stroke-width="0.7" />
<line x1="553.60" y1="438.70" x2="649.30" y2="438.70" stroke="#EBEBEB" stroke-width="0.9" />
<line x1="553.60" y1="464.06" x2="649.30" y2="464.06" stroke="#EBEBEB" stroke-width="0.9" />
<line x1="553.60" y1="489.42" x2="649.30" y2="489.42" stroke="#EBEBEB" stroke-width="0.9" />
<line x1="571.35" y1="421.30" x2="571.35" y2="505.30" stroke="#EBEBEB" stroke-width="0.9" />
<line x1="601.45" y1="421.30" x2="601.45" y2="505.30" stroke="#EBEBEB" stroke-width="0.9" />
<line x1="631.55" y1="421.30" x2="631.55" y2="505.30" stroke="#EBEBEB" stroke-width="0.9" />
<line x1="553.60" y1="482.45" x2="649.30" y2="482.45" stroke="#CDCDCD" stroke-width="0.75" stroke-dasharray="1.3,1.1"/>
<g clip-path="url(#cc25)">
<clipPath id="cc25"><rect x="553.6" y="421.3" width="95.7" height="84.0"/></clipPath>
<polyline points="571.35,505.00 601.45,459.90 631.55,446.70" fill="none" stroke="#7684C3" stroke-width="1.0" />
<polyline points="571.35,472.10 601.45,449.70 631.55,446.70" fill="none" stroke="#6EC5C1" stroke-width="1.0" />
<polyline points="571.35,447.30 601.45,443.80 631.55,440.00" fill="none" stroke="#E7718A" stroke-width="1.0" />
<polygon points="571.35,502.05 574.30,505.00 571.35,507.95 568.40,505.00" fill="#7684C3" stroke="none" stroke-width="1"/>
<circle cx="571.35" cy="442.40" r="3.05" fill="#E7718A" stroke="none" stroke-width="1"/>
<circle cx="571.35" cy="454.00" r="3.05" fill="#E7718A" stroke="none" stroke-width="1"/>
<circle cx="571.35" cy="455.50" r="3.05" fill="#E7718A" stroke="none" stroke-width="1"/>
<circle cx="571.35" cy="477.40" r="3.05" fill="#E7718A" stroke="none" stroke-width="1"/>
<circle cx="571.35" cy="486.70" r="3.05" fill="#E7718A" stroke="none" stroke-width="1"/>
<polygon points="571.35,466.70 567.50,473.63 575.20,473.63" fill="#6EC5C1" stroke="none" stroke-width="1"/>
<polygon points="571.35,477.50 567.50,484.43 575.20,484.43" fill="#6EC5C1" stroke="none" stroke-width="1"/>
<polygon points="601.45,454.55 604.40,457.50 601.45,460.45 598.50,457.50" fill="#7684C3" stroke="none" stroke-width="1"/>
<polygon points="601.45,473.85 604.40,476.80 601.45,479.75 598.50,476.80" fill="#7684C3" stroke="none" stroke-width="1"/>
<polygon points="601.45,483.25 604.40,486.20 601.45,489.15 598.50,486.20" fill="#7684C3" stroke="none" stroke-width="1"/>
<polygon points="601.45,502.05 604.40,505.00 601.45,507.95 598.50,505.00" fill="#7684C3" stroke="none" stroke-width="1"/>
<circle cx="601.45" cy="441.80" r="3.05" fill="#E7718A" stroke="none" stroke-width="1"/>
<circle cx="601.45" cy="444.70" r="3.05" fill="#E7718A" stroke="none" stroke-width="1"/>
<circle cx="601.45" cy="446.70" r="3.05" fill="#E7718A" stroke="none" stroke-width="1"/>
<polygon points="601.45,443.90 597.60,450.83 605.30,450.83" fill="#6EC5C1" stroke="none" stroke-width="1"/>
<polygon points="601.45,458.50 597.60,465.43 605.30,465.43" fill="#6EC5C1" stroke="none" stroke-width="1"/>
<polygon points="601.45,464.30 597.60,471.23 605.30,471.23" fill="#6EC5C1" stroke="none" stroke-width="1"/>
<polygon points="631.55,443.75 634.50,446.70 631.55,449.65 628.60,446.70" fill="#7684C3" stroke="none" stroke-width="1"/>
<polygon points="631.55,464.25 634.50,467.20 631.55,470.15 628.60,467.20" fill="#7684C3" stroke="none" stroke-width="1"/>
<circle cx="631.55" cy="439.40" r="3.05" fill="#E7718A" stroke="none" stroke-width="1"/>
<circle cx="631.55" cy="441.80" r="3.05" fill="#E7718A" stroke="none" stroke-width="1"/>
<polygon points="631.55,442.40 627.70,449.33 635.40,449.33" fill="#6EC5C1" stroke="none" stroke-width="1"/>
<polygon points="631.55,447.40 627.70,454.33 635.40,454.33" fill="#6EC5C1" stroke="none" stroke-width="1"/>
</g>
<rect x="553.60" y="421.30" width="95.70" height="84.00" fill="none" stroke="#7A7A7A" stroke-width="0.9" />
<line x1="571.35" y1="505.30" x2="571.35" y2="507.80" stroke="#444" stroke-width="0.8" />
<text x="570.75" y="518.60" font-size="11.9" fill="#1A1A1A" text-anchor="middle" textLength="12.60" lengthAdjust="spacingAndGlyphs" stroke="#1A1A1A" stroke-width="0.5">D1</text>
<line x1="601.45" y1="505.30" x2="601.45" y2="507.80" stroke="#444" stroke-width="0.8" />
<text x="600.85" y="518.60" font-size="11.9" fill="#1A1A1A" text-anchor="middle" textLength="12.60" lengthAdjust="spacingAndGlyphs" stroke="#1A1A1A" stroke-width="0.5">D2</text>
<line x1="631.55" y1="505.30" x2="631.55" y2="507.80" stroke="#444" stroke-width="0.8" />
<text x="630.95" y="518.60" font-size="11.9" fill="#1A1A1A" text-anchor="middle" textLength="12.60" lengthAdjust="spacingAndGlyphs" stroke="#1A1A1A" stroke-width="0.5">D3</text>
<text x="21.00" y="389.60" font-size="14" fill="#1A1A1A" text-anchor="middle" textLength="129.00" lengthAdjust="spacingAndGlyphs" transform="rotate(-90 21.00 389.60)" >CFU per gram of stool</text>
<text x="675.50" y="290.00" font-size="12" fill="#3543A2" text-anchor="middle" textLength="58.40" lengthAdjust="spacingAndGlyphs" transform="rotate(90 675.50 290.00)" >EcN(donor)</text>
<text x="654.00" y="290.00" font-size="12" fill="#111" text-anchor="middle" textLength="34.30" lengthAdjust="spacingAndGlyphs" transform="rotate(90 654.00 290.00)" >SGH10</text>
<line x1="674.60" y1="290.70" x2="665.60" y2="290.70" stroke="#F2683F" stroke-width="1.0" />
<polygon points="663.80,290.70 666.80,288.84 666.80,292.56" fill="#F2683F" stroke="none" stroke-width="1"/>
<text x="675.50" y="377.00" font-size="12" fill="#3543A2" text-anchor="middle" textLength="58.20" lengthAdjust="spacingAndGlyphs" transform="rotate(90 675.50 377.00)" >EcN(donor)</text>
<text x="654.00" y="377.00" font-size="12" fill="#111" text-anchor="middle" textLength="70.30" lengthAdjust="spacingAndGlyphs" transform="rotate(90 654.00 377.00)" >SGH10Δ<tspan font-style="italic">wcaJ</tspan></text>
<line x1="674.60" y1="376.90" x2="665.60" y2="376.90" stroke="#F2683F" stroke-width="1.0" />
<polygon points="663.80,376.90 666.80,375.04 666.80,378.76" fill="#F2683F" stroke="none" stroke-width="1"/>
<text x="675.50" y="459.90" font-size="12" fill="#3543A2" text-anchor="middle" textLength="72.20" lengthAdjust="spacingAndGlyphs" transform="rotate(90 675.50 459.90)" >SGH10(donor)</text>
<text x="654.00" y="459.90" font-size="12" fill="#111" text-anchor="middle" textLength="19.70" lengthAdjust="spacingAndGlyphs" transform="rotate(90 654.00 459.90)" >EcN</text>
<line x1="674.60" y1="459.40" x2="665.60" y2="459.40" stroke="#F2683F" stroke-width="1.0" />
<polygon points="663.80,459.40 666.80,457.54 666.80,461.26" fill="#F2683F" stroke="none" stroke-width="1"/>
<text x="-0.50" y="534.90" font-size="24.4" fill="#111" >d</text>
<text x="12.90" y="534.90" font-size="24.4" fill="#111" >.</text>
<rect x="45.50" y="529.30" width="97.10" height="15.90" fill="#D9D9D9" stroke="#979797" stroke-width="0.8" />
<line x1="45.50" y1="545.00" x2="142.60" y2="545.00" stroke="#5E5E5E" stroke-width="1.3" />
<text x="94.05" y="540.60" font-size="10.2" fill="#1A1A1A" text-anchor="middle" >pKPC2</text>
<rect x="45.50" y="545.20" width="97.10" height="72.10" fill="#fff" stroke="none" stroke-width="1" />
<line x1="45.50" y1="559.83" x2="142.60" y2="559.83" stroke="#F2F2F2" stroke-width="0.7" />
<line x1="45.50" y1="575.49" x2="142.60" y2="575.49" stroke="#F2F2F2" stroke-width="0.7" />
<line x1="45.50" y1="591.15" x2="142.60" y2="591.15" stroke="#F2F2F2" stroke-width="0.7" />
<line x1="45.50" y1="606.81" x2="142.60" y2="606.81" stroke="#F2F2F2" stroke-width="0.7" />
<line x1="45.50" y1="552.00" x2="142.60" y2="552.00" stroke="#EBEBEB" stroke-width="0.9" />
<line x1="45.50" y1="567.66" x2="142.60" y2="567.66" stroke="#EBEBEB" stroke-width="0.9" />
<line x1="45.50" y1="583.32" x2="142.60" y2="583.32" stroke="#EBEBEB" stroke-width="0.9" />
<line x1="45.50" y1="598.98" x2="142.60" y2="598.98" stroke="#EBEBEB" stroke-width="0.9" />
<line x1="45.50" y1="614.64" x2="142.60" y2="614.64" stroke="#EBEBEB" stroke-width="0.9" />
<line x1="63.50" y1="545.20" x2="63.50" y2="617.30" stroke="#EBEBEB" stroke-width="0.9" />
<line x1="94.00" y1="545.20" x2="94.00" y2="617.30" stroke="#EBEBEB" stroke-width="0.9" />
<line x1="124.50" y1="545.20" x2="124.50" y2="617.30" stroke="#EBEBEB" stroke-width="0.9" />
<rect x="45.90" y="545.20" width="96.30" height="72.10" fill="none" stroke="#DCDCDC" stroke-width="0.9" />
<line x1="63.50" y1="566.00" x2="63.50" y2="569.10" stroke="#333" stroke-width="0.9" />
<line x1="63.50" y1="578.30" x2="63.50" y2="578.30" stroke="#333" stroke-width="0.9" />
<rect x="52.00" y="569.10" width="23.00" height="9.20" fill="#E0836F" stroke="#333" stroke-width="0.9" />
<line x1="52.00" y1="576.20" x2="75.00" y2="576.20" stroke="#333" stroke-width="1.8" />
<circle cx="58.70" cy="566.00" r="2.9" fill="none" stroke="#222" stroke-width="0.75"/>
<circle cx="63.50" cy="569.10" r="2.9" fill="none" stroke="#222" stroke-width="0.75"/>
<circle cx="68.30" cy="578.30" r="2.9" fill="none" stroke="#222" stroke-width="0.75"/>
<circle cx="61.10" cy="577.50" r="2.9" fill="none" stroke="#222" stroke-width="0.75"/>
<line x1="94.00" y1="570.00" x2="94.00" y2="572.20" stroke="#333" stroke-width="0.9" />
<line x1="94.00" y1="576.80" x2="94.00" y2="576.80" stroke="#333" stroke-width="0.9" />
<rect x="82.50" y="572.20" width="23.00" height="4.60" fill="#E0836F" stroke="#333" stroke-width="0.9" />
<line x1="82.50" y1="574.30" x2="105.50" y2="574.30" stroke="#333" stroke-width="1.8" />
<circle cx="89.20" cy="570.00" r="2.9" fill="none" stroke="#222" stroke-width="0.75"/>
<circle cx="94.00" cy="573.70" r="2.9" fill="none" stroke="#222" stroke-width="0.75"/>
<circle cx="98.80" cy="576.20" r="2.9" fill="none" stroke="#222" stroke-width="0.75"/>
<circle cx="91.60" cy="584.50" r="2.9" fill="none" stroke="#222" stroke-width="0.75"/>
<line x1="124.50" y1="570.70" x2="124.50" y2="570.70" stroke="#333" stroke-width="0.9" />
<line x1="124.50" y1="575.30" x2="124.50" y2="575.30" stroke="#333" stroke-width="0.9" />
<rect x="113.00" y="570.70" width="23.00" height="4.60" fill="#E0836F" stroke="#333" stroke-width="0.9" />
<line x1="113.00" y1="573.10" x2="136.00" y2="573.10" stroke="#333" stroke-width="1.8" />
<circle cx="119.70" cy="563.90" r="2.9" fill="none" stroke="#222" stroke-width="0.75"/>
<circle cx="124.50" cy="570.70" r="2.9" fill="none" stroke="#222" stroke-width="0.75"/>
<circle cx="129.30" cy="576.20" r="2.9" fill="none" stroke="#222" stroke-width="0.75"/>
<circle cx="122.10" cy="579.90" r="2.9" fill="none" stroke="#222" stroke-width="0.75"/>
<line x1="42.90" y1="552.00" x2="45.50" y2="552.00" stroke="#AAAAAA" stroke-width="0.8" />
<text x="40.20" y="556.60" font-size="13" fill="#1A1A1A" text-anchor="end" >0</text>
<line x1="42.90" y1="567.66" x2="45.50" y2="567.66" stroke="#AAAAAA" stroke-width="0.8" />
<text x="40.20" y="572.26" font-size="13" fill="#1A1A1A" text-anchor="end" >-2</text>
<line x1="42.90" y1="583.32" x2="45.50" y2="583.32" stroke="#AAAAAA" stroke-width="0.8" />
<text x="40.20" y="587.92" font-size="13" fill="#1A1A1A" text-anchor="end" >-4</text>
<line x1="42.90" y1="598.98" x2="45.50" y2="598.98" stroke="#AAAAAA" stroke-width="0.8" />
<text x="40.20" y="603.58" font-size="13" fill="#1A1A1A" text-anchor="end" >-6</text>
<line x1="42.90" y1="614.64" x2="45.50" y2="614.64" stroke="#AAAAAA" stroke-width="0.8" />
<text x="40.20" y="619.24" font-size="13" fill="#1A1A1A" text-anchor="end" >-8</text>
<rect x="147.40" y="529.30" width="97.10" height="15.90" fill="#D9D9D9" stroke="#979797" stroke-width="0.8" />
<line x1="147.40" y1="545.00" x2="244.50" y2="545.00" stroke="#5E5E5E" stroke-width="1.3" />
<text x="195.95" y="540.60" font-size="10.2" fill="#1A1A1A" text-anchor="middle" >pKpQIL</text>
<rect x="147.40" y="545.20" width="97.10" height="72.10" fill="#fff" stroke="none" stroke-width="1" />
<line x1="147.40" y1="559.83" x2="244.50" y2="559.83" stroke="#F2F2F2" stroke-width="0.7" />
<line x1="147.40" y1="575.49" x2="244.50" y2="575.49" stroke="#F2F2F2" stroke-width="0.7" />
<line x1="147.40" y1="591.15" x2="244.50" y2="591.15" stroke="#F2F2F2" stroke-width="0.7" />
<line x1="147.40" y1="606.81" x2="244.50" y2="606.81" stroke="#F2F2F2" stroke-width="0.7" />
<line x1="147.40" y1="552.00" x2="244.50" y2="552.00" stroke="#EBEBEB" stroke-width="0.9" />
<line x1="147.40" y1="567.66" x2="244.50" y2="567.66" stroke="#EBEBEB" stroke-width="0.9" />
<line x1="147.40" y1="583.32" x2="244.50" y2="583.32" stroke="#EBEBEB" stroke-width="0.9" />
<line x1="147.40" y1="598.98" x2="244.50" y2="598.98" stroke="#EBEBEB" stroke-width="0.9" />
<line x1="147.40" y1="614.64" x2="244.50" y2="614.64" stroke="#EBEBEB" stroke-width="0.9" />
<line x1="165.40" y1="545.20" x2="165.40" y2="617.30" stroke="#EBEBEB" stroke-width="0.9" />
<line x1="195.90" y1="545.20" x2="195.90" y2="617.30" stroke="#EBEBEB" stroke-width="0.9" />
<line x1="226.40" y1="545.20" x2="226.40" y2="617.30" stroke="#EBEBEB" stroke-width="0.9" />
<rect x="147.80" y="545.20" width="96.30" height="72.10" fill="none" stroke="#DCDCDC" stroke-width="0.9" />
<line x1="165.40" y1="558.40" x2="165.40" y2="559.90" stroke="#333" stroke-width="0.9" />
<line x1="165.40" y1="571.30" x2="165.40" y2="582.30" stroke="#333" stroke-width="0.9" />
<rect x="153.90" y="559.90" width="23.00" height="11.40" fill="#E0836F" stroke="#333" stroke-width="0.9" />
<line x1="153.90" y1="563.00" x2="176.90" y2="563.00" stroke="#333" stroke-width="1.8" />
<polygon points="160.60,554.49 157.10,560.79 164.10,560.79" fill="none" stroke="#222" stroke-width="0.75"/>
<polygon points="165.40,557.59 161.90,563.89 168.90,563.89" fill="none" stroke="#222" stroke-width="0.75"/>
<polygon points="170.20,566.09 166.70,572.39 173.70,572.39" fill="none" stroke="#222" stroke-width="0.75"/>
<polygon points="163.00,578.39 159.50,584.69 166.50,584.69" fill="none" stroke="#222" stroke-width="0.75"/>
<line x1="195.90" y1="556.90" x2="195.90" y2="562.10" stroke="#333" stroke-width="0.9" />
<line x1="195.90" y1="578.30" x2="195.90" y2="578.30" stroke="#333" stroke-width="0.9" />
<rect x="184.40" y="562.10" width="23.00" height="16.20" fill="#E0836F" stroke="#333" stroke-width="0.9" />
<line x1="184.40" y1="564.50" x2="207.40" y2="564.50" stroke="#333" stroke-width="1.8" />
<polygon points="191.10,552.99 187.60,559.29 194.60,559.29" fill="none" stroke="#222" stroke-width="0.75"/>
<polygon points="195.90,558.19 192.40,564.49 199.40,564.49" fill="none" stroke="#222" stroke-width="0.75"/>
<polygon points="200.70,560.59 197.20,566.89 204.20,566.89" fill="none" stroke="#222" stroke-width="0.75"/>
<polygon points="193.50,573.49 190.00,579.79 197.00,579.79" fill="none" stroke="#222" stroke-width="0.75"/>
<polygon points="198.30,578.39 194.80,584.69 201.80,584.69" fill="none" stroke="#222" stroke-width="0.75"/>
<line x1="226.40" y1="571.60" x2="226.40" y2="573.10" stroke="#333" stroke-width="0.9" />
<line x1="226.40" y1="590.60" x2="226.40" y2="590.60" stroke="#333" stroke-width="0.9" />
<rect x="214.90" y="573.10" width="23.00" height="17.50" fill="#E0836F" stroke="#333" stroke-width="0.9" />
<line x1="214.90" y1="573.70" x2="237.90" y2="573.70" stroke="#333" stroke-width="1.8" />
<polygon points="221.60,567.69 218.10,573.99 225.10,573.99" fill="none" stroke="#222" stroke-width="0.75"/>
<polygon points="226.40,567.69 222.90,573.99 229.90,573.99" fill="none" stroke="#222" stroke-width="0.75"/>
<polygon points="231.20,567.69 227.70,573.99 234.70,573.99" fill="none" stroke="#222" stroke-width="0.75"/>
<polygon points="224.00,585.09 220.50,591.39 227.50,591.39" fill="none" stroke="#222" stroke-width="0.75"/>
<polygon points="228.80,585.09 225.30,591.39 232.30,591.39" fill="none" stroke="#222" stroke-width="0.75"/>
<rect x="249.30" y="529.30" width="97.10" height="15.90" fill="#D9D9D9" stroke="#979797" stroke-width="0.8" />
<line x1="249.30" y1="545.00" x2="346.40" y2="545.00" stroke="#5E5E5E" stroke-width="1.3" />
<text x="297.85" y="540.60" font-size="10.2" fill="#1A1A1A" text-anchor="middle" >pNDM1</text>
<rect x="249.30" y="545.20" width="97.10" height="72.10" fill="#fff" stroke="none" stroke-width="1" />
<line x1="249.30" y1="559.83" x2="346.40" y2="559.83" stroke="#F2F2F2" stroke-width="0.7" />
<line x1="249.30" y1="575.49" x2="346.40" y2="575.49" stroke="#F2F2F2" stroke-width="0.7" />
<line x1="249.30" y1="591.15" x2="346.40" y2="591.15" stroke="#F2F2F2" stroke-width="0.7" />
<line x1="249.30" y1="606.81" x2="346.40" y2="606.81" stroke="#F2F2F2" stroke-width="0.7" />
<line x1="249.30" y1="552.00" x2="346.40" y2="552.00" stroke="#EBEBEB" stroke-width="0.9" />
<line x1="249.30" y1="567.66" x2="346.40" y2="567.66" stroke="#EBEBEB" stroke-width="0.9" />
<line x1="249.30" y1="583.32" x2="346.40" y2="583.32" stroke="#EBEBEB" stroke-width="0.9" />
<line x1="249.30" y1="598.98" x2="346.40" y2="598.98" stroke="#EBEBEB" stroke-width="0.9" />
<line x1="249.30" y1="614.64" x2="346.40" y2="614.64" stroke="#EBEBEB" stroke-width="0.9" />
<line x1="267.30" y1="545.20" x2="267.30" y2="617.30" stroke="#EBEBEB" stroke-width="0.9" />
<line x1="297.80" y1="545.20" x2="297.80" y2="617.30" stroke="#EBEBEB" stroke-width="0.9" />
<line x1="328.30" y1="545.20" x2="328.30" y2="617.30" stroke="#EBEBEB" stroke-width="0.9" />
<rect x="249.70" y="545.20" width="96.30" height="72.10" fill="none" stroke="#DCDCDC" stroke-width="0.9" />
<line x1="267.30" y1="557.00" x2="267.30" y2="557.50" stroke="#333" stroke-width="0.9" />
<line x1="267.30" y1="566.10" x2="267.30" y2="569.10" stroke="#333" stroke-width="0.9" />
<rect x="255.80" y="557.50" width="23.00" height="8.60" fill="#E0836F" stroke="#333" stroke-width="0.9" />
<line x1="255.80" y1="559.90" x2="278.80" y2="559.90" stroke="#333" stroke-width="1.8" />
<line x1="259.10" y1="557.00" x2="265.90" y2="557.00" stroke="#222" stroke-width="0.9" />
<line x1="262.50" y1="553.60" x2="262.50" y2="560.40" stroke="#222" stroke-width="0.9" />
<line x1="263.90" y1="560.00" x2="270.70" y2="560.00" stroke="#222" stroke-width="0.9" />
<line x1="267.30" y1="556.60" x2="267.30" y2="563.40" stroke="#222" stroke-width="0.9" />
<line x1="268.70" y1="562.00" x2="275.50" y2="562.00" stroke="#222" stroke-width="0.9" />
<line x1="272.10" y1="558.60" x2="272.10" y2="565.40" stroke="#222" stroke-width="0.9" />
<line x1="261.50" y1="566.00" x2="268.30" y2="566.00" stroke="#222" stroke-width="0.9" />
<line x1="264.90" y1="562.60" x2="264.90" y2="569.40" stroke="#222" stroke-width="0.9" />
<line x1="297.80" y1="556.90" x2="297.80" y2="556.90" stroke="#333" stroke-width="0.9" />
<line x1="297.80" y1="579.20" x2="297.80" y2="581.00" stroke="#333" stroke-width="0.9" />
<rect x="286.30" y="556.90" width="23.00" height="22.30" fill="#E0836F" stroke="#333" stroke-width="0.9" />
<line x1="286.30" y1="557.20" x2="309.30" y2="557.20" stroke="#333" stroke-width="1.8" />
<line x1="289.60" y1="556.90" x2="296.40" y2="556.90" stroke="#222" stroke-width="0.9" />
<line x1="293.00" y1="553.50" x2="293.00" y2="560.30" stroke="#222" stroke-width="0.9" />
<line x1="294.40" y1="556.90" x2="301.20" y2="556.90" stroke="#222" stroke-width="0.9" />
<line x1="297.80" y1="553.50" x2="297.80" y2="560.30" stroke="#222" stroke-width="0.9" />
<line x1="299.20" y1="579.00" x2="306.00" y2="579.00" stroke="#222" stroke-width="0.9" />
<line x1="302.60" y1="575.60" x2="302.60" y2="582.40" stroke="#222" stroke-width="0.9" />
<line x1="292.00" y1="581.00" x2="298.80" y2="581.00" stroke="#222" stroke-width="0.9" />
<line x1="295.40" y1="577.60" x2="295.40" y2="584.40" stroke="#222" stroke-width="0.9" />
<line x1="328.30" y1="553.40" x2="328.30" y2="556.90" stroke="#333" stroke-width="0.9" />
<line x1="328.30" y1="584.50" x2="328.30" y2="587.00" stroke="#333" stroke-width="0.9" />
<rect x="316.80" y="556.90" width="23.00" height="27.60" fill="#E0836F" stroke="#333" stroke-width="0.9" />
<line x1="316.80" y1="570.70" x2="339.80" y2="570.70" stroke="#333" stroke-width="1.8" />
<line x1="320.10" y1="553.40" x2="326.90" y2="553.40" stroke="#222" stroke-width="0.9" />
<line x1="323.50" y1="550.00" x2="323.50" y2="556.80" stroke="#222" stroke-width="0.9" />
<line x1="324.90" y1="557.50" x2="331.70" y2="557.50" stroke="#222" stroke-width="0.9" />
<line x1="328.30" y1="554.10" x2="328.30" y2="560.90" stroke="#222" stroke-width="0.9" />
<line x1="329.70" y1="583.00" x2="336.50" y2="583.00" stroke="#222" stroke-width="0.9" />
<line x1="333.10" y1="579.60" x2="333.10" y2="586.40" stroke="#222" stroke-width="0.9" />
<line x1="322.50" y1="587.00" x2="329.30" y2="587.00" stroke="#222" stroke-width="0.9" />
<line x1="325.90" y1="583.60" x2="325.90" y2="590.40" stroke="#222" stroke-width="0.9" />
<rect x="351.20" y="529.30" width="97.10" height="15.90" fill="#D9D9D9" stroke="#979797" stroke-width="0.8" />
<line x1="351.20" y1="545.00" x2="448.30" y2="545.00" stroke="#5E5E5E" stroke-width="1.3" />
<text x="399.75" y="540.60" font-size="10.2" fill="#1A1A1A" text-anchor="middle" >RP4-11</text>
<rect x="351.20" y="545.20" width="97.10" height="72.10" fill="#fff" stroke="none" stroke-width="1" />
<line x1="351.20" y1="559.83" x2="448.30" y2="559.83" stroke="#F2F2F2" stroke-width="0.7" />
<line x1="351.20" y1="575.49" x2="448.30" y2="575.49" stroke="#F2F2F2" stroke-width="0.7" />
<line x1="351.20" y1="591.15" x2="448.30" y2="591.15" stroke="#F2F2F2" stroke-width="0.7" />
<line x1="351.20" y1="606.81" x2="448.30" y2="606.81" stroke="#F2F2F2" stroke-width="0.7" />
<line x1="351.20" y1="552.00" x2="448.30" y2="552.00" stroke="#EBEBEB" stroke-width="0.9" />
<line x1="351.20" y1="567.66" x2="448.30" y2="567.66" stroke="#EBEBEB" stroke-width="0.9" />
<line x1="351.20" y1="583.32" x2="448.30" y2="583.32" stroke="#EBEBEB" stroke-width="0.9" />
<line x1="351.20" y1="598.98" x2="448.30" y2="598.98" stroke="#EBEBEB" stroke-width="0.9" />
<line x1="351.20" y1="614.64" x2="448.30" y2="614.64" stroke="#EBEBEB" stroke-width="0.9" />
<line x1="369.20" y1="545.20" x2="369.20" y2="617.30" stroke="#EBEBEB" stroke-width="0.9" />
<line x1="399.70" y1="545.20" x2="399.70" y2="617.30" stroke="#EBEBEB" stroke-width="0.9" />
<line x1="430.20" y1="545.20" x2="430.20" y2="617.30" stroke="#EBEBEB" stroke-width="0.9" />
<rect x="351.60" y="545.20" width="96.30" height="72.10" fill="none" stroke="#DCDCDC" stroke-width="0.9" />
<line x1="369.20" y1="580.50" x2="369.20" y2="585.40" stroke="#333" stroke-width="0.9" />
<line x1="369.20" y1="590.60" x2="369.20" y2="590.60" stroke="#333" stroke-width="0.9" />
<rect x="357.70" y="585.40" width="23.00" height="5.20" fill="#E0836F" stroke="#333" stroke-width="0.9" />
<line x1="357.70" y1="588.10" x2="380.70" y2="588.10" stroke="#333" stroke-width="1.8" />
<line x1="361.68" y1="577.78" x2="367.12" y2="583.22" stroke="#222" stroke-width="0.8" />
<line x1="361.68" y1="583.22" x2="367.12" y2="577.78" stroke="#222" stroke-width="0.8" />
<line x1="366.48" y1="584.78" x2="371.92" y2="590.22" stroke="#222" stroke-width="0.8" />
<line x1="366.48" y1="590.22" x2="371.92" y2="584.78" stroke="#222" stroke-width="0.8" />
<line x1="371.28" y1="587.88" x2="376.72" y2="593.32" stroke="#222" stroke-width="0.8" />
<line x1="371.28" y1="593.32" x2="376.72" y2="587.88" stroke="#222" stroke-width="0.8" />
<line x1="364.08" y1="601.68" x2="369.52" y2="607.12" stroke="#222" stroke-width="0.8" />
<line x1="364.08" y1="607.12" x2="369.52" y2="601.68" stroke="#222" stroke-width="0.8" />
<line x1="399.70" y1="591.00" x2="399.70" y2="591.20" stroke="#333" stroke-width="0.9" />
<line x1="399.70" y1="595.20" x2="399.70" y2="596.00" stroke="#333" stroke-width="0.9" />
<rect x="388.20" y="591.20" width="23.00" height="4.00" fill="#E0836F" stroke="#333" stroke-width="0.9" />
<line x1="388.20" y1="592.70" x2="411.20" y2="592.70" stroke="#333" stroke-width="1.8" />
<line x1="392.18" y1="588.28" x2="397.62" y2="593.72" stroke="#222" stroke-width="0.8" />
<line x1="392.18" y1="593.72" x2="397.62" y2="588.28" stroke="#222" stroke-width="0.8" />
<line x1="396.98" y1="591.28" x2="402.42" y2="596.72" stroke="#222" stroke-width="0.8" />
<line x1="396.98" y1="596.72" x2="402.42" y2="591.28" stroke="#222" stroke-width="0.8" />
<line x1="401.78" y1="593.28" x2="407.22" y2="598.72" stroke="#222" stroke-width="0.8" />
<line x1="401.78" y1="598.72" x2="407.22" y2="593.28" stroke="#222" stroke-width="0.8" />
<line x1="430.20" y1="586.00" x2="430.20" y2="586.60" stroke="#333" stroke-width="0.9" />
<line x1="430.20" y1="594.30" x2="430.20" y2="596.70" stroke="#333" stroke-width="0.9" />
<rect x="418.70" y="586.60" width="23.00" height="7.70" fill="#E0836F" stroke="#333" stroke-width="0.9" />
<line x1="418.70" y1="590.60" x2="441.70" y2="590.60" stroke="#333" stroke-width="1.8" />
<line x1="422.68" y1="565.78" x2="428.12" y2="571.22" stroke="#222" stroke-width="0.8" />
<line x1="422.68" y1="571.22" x2="428.12" y2="565.78" stroke="#222" stroke-width="0.8" />
<line x1="427.48" y1="583.28" x2="432.92" y2="588.72" stroke="#222" stroke-width="0.8" />
<line x1="427.48" y1="588.72" x2="432.92" y2="583.28" stroke="#222" stroke-width="0.8" />
<line x1="432.28" y1="587.28" x2="437.72" y2="592.72" stroke="#222" stroke-width="0.8" />
<line x1="432.28" y1="592.72" x2="437.72" y2="587.28" stroke="#222" stroke-width="0.8" />
<line x1="425.08" y1="591.28" x2="430.52" y2="596.72" stroke="#222" stroke-width="0.8" />
<line x1="425.08" y1="596.72" x2="430.52" y2="591.28" stroke="#222" stroke-width="0.8" />
<line x1="429.88" y1="593.98" x2="435.32" y2="599.42" stroke="#222" stroke-width="0.8" />
<line x1="429.88" y1="599.42" x2="435.32" y2="593.98" stroke="#222" stroke-width="0.8" />
<rect x="453.10" y="529.30" width="97.10" height="15.90" fill="#D9D9D9" stroke="#979797" stroke-width="0.8" />
<line x1="453.10" y1="545.00" x2="550.20" y2="545.00" stroke="#5E5E5E" stroke-width="1.3" />
<text x="501.65" y="540.60" font-size="10.2" fill="#1A1A1A" text-anchor="middle" >pOX38</text>
<rect x="453.10" y="545.20" width="97.10" height="72.10" fill="#fff" stroke="none" stroke-width="1" />
<line x1="453.10" y1="559.83" x2="550.20" y2="559.83" stroke="#F2F2F2" stroke-width="0.7" />
<line x1="453.10" y1="575.49" x2="550.20" y2="575.49" stroke="#F2F2F2" stroke-width="0.7" />
<line x1="453.10" y1="591.15" x2="550.20" y2="591.15" stroke="#F2F2F2" stroke-width="0.7" />
<line x1="453.10" y1="606.81" x2="550.20" y2="606.81" stroke="#F2F2F2" stroke-width="0.7" />
<line x1="453.10" y1="552.00" x2="550.20" y2="552.00" stroke="#EBEBEB" stroke-width="0.9" />
<line x1="453.10" y1="567.66" x2="550.20" y2="567.66" stroke="#EBEBEB" stroke-width="0.9" />
<line x1="453.10" y1="583.32" x2="550.20" y2="583.32" stroke="#EBEBEB" stroke-width="0.9" />
<line x1="453.10" y1="598.98" x2="550.20" y2="598.98" stroke="#EBEBEB" stroke-width="0.9" />
<line x1="453.10" y1="614.64" x2="550.20" y2="614.64" stroke="#EBEBEB" stroke-width="0.9" />
<line x1="471.10" y1="545.20" x2="471.10" y2="617.30" stroke="#EBEBEB" stroke-width="0.9" />
<line x1="501.60" y1="545.20" x2="501.60" y2="617.30" stroke="#EBEBEB" stroke-width="0.9" />
<line x1="532.10" y1="545.20" x2="532.10" y2="617.30" stroke="#EBEBEB" stroke-width="0.9" />
<rect x="453.50" y="545.20" width="96.30" height="72.10" fill="none" stroke="#DCDCDC" stroke-width="0.9" />
<line x1="471.10" y1="602.80" x2="471.10" y2="606.80" stroke="#333" stroke-width="0.9" />
<line x1="471.10" y1="614.20" x2="471.10" y2="614.20" stroke="#333" stroke-width="0.9" />
<rect x="459.60" y="606.80" width="23.00" height="7.40" fill="#E0836F" stroke="#333" stroke-width="0.9" />
<line x1="459.60" y1="612.70" x2="482.60" y2="612.70" stroke="#333" stroke-width="1.8" />
<polygon points="466.30,599.50 469.60,602.80 466.30,606.10 463.00,602.80" fill="none" stroke="#222" stroke-width="0.75"/>
<polygon points="471.10,602.60 474.40,605.90 471.10,609.20 467.80,605.90" fill="none" stroke="#222" stroke-width="0.75"/>
<polygon points="475.90,609.40 479.20,612.70 475.90,616.00 472.60,612.70" fill="none" stroke="#222" stroke-width="0.75"/>
<polygon points="468.70,610.20 472.00,613.50 468.70,616.80 465.40,613.50" fill="none" stroke="#222" stroke-width="0.75"/>
<line x1="501.60" y1="613.60" x2="501.60" y2="612.90" stroke="#333" stroke-width="0.9" />
<line x1="501.60" y1="614.30" x2="501.60" y2="613.60" stroke="#333" stroke-width="0.9" />
<line x1="490.10" y1="613.60" x2="513.10" y2="613.60" stroke="#2A2A2A" stroke-width="2.1" />
<polygon points="496.80,610.30 500.10,613.60 496.80,616.90 493.50,613.60" fill="none" stroke="#222" stroke-width="0.75"/>
<polygon points="501.60,610.30 504.90,613.60 501.60,616.90 498.30,613.60" fill="none" stroke="#222" stroke-width="0.75"/>
<polygon points="506.40,610.30 509.70,613.60 506.40,616.90 503.10,613.60" fill="none" stroke="#222" stroke-width="0.75"/>
<line x1="532.10" y1="613.60" x2="532.10" y2="612.90" stroke="#333" stroke-width="0.9" />
<line x1="532.10" y1="614.30" x2="532.10" y2="613.60" stroke="#333" stroke-width="0.9" />
<line x1="520.60" y1="613.60" x2="543.60" y2="613.60" stroke="#2A2A2A" stroke-width="2.1" />
<polygon points="527.30,601.70 530.60,605.00 527.30,608.30 524.00,605.00" fill="none" stroke="#222" stroke-width="0.75"/>
<polygon points="532.10,610.30 535.40,613.60 532.10,616.90 528.80,613.60" fill="none" stroke="#222" stroke-width="0.75"/>
<polygon points="536.90,610.30 540.20,613.60 536.90,616.90 533.60,613.60" fill="none" stroke="#222" stroke-width="0.75"/>
<polygon points="529.70,610.30 533.00,613.60 529.70,616.90 526.40,613.60" fill="none" stroke="#222" stroke-width="0.75"/>
<rect x="555.00" y="529.30" width="97.10" height="15.90" fill="#D9D9D9" stroke="#979797" stroke-width="0.8" />
<line x1="555.00" y1="545.00" x2="652.10" y2="545.00" stroke="#5E5E5E" stroke-width="1.3" />
<text x="603.55" y="540.60" font-size="10.2" fill="#1A1A1A" text-anchor="middle" >TP114</text>
<rect x="555.00" y="545.20" width="97.10" height="72.10" fill="#fff" stroke="none" stroke-width="1" />
<line x1="555.00" y1="559.83" x2="652.10" y2="559.83" stroke="#F2F2F2" stroke-width="0.7" />
<line x1="555.00" y1="575.49" x2="652.10" y2="575.49" stroke="#F2F2F2" stroke-width="0.7" />
<line x1="555.00" y1="591.15" x2="652.10" y2="591.15" stroke="#F2F2F2" stroke-width="0.7" />
<line x1="555.00" y1="606.81" x2="652.10" y2="606.81" stroke="#F2F2F2" stroke-width="0.7" />
<line x1="555.00" y1="552.00" x2="652.10" y2="552.00" stroke="#EBEBEB" stroke-width="0.9" />
<line x1="555.00" y1="567.66" x2="652.10" y2="567.66" stroke="#EBEBEB" stroke-width="0.9" />
<line x1="555.00" y1="583.32" x2="652.10" y2="583.32" stroke="#EBEBEB" stroke-width="0.9" />
<line x1="555.00" y1="598.98" x2="652.10" y2="598.98" stroke="#EBEBEB" stroke-width="0.9" />
<line x1="555.00" y1="614.64" x2="652.10" y2="614.64" stroke="#EBEBEB" stroke-width="0.9" />
<line x1="573.00" y1="545.20" x2="573.00" y2="617.30" stroke="#EBEBEB" stroke-width="0.9" />
<line x1="603.50" y1="545.20" x2="603.50" y2="617.30" stroke="#EBEBEB" stroke-width="0.9" />
<line x1="634.00" y1="545.20" x2="634.00" y2="617.30" stroke="#EBEBEB" stroke-width="0.9" />
<rect x="555.40" y="545.20" width="96.30" height="72.10" fill="none" stroke="#DCDCDC" stroke-width="0.9" />
<line x1="573.00" y1="613.60" x2="573.00" y2="612.90" stroke="#333" stroke-width="0.9" />
<line x1="573.00" y1="614.30" x2="573.00" y2="613.60" stroke="#333" stroke-width="0.9" />
<line x1="561.50" y1="613.60" x2="584.50" y2="613.60" stroke="#2A2A2A" stroke-width="2.1" />
<rect x="565.70" y="611.10" width="5.00" height="5.00" fill="none" stroke="#222" stroke-width="0.75" />
<rect x="570.50" y="611.10" width="5.00" height="5.00" fill="none" stroke="#222" stroke-width="0.75" />
<rect x="575.30" y="611.10" width="5.00" height="5.00" fill="none" stroke="#222" stroke-width="0.75" />
<line x1="603.50" y1="589.70" x2="603.50" y2="589.70" stroke="#333" stroke-width="0.9" />
<line x1="603.50" y1="595.20" x2="603.50" y2="602.20" stroke="#333" stroke-width="0.9" />
<rect x="592.00" y="589.70" width="23.00" height="5.50" fill="#E0836F" stroke="#333" stroke-width="0.9" />
<line x1="592.00" y1="591.20" x2="615.00" y2="591.20" stroke="#333" stroke-width="1.8" />
<rect x="596.20" y="568.20" width="5.00" height="5.00" fill="none" stroke="#222" stroke-width="0.75" />
<rect x="601.00" y="587.20" width="5.00" height="5.00" fill="none" stroke="#222" stroke-width="0.75" />
<rect x="605.80" y="592.70" width="5.00" height="5.00" fill="none" stroke="#222" stroke-width="0.75" />
<rect x="598.60" y="599.70" width="5.00" height="5.00" fill="none" stroke="#222" stroke-width="0.75" />
<line x1="634.00" y1="589.00" x2="634.00" y2="589.00" stroke="#333" stroke-width="0.9" />
<line x1="634.00" y1="595.20" x2="634.00" y2="595.20" stroke="#333" stroke-width="0.9" />
<rect x="622.50" y="589.00" width="23.00" height="6.20" fill="#E0836F" stroke="#333" stroke-width="0.9" />
<line x1="622.50" y1="594.30" x2="645.50" y2="594.30" stroke="#333" stroke-width="1.8" />
<rect x="626.70" y="577.40" width="5.00" height="5.00" fill="none" stroke="#222" stroke-width="0.75" />
<rect x="631.50" y="586.50" width="5.00" height="5.00" fill="none" stroke="#222" stroke-width="0.75" />
<rect x="636.30" y="592.70" width="5.00" height="5.00" fill="none" stroke="#222" stroke-width="0.75" />
<rect x="629.10" y="591.50" width="5.00" height="5.00" fill="none" stroke="#222" stroke-width="0.75" />
<rect x="45.50" y="625.70" width="97.10" height="71.80" fill="#fff" stroke="none" stroke-width="1" />
<line x1="45.50" y1="640.46" x2="142.60" y2="640.46" stroke="#F2F2F2" stroke-width="0.7" />
<line x1="45.50" y1="655.98" x2="142.60" y2="655.98" stroke="#F2F2F2" stroke-width="0.7" />
<line x1="45.50" y1="671.50" x2="142.60" y2="671.50" stroke="#F2F2F2" stroke-width="0.7" />
<line x1="45.50" y1="687.02" x2="142.60" y2="687.02" stroke="#F2F2F2" stroke-width="0.7" />
<line x1="45.50" y1="632.70" x2="142.60" y2="632.70" stroke="#EBEBEB" stroke-width="0.9" />
<line x1="45.50" y1="648.22" x2="142.60" y2="648.22" stroke="#EBEBEB" stroke-width="0.9" />
<line x1="45.50" y1="663.74" x2="142.60" y2="663.74" stroke="#EBEBEB" stroke-width="0.9" />
<line x1="45.50" y1="679.26" x2="142.60" y2="679.26" stroke="#EBEBEB" stroke-width="0.9" />
<line x1="45.50" y1="694.78" x2="142.60" y2="694.78" stroke="#EBEBEB" stroke-width="0.9" />
<line x1="63.50" y1="625.70" x2="63.50" y2="697.50" stroke="#EBEBEB" stroke-width="0.9" />
<line x1="94.00" y1="625.70" x2="94.00" y2="697.50" stroke="#EBEBEB" stroke-width="0.9" />
<line x1="124.50" y1="625.70" x2="124.50" y2="697.50" stroke="#EBEBEB" stroke-width="0.9" />
<rect x="45.90" y="625.70" width="96.30" height="71.80" fill="none" stroke="#DCDCDC" stroke-width="0.9" />
<line x1="63.50" y1="633.80" x2="63.50" y2="639.90" stroke="#333" stroke-width="0.9" />
<line x1="63.50" y1="653.10" x2="63.50" y2="659.20" stroke="#333" stroke-width="0.9" />
<rect x="52.00" y="639.90" width="23.00" height="13.20" fill="#77C577" stroke="#333" stroke-width="0.9" />
<line x1="52.00" y1="647.60" x2="75.00" y2="647.60" stroke="#333" stroke-width="1.8" />
<circle cx="58.70" cy="632.90" r="2.9" fill="none" stroke="#222" stroke-width="0.75"/>
<circle cx="63.50" cy="640.80" r="2.9" fill="none" stroke="#222" stroke-width="0.75"/>
<circle cx="68.30" cy="647.60" r="2.9" fill="none" stroke="#222" stroke-width="0.75"/>
<circle cx="61.10" cy="653.10" r="2.9" fill="none" stroke="#222" stroke-width="0.75"/>
<circle cx="65.90" cy="659.20" r="2.9" fill="none" stroke="#222" stroke-width="0.75"/>
<line x1="94.00" y1="633.80" x2="94.00" y2="639.30" stroke="#333" stroke-width="0.9" />
<line x1="94.00" y1="655.90" x2="94.00" y2="655.90" stroke="#333" stroke-width="0.9" />
<rect x="82.50" y="639.30" width="23.00" height="16.60" fill="#77C577" stroke="#333" stroke-width="0.9" />
<line x1="82.50" y1="647.00" x2="105.50" y2="647.00" stroke="#333" stroke-width="1.8" />
<circle cx="89.20" cy="633.00" r="2.9" fill="none" stroke="#222" stroke-width="0.75"/>
<circle cx="94.00" cy="636.00" r="2.9" fill="none" stroke="#222" stroke-width="0.75"/>
<circle cx="98.80" cy="647.00" r="2.9" fill="none" stroke="#222" stroke-width="0.75"/>
<circle cx="91.60" cy="655.00" r="2.9" fill="none" stroke="#222" stroke-width="0.75"/>
<circle cx="96.40" cy="659.00" r="2.9" fill="none" stroke="#222" stroke-width="0.75"/>
<line x1="124.50" y1="636.00" x2="124.50" y2="640.80" stroke="#333" stroke-width="0.9" />
<line x1="124.50" y1="646.70" x2="124.50" y2="649.10" stroke="#333" stroke-width="0.9" />
<rect x="113.00" y="640.80" width="23.00" height="5.90" fill="#77C577" stroke="#333" stroke-width="0.9" />
<line x1="113.00" y1="643.90" x2="136.00" y2="643.90" stroke="#333" stroke-width="1.8" />
<circle cx="119.70" cy="636.00" r="2.9" fill="none" stroke="#222" stroke-width="0.75"/>
<circle cx="124.50" cy="641.50" r="2.9" fill="none" stroke="#222" stroke-width="0.75"/>
<circle cx="129.30" cy="647.00" r="2.9" fill="none" stroke="#222" stroke-width="0.75"/>
<circle cx="122.10" cy="649.10" r="2.9" fill="none" stroke="#222" stroke-width="0.75"/>
<line x1="42.90" y1="632.70" x2="45.50" y2="632.70" stroke="#AAAAAA" stroke-width="0.8" />
<text x="40.20" y="637.30" font-size="13" fill="#1A1A1A" text-anchor="end" >0</text>
<line x1="42.90" y1="648.22" x2="45.50" y2="648.22" stroke="#AAAAAA" stroke-width="0.8" />
<text x="40.20" y="652.82" font-size="13" fill="#1A1A1A" text-anchor="end" >-2</text>
<line x1="42.90" y1="663.74" x2="45.50" y2="663.74" stroke="#AAAAAA" stroke-width="0.8" />
<text x="40.20" y="668.34" font-size="13" fill="#1A1A1A" text-anchor="end" >-4</text>
<line x1="42.90" y1="679.26" x2="45.50" y2="679.26" stroke="#AAAAAA" stroke-width="0.8" />
<text x="40.20" y="683.86" font-size="13" fill="#1A1A1A" text-anchor="end" >-6</text>
<line x1="42.90" y1="694.78" x2="45.50" y2="694.78" stroke="#AAAAAA" stroke-width="0.8" />
<text x="40.20" y="699.38" font-size="13" fill="#1A1A1A" text-anchor="end" >-8</text>
<rect x="147.40" y="625.70" width="97.10" height="71.80" fill="#fff" stroke="none" stroke-width="1" />
<line x1="147.40" y1="640.46" x2="244.50" y2="640.46" stroke="#F2F2F2" stroke-width="0.7" />
<line x1="147.40" y1="655.98" x2="244.50" y2="655.98" stroke="#F2F2F2" stroke-width="0.7" />
<line x1="147.40" y1="671.50" x2="244.50" y2="671.50" stroke="#F2F2F2" stroke-width="0.7" />
<line x1="147.40" y1="687.02" x2="244.50" y2="687.02" stroke="#F2F2F2" stroke-width="0.7" />
<line x1="147.40" y1="632.70" x2="244.50" y2="632.70" stroke="#EBEBEB" stroke-width="0.9" />
<line x1="147.40" y1="648.22" x2="244.50" y2="648.22" stroke="#EBEBEB" stroke-width="0.9" />
<line x1="147.40" y1="663.74" x2="244.50" y2="663.74" stroke="#EBEBEB" stroke-width="0.9" />
<line x1="147.40" y1="679.26" x2="244.50" y2="679.26" stroke="#EBEBEB" stroke-width="0.9" />
<line x1="147.40" y1="694.78" x2="244.50" y2="694.78" stroke="#EBEBEB" stroke-width="0.9" />
<line x1="165.40" y1="625.70" x2="165.40" y2="697.50" stroke="#EBEBEB" stroke-width="0.9" />
<line x1="195.90" y1="625.70" x2="195.90" y2="697.50" stroke="#EBEBEB" stroke-width="0.9" />
<line x1="226.40" y1="625.70" x2="226.40" y2="697.50" stroke="#EBEBEB" stroke-width="0.9" />
<rect x="147.80" y="625.70" width="96.30" height="71.80" fill="none" stroke="#DCDCDC" stroke-width="0.9" />
<line x1="165.40" y1="635.30" x2="165.40" y2="636.90" stroke="#333" stroke-width="0.9" />
<line x1="165.40" y1="653.70" x2="165.40" y2="653.70" stroke="#333" stroke-width="0.9" />
<rect x="153.90" y="636.90" width="23.00" height="16.80" fill="#77C577" stroke="#333" stroke-width="0.9" />
<line x1="153.90" y1="642.10" x2="176.90" y2="642.10" stroke="#333" stroke-width="1.8" />
<polygon points="160.60,631.39 157.10,637.69 164.10,637.69" fill="none" stroke="#222" stroke-width="0.75"/>
<polygon points="165.40,636.89 161.90,643.19 168.90,643.19" fill="none" stroke="#222" stroke-width="0.75"/>
<polygon points="170.20,649.19 166.70,655.49 173.70,655.49" fill="none" stroke="#222" stroke-width="0.75"/>
<polygon points="163.00,649.19 159.50,655.49 166.50,655.49" fill="none" stroke="#222" stroke-width="0.75"/>
<line x1="195.90" y1="666.00" x2="195.90" y2="666.90" stroke="#333" stroke-width="0.9" />
<line x1="195.90" y1="670.60" x2="195.90" y2="671.00" stroke="#333" stroke-width="0.9" />
<rect x="184.40" y="666.90" width="23.00" height="3.70" fill="#77C577" stroke="#333" stroke-width="0.9" />
<line x1="184.40" y1="669.70" x2="207.40" y2="669.70" stroke="#333" stroke-width="1.8" />
<polygon points="191.10,662.09 187.60,668.39 194.60,668.39" fill="none" stroke="#222" stroke-width="0.75"/>
<polygon points="195.90,665.09 192.40,671.39 199.40,671.39" fill="none" stroke="#222" stroke-width="0.75"/>
<polygon points="200.70,667.09 197.20,673.39 204.20,673.39" fill="none" stroke="#222" stroke-width="0.75"/>
<line x1="226.40" y1="674.30" x2="226.40" y2="675.80" stroke="#333" stroke-width="0.9" />
<line x1="226.40" y1="677.60" x2="226.40" y2="679.20" stroke="#333" stroke-width="0.9" />
<line x1="214.90" y1="676.70" x2="237.90" y2="676.70" stroke="#2A2A2A" stroke-width="2.1" />
<polygon points="221.60,670.39 218.10,676.69 225.10,676.69" fill="none" stroke="#222" stroke-width="0.75"/>
<polygon points="226.40,672.79 222.90,679.09 229.90,679.09" fill="none" stroke="#222" stroke-width="0.75"/>
<polygon points="231.20,675.29 227.70,681.59 234.70,681.59" fill="none" stroke="#222" stroke-width="0.75"/>
<polygon points="224.00,672.79 220.50,679.09 227.50,679.09" fill="none" stroke="#222" stroke-width="0.75"/>
<rect x="249.30" y="625.70" width="97.10" height="71.80" fill="#fff" stroke="none" stroke-width="1" />
<line x1="249.30" y1="640.46" x2="346.40" y2="640.46" stroke="#F2F2F2" stroke-width="0.7" />
<line x1="249.30" y1="655.98" x2="346.40" y2="655.98" stroke="#F2F2F2" stroke-width="0.7" />
<line x1="249.30" y1="671.50" x2="346.40" y2="671.50" stroke="#F2F2F2" stroke-width="0.7" />
<line x1="249.30" y1="687.02" x2="346.40" y2="687.02" stroke="#F2F2F2" stroke-width="0.7" />
<line x1="249.30" y1="632.70" x2="346.40" y2="632.70" stroke="#EBEBEB" stroke-width="0.9" />
<line x1="249.30" y1="648.22" x2="346.40" y2="648.22" stroke="#EBEBEB" stroke-width="0.9" />
<line x1="249.30" y1="663.74" x2="346.40" y2="663.74" stroke="#EBEBEB" stroke-width="0.9" />
<line x1="249.30" y1="679.26" x2="346.40" y2="679.26" stroke="#EBEBEB" stroke-width="0.9" />
<line x1="249.30" y1="694.78" x2="346.40" y2="694.78" stroke="#EBEBEB" stroke-width="0.9" />
<line x1="267.30" y1="625.70" x2="267.30" y2="697.50" stroke="#EBEBEB" stroke-width="0.9" />
<line x1="297.80" y1="625.70" x2="297.80" y2="697.50" stroke="#EBEBEB" stroke-width="0.9" />
<line x1="328.30" y1="625.70" x2="328.30" y2="697.50" stroke="#EBEBEB" stroke-width="0.9" />
<rect x="249.70" y="625.70" width="96.30" height="71.80" fill="none" stroke="#DCDCDC" stroke-width="0.9" />
<line x1="267.30" y1="628.60" x2="267.30" y2="631.60" stroke="#333" stroke-width="0.9" />
<line x1="267.30" y1="653.10" x2="267.30" y2="658.30" stroke="#333" stroke-width="0.9" />
<rect x="255.80" y="631.60" width="23.00" height="21.50" fill="#77C577" stroke="#333" stroke-width="0.9" />
<line x1="255.80" y1="645.40" x2="278.80" y2="645.40" stroke="#333" stroke-width="1.8" />
<line x1="259.10" y1="628.60" x2="265.90" y2="628.60" stroke="#222" stroke-width="0.9" />
<line x1="262.50" y1="625.20" x2="262.50" y2="632.00" stroke="#222" stroke-width="0.9" />
<line x1="263.90" y1="630.70" x2="270.70" y2="630.70" stroke="#222" stroke-width="0.9" />
<line x1="267.30" y1="627.30" x2="267.30" y2="634.10" stroke="#222" stroke-width="0.9" />
<line x1="268.70" y1="646.00" x2="275.50" y2="646.00" stroke="#222" stroke-width="0.9" />
<line x1="272.10" y1="642.60" x2="272.10" y2="649.40" stroke="#222" stroke-width="0.9" />
<line x1="261.50" y1="653.70" x2="268.30" y2="653.70" stroke="#222" stroke-width="0.9" />
<line x1="264.90" y1="650.30" x2="264.90" y2="657.10" stroke="#222" stroke-width="0.9" />
<line x1="266.30" y1="658.30" x2="273.10" y2="658.30" stroke="#222" stroke-width="0.9" />
<line x1="269.70" y1="654.90" x2="269.70" y2="661.70" stroke="#222" stroke-width="0.9" />
<line x1="297.80" y1="633.80" x2="297.80" y2="637.80" stroke="#333" stroke-width="0.9" />
<line x1="297.80" y1="660.50" x2="297.80" y2="660.50" stroke="#333" stroke-width="0.9" />
<rect x="286.30" y="637.80" width="23.00" height="22.70" fill="#77C577" stroke="#333" stroke-width="0.9" />
<line x1="286.30" y1="659.20" x2="309.30" y2="659.20" stroke="#333" stroke-width="1.8" />
<line x1="289.60" y1="637.80" x2="296.40" y2="637.80" stroke="#222" stroke-width="0.9" />
<line x1="293.00" y1="634.40" x2="293.00" y2="641.20" stroke="#222" stroke-width="0.9" />
<line x1="294.40" y1="659.90" x2="301.20" y2="659.90" stroke="#222" stroke-width="0.9" />
<line x1="297.80" y1="656.50" x2="297.80" y2="663.30" stroke="#222" stroke-width="0.9" />
<line x1="299.20" y1="666.00" x2="306.00" y2="666.00" stroke="#222" stroke-width="0.9" />
<line x1="302.60" y1="662.60" x2="302.60" y2="669.40" stroke="#222" stroke-width="0.9" />
<line x1="328.30" y1="635.90" x2="328.30" y2="635.90" stroke="#333" stroke-width="0.9" />
<line x1="328.30" y1="667.50" x2="328.30" y2="667.50" stroke="#333" stroke-width="0.9" />
<rect x="316.80" y="635.90" width="23.00" height="31.60" fill="#77C577" stroke="#333" stroke-width="0.9" />
<line x1="316.80" y1="666.90" x2="339.80" y2="666.90" stroke="#333" stroke-width="1.8" />
<line x1="320.10" y1="635.90" x2="326.90" y2="635.90" stroke="#222" stroke-width="0.9" />
<line x1="323.50" y1="632.50" x2="323.50" y2="639.30" stroke="#222" stroke-width="0.9" />
<line x1="324.90" y1="666.00" x2="331.70" y2="666.00" stroke="#222" stroke-width="0.9" />
<line x1="328.30" y1="662.60" x2="328.30" y2="669.40" stroke="#222" stroke-width="0.9" />
<line x1="329.70" y1="673.60" x2="336.50" y2="673.60" stroke="#222" stroke-width="0.9" />
<line x1="333.10" y1="670.20" x2="333.10" y2="677.00" stroke="#222" stroke-width="0.9" />
<rect x="351.20" y="625.70" width="97.10" height="71.80" fill="#fff" stroke="none" stroke-width="1" />
<line x1="351.20" y1="640.46" x2="448.30" y2="640.46" stroke="#F2F2F2" stroke-width="0.7" />
<line x1="351.20" y1="655.98" x2="448.30" y2="655.98" stroke="#F2F2F2" stroke-width="0.7" />
<line x1="351.20" y1="671.50" x2="448.30" y2="671.50" stroke="#F2F2F2" stroke-width="0.7" />
<line x1="351.20" y1="687.02" x2="448.30" y2="687.02" stroke="#F2F2F2" stroke-width="0.7" />
<line x1="351.20" y1="632.70" x2="448.30" y2="632.70" stroke="#EBEBEB" stroke-width="0.9" />
<line x1="351.20" y1="648.22" x2="448.30" y2="648.22" stroke="#EBEBEB" stroke-width="0.9" />
<line x1="351.20" y1="663.74" x2="448.30" y2="663.74" stroke="#EBEBEB" stroke-width="0.9" />
<line x1="351.20" y1="679.26" x2="448.30" y2="679.26" stroke="#EBEBEB" stroke-width="0.9" />
<line x1="351.20" y1="694.78" x2="448.30" y2="694.78" stroke="#EBEBEB" stroke-width="0.9" />
<line x1="369.20" y1="625.70" x2="369.20" y2="697.50" stroke="#EBEBEB" stroke-width="0.9" />
<line x1="399.70" y1="625.70" x2="399.70" y2="697.50" stroke="#EBEBEB" stroke-width="0.9" />
<line x1="430.20" y1="625.70" x2="430.20" y2="697.50" stroke="#EBEBEB" stroke-width="0.9" />
<rect x="351.60" y="625.70" width="96.30" height="71.80" fill="none" stroke="#DCDCDC" stroke-width="0.9" />
<line x1="369.20" y1="655.30" x2="369.20" y2="657.40" stroke="#333" stroke-width="0.9" />
<line x1="369.20" y1="661.40" x2="369.20" y2="662.90" stroke="#333" stroke-width="0.9" />
<rect x="357.70" y="657.40" width="23.00" height="4.00" fill="#77C577" stroke="#333" stroke-width="0.9" />
<line x1="357.70" y1="659.90" x2="380.70" y2="659.90" stroke="#333" stroke-width="1.8" />
<line x1="361.68" y1="652.58" x2="367.12" y2="658.02" stroke="#222" stroke-width="0.8" />
<line x1="361.68" y1="658.02" x2="367.12" y2="652.58" stroke="#222" stroke-width="0.8" />
<line x1="366.48" y1="654.68" x2="371.92" y2="660.12" stroke="#222" stroke-width="0.8" />
<line x1="366.48" y1="660.12" x2="371.92" y2="654.68" stroke="#222" stroke-width="0.8" />
<line x1="371.28" y1="660.18" x2="376.72" y2="665.62" stroke="#222" stroke-width="0.8" />
<line x1="371.28" y1="665.62" x2="376.72" y2="660.18" stroke="#222" stroke-width="0.8" />
<line x1="399.70" y1="660.00" x2="399.70" y2="660.80" stroke="#333" stroke-width="0.9" />
<line x1="399.70" y1="666.90" x2="399.70" y2="670.00" stroke="#333" stroke-width="0.9" />
<rect x="388.20" y="660.80" width="23.00" height="6.10" fill="#77C577" stroke="#333" stroke-width="0.9" />
<line x1="388.20" y1="666.00" x2="411.20" y2="666.00" stroke="#333" stroke-width="1.8" />
<line x1="392.18" y1="657.28" x2="397.62" y2="662.72" stroke="#222" stroke-width="0.8" />
<line x1="392.18" y1="662.72" x2="397.62" y2="657.28" stroke="#222" stroke-width="0.8" />
<line x1="396.98" y1="662.28" x2="402.42" y2="667.72" stroke="#222" stroke-width="0.8" />
<line x1="396.98" y1="667.72" x2="402.42" y2="662.28" stroke="#222" stroke-width="0.8" />
<line x1="401.78" y1="667.28" x2="407.22" y2="672.72" stroke="#222" stroke-width="0.8" />
<line x1="401.78" y1="672.72" x2="407.22" y2="667.28" stroke="#222" stroke-width="0.8" />
<line x1="430.20" y1="659.20" x2="430.20" y2="659.20" stroke="#333" stroke-width="0.9" />
<line x1="430.20" y1="662.90" x2="430.20" y2="662.90" stroke="#333" stroke-width="0.9" />
<rect x="418.70" y="659.20" width="23.00" height="3.70" fill="#77C577" stroke="#333" stroke-width="0.9" />
<line x1="418.70" y1="661.40" x2="441.70" y2="661.40" stroke="#333" stroke-width="1.8" />
<line x1="422.68" y1="644.28" x2="428.12" y2="649.72" stroke="#222" stroke-width="0.8" />
<line x1="422.68" y1="649.72" x2="428.12" y2="644.28" stroke="#222" stroke-width="0.8" />
<line x1="427.48" y1="656.48" x2="432.92" y2="661.92" stroke="#222" stroke-width="0.8" />
<line x1="427.48" y1="661.92" x2="432.92" y2="656.48" stroke="#222" stroke-width="0.8" />
<line x1="432.28" y1="658.68" x2="437.72" y2="664.12" stroke="#222" stroke-width="0.8" />
<line x1="432.28" y1="664.12" x2="437.72" y2="658.68" stroke="#222" stroke-width="0.8" />
<line x1="425.08" y1="662.28" x2="430.52" y2="667.72" stroke="#222" stroke-width="0.8" />
<line x1="425.08" y1="667.72" x2="430.52" y2="662.28" stroke="#222" stroke-width="0.8" />
<rect x="453.10" y="625.70" width="97.10" height="71.80" fill="#fff" stroke="none" stroke-width="1" />
<line x1="453.10" y1="640.46" x2="550.20" y2="640.46" stroke="#F2F2F2" stroke-width="0.7" />
<line x1="453.10" y1="655.98" x2="550.20" y2="655.98" stroke="#F2F2F2" stroke-width="0.7" />
<line x1="453.10" y1="671.50" x2="550.20" y2="671.50" stroke="#F2F2F2" stroke-width="0.7" />
<line x1="453.10" y1="687.02" x2="550.20" y2="687.02" stroke="#F2F2F2" stroke-width="0.7" />
<line x1="453.10" y1="632.70" x2="550.20" y2="632.70" stroke="#EBEBEB" stroke-width="0.9" />
<line x1="453.10" y1="648.22" x2="550.20" y2="648.22" stroke="#EBEBEB" stroke-width="0.9" />
<line x1="453.10" y1="663.74" x2="550.20" y2="663.74" stroke="#EBEBEB" stroke-width="0.9" />
<line x1="453.10" y1="679.26" x2="550.20" y2="679.26" stroke="#EBEBEB" stroke-width="0.9" />
<line x1="453.10" y1="694.78" x2="550.20" y2="694.78" stroke="#EBEBEB" stroke-width="0.9" />
<line x1="471.10" y1="625.70" x2="471.10" y2="697.50" stroke="#EBEBEB" stroke-width="0.9" />
<line x1="501.60" y1="625.70" x2="501.60" y2="697.50" stroke="#EBEBEB" stroke-width="0.9" />
<line x1="532.10" y1="625.70" x2="532.10" y2="697.50" stroke="#EBEBEB" stroke-width="0.9" />
<rect x="453.50" y="625.70" width="96.30" height="71.80" fill="none" stroke="#DCDCDC" stroke-width="0.9" />
<line x1="471.10" y1="647.60" x2="471.10" y2="649.10" stroke="#333" stroke-width="0.9" />
<line x1="471.10" y1="673.60" x2="471.10" y2="675.20" stroke="#333" stroke-width="0.9" />
<rect x="459.60" y="649.10" width="23.00" height="24.50" fill="#77C577" stroke="#333" stroke-width="0.9" />
<line x1="459.60" y1="665.00" x2="482.60" y2="665.00" stroke="#333" stroke-width="1.8" />
<polygon points="466.30,644.30 469.60,647.60 466.30,650.90 463.00,647.60" fill="none" stroke="#222" stroke-width="0.75"/>
<polygon points="471.10,646.70 474.40,650.00 471.10,653.30 467.80,650.00" fill="none" stroke="#222" stroke-width="0.75"/>
<polygon points="475.90,662.10 479.20,665.40 475.90,668.70 472.60,665.40" fill="none" stroke="#222" stroke-width="0.75"/>
<polygon points="468.70,670.30 472.00,673.60 468.70,676.90 465.40,673.60" fill="none" stroke="#222" stroke-width="0.75"/>
<polygon points="473.50,671.90 476.80,675.20 473.50,678.50 470.20,675.20" fill="none" stroke="#222" stroke-width="0.75"/>
<line x1="501.60" y1="647.60" x2="501.60" y2="650.70" stroke="#333" stroke-width="0.9" />
<line x1="501.60" y1="663.80" x2="501.60" y2="664.50" stroke="#333" stroke-width="0.9" />
<rect x="490.10" y="650.70" width="23.00" height="13.10" fill="#77C577" stroke="#333" stroke-width="0.9" />
<line x1="490.10" y1="658.90" x2="513.10" y2="658.90" stroke="#333" stroke-width="1.8" />
<polygon points="496.80,644.30 500.10,647.60 496.80,650.90 493.50,647.60" fill="none" stroke="#222" stroke-width="0.75"/>
<polygon points="501.60,647.40 504.90,650.70 501.60,654.00 498.30,650.70" fill="none" stroke="#222" stroke-width="0.75"/>
<polygon points="506.40,655.00 509.70,658.30 506.40,661.60 503.10,658.30" fill="none" stroke="#222" stroke-width="0.75"/>
<polygon points="499.20,661.20 502.50,664.50 499.20,667.80 495.90,664.50" fill="none" stroke="#222" stroke-width="0.75"/>
<line x1="532.10" y1="647.60" x2="532.10" y2="649.10" stroke="#333" stroke-width="0.9" />
<line x1="532.10" y1="665.40" x2="532.10" y2="665.40" stroke="#333" stroke-width="0.9" />
<rect x="520.60" y="649.10" width="23.00" height="16.30" fill="#77C577" stroke="#333" stroke-width="0.9" />
<line x1="520.60" y1="664.50" x2="543.60" y2="664.50" stroke="#333" stroke-width="1.8" />
<polygon points="527.30,644.30 530.60,647.60 527.30,650.90 524.00,647.60" fill="none" stroke="#222" stroke-width="0.75"/>
<polygon points="532.10,646.40 535.40,649.70 532.10,653.00 528.80,649.70" fill="none" stroke="#222" stroke-width="0.75"/>
<polygon points="536.90,661.20 540.20,664.50 536.90,667.80 533.60,664.50" fill="none" stroke="#222" stroke-width="0.75"/>
<polygon points="529.70,661.20 533.00,664.50 529.70,667.80 526.40,664.50" fill="none" stroke="#222" stroke-width="0.75"/>
<polygon points="534.50,661.20 537.80,664.50 534.50,667.80 531.20,664.50" fill="none" stroke="#222" stroke-width="0.75"/>
<rect x="555.00" y="625.70" width="97.10" height="71.80" fill="#fff" stroke="none" stroke-width="1" />
<line x1="555.00" y1="640.46" x2="652.10" y2="640.46" stroke="#F2F2F2" stroke-width="0.7" />
<line x1="555.00" y1="655.98" x2="652.10" y2="655.98" stroke="#F2F2F2" stroke-width="0.7" />
<line x1="555.00" y1="671.50" x2="652.10" y2="671.50" stroke="#F2F2F2" stroke-width="0.7" />
<line x1="555.00" y1="687.02" x2="652.10" y2="687.02" stroke="#F2F2F2" stroke-width="0.7" />
<line x1="555.00" y1="632.70" x2="652.10" y2="632.70" stroke="#EBEBEB" stroke-width="0.9" />
<line x1="555.00" y1="648.22" x2="652.10" y2="648.22" stroke="#EBEBEB" stroke-width="0.9" />
<line x1="555.00" y1="663.74" x2="652.10" y2="663.74" stroke="#EBEBEB" stroke-width="0.9" />
<line x1="555.00" y1="679.26" x2="652.10" y2="679.26" stroke="#EBEBEB" stroke-width="0.9" />
<line x1="555.00" y1="694.78" x2="652.10" y2="694.78" stroke="#EBEBEB" stroke-width="0.9" />
<line x1="573.00" y1="625.70" x2="573.00" y2="697.50" stroke="#EBEBEB" stroke-width="0.9" />
<line x1="603.50" y1="625.70" x2="603.50" y2="697.50" stroke="#EBEBEB" stroke-width="0.9" />
<line x1="634.00" y1="625.70" x2="634.00" y2="697.50" stroke="#EBEBEB" stroke-width="0.9" />
<rect x="555.40" y="625.70" width="96.30" height="71.80" fill="none" stroke="#DCDCDC" stroke-width="0.9" />
<line x1="573.00" y1="675.20" x2="573.00" y2="676.10" stroke="#333" stroke-width="0.9" />
<line x1="573.00" y1="684.40" x2="573.00" y2="693.60" stroke="#333" stroke-width="0.9" />
<rect x="561.50" y="676.10" width="23.00" height="8.30" fill="#77C577" stroke="#333" stroke-width="0.9" />
<line x1="561.50" y1="680.40" x2="584.50" y2="680.40" stroke="#333" stroke-width="1.8" />
<rect x="565.70" y="654.90" width="5.00" height="5.00" fill="none" stroke="#222" stroke-width="0.75" />
<rect x="570.50" y="672.70" width="5.00" height="5.00" fill="none" stroke="#222" stroke-width="0.75" />
<rect x="575.30" y="681.90" width="5.00" height="5.00" fill="none" stroke="#222" stroke-width="0.75" />
<rect x="568.10" y="691.10" width="5.00" height="5.00" fill="none" stroke="#222" stroke-width="0.75" />
<line x1="603.50" y1="667.50" x2="603.50" y2="669.00" stroke="#333" stroke-width="0.9" />
<line x1="603.50" y1="678.20" x2="603.50" y2="681.30" stroke="#333" stroke-width="0.9" />
<rect x="592.00" y="669.00" width="23.00" height="9.20" fill="#77C577" stroke="#333" stroke-width="0.9" />
<line x1="592.00" y1="673.60" x2="615.00" y2="673.60" stroke="#333" stroke-width="1.8" />
<rect x="596.20" y="665.00" width="5.00" height="5.00" fill="none" stroke="#222" stroke-width="0.75" />
<rect x="601.00" y="668.10" width="5.00" height="5.00" fill="none" stroke="#222" stroke-width="0.75" />
<rect x="605.80" y="675.10" width="5.00" height="5.00" fill="none" stroke="#222" stroke-width="0.75" />
<rect x="598.60" y="678.80" width="5.00" height="5.00" fill="none" stroke="#222" stroke-width="0.75" />
<line x1="634.00" y1="670.60" x2="634.00" y2="669.90" stroke="#333" stroke-width="0.9" />
<line x1="634.00" y1="671.30" x2="634.00" y2="670.60" stroke="#333" stroke-width="0.9" />
<line x1="622.50" y1="670.60" x2="645.50" y2="670.60" stroke="#2A2A2A" stroke-width="2.1" />
<rect x="626.70" y="662.00" width="5.00" height="5.00" fill="none" stroke="#222" stroke-width="0.75" />
<rect x="631.50" y="668.10" width="5.00" height="5.00" fill="none" stroke="#222" stroke-width="0.75" />
<rect x="636.30" y="672.10" width="5.00" height="5.00" fill="none" stroke="#222" stroke-width="0.75" />
<rect x="45.50" y="704.50" width="97.10" height="71.90" fill="#fff" stroke="none" stroke-width="1" />
<line x1="45.50" y1="719.56" x2="142.60" y2="719.56" stroke="#F2F2F2" stroke-width="0.7" />
<line x1="45.50" y1="735.28" x2="142.60" y2="735.28" stroke="#F2F2F2" stroke-width="0.7" />
<line x1="45.50" y1="751.00" x2="142.60" y2="751.00" stroke="#F2F2F2" stroke-width="0.7" />
<line x1="45.50" y1="766.72" x2="142.60" y2="766.72" stroke="#F2F2F2" stroke-width="0.7" />
<line x1="45.50" y1="711.70" x2="142.60" y2="711.70" stroke="#EBEBEB" stroke-width="0.9" />
<line x1="45.50" y1="727.42" x2="142.60" y2="727.42" stroke="#EBEBEB" stroke-width="0.9" />
<line x1="45.50" y1="743.14" x2="142.60" y2="743.14" stroke="#EBEBEB" stroke-width="0.9" />
<line x1="45.50" y1="758.86" x2="142.60" y2="758.86" stroke="#EBEBEB" stroke-width="0.9" />
<line x1="45.50" y1="774.58" x2="142.60" y2="774.58" stroke="#EBEBEB" stroke-width="0.9" />
<line x1="63.50" y1="704.50" x2="63.50" y2="776.40" stroke="#EBEBEB" stroke-width="0.9" />
<line x1="94.00" y1="704.50" x2="94.00" y2="776.40" stroke="#EBEBEB" stroke-width="0.9" />
<line x1="124.50" y1="704.50" x2="124.50" y2="776.40" stroke="#EBEBEB" stroke-width="0.9" />
<rect x="45.90" y="704.50" width="96.30" height="71.90" fill="none" stroke="#DCDCDC" stroke-width="0.9" />
<line x1="63.50" y1="723.90" x2="63.50" y2="726.10" stroke="#333" stroke-width="0.9" />
<line x1="63.50" y1="730.70" x2="63.50" y2="732.20" stroke="#333" stroke-width="0.9" />
<rect x="52.00" y="726.10" width="23.00" height="4.60" fill="#7096D8" stroke="#333" stroke-width="0.9" />
<line x1="52.00" y1="728.50" x2="75.00" y2="728.50" stroke="#333" stroke-width="1.8" />
<circle cx="58.70" cy="723.90" r="2.9" fill="none" stroke="#222" stroke-width="0.75"/>
<circle cx="63.50" cy="727.00" r="2.9" fill="none" stroke="#222" stroke-width="0.75"/>
<circle cx="68.30" cy="729.10" r="2.9" fill="none" stroke="#222" stroke-width="0.75"/>
<circle cx="61.10" cy="732.20" r="2.9" fill="none" stroke="#222" stroke-width="0.75"/>
<line x1="94.00" y1="710.70" x2="94.00" y2="712.30" stroke="#333" stroke-width="0.9" />
<line x1="94.00" y1="726.10" x2="94.00" y2="726.10" stroke="#333" stroke-width="0.9" />
<rect x="82.50" y="712.30" width="23.00" height="13.80" fill="#7096D8" stroke="#333" stroke-width="0.9" />
<line x1="82.50" y1="719.00" x2="105.50" y2="719.00" stroke="#333" stroke-width="1.8" />
<circle cx="89.20" cy="710.70" r="2.9" fill="none" stroke="#222" stroke-width="0.75"/>
<circle cx="94.00" cy="712.90" r="2.9" fill="none" stroke="#222" stroke-width="0.75"/>
<circle cx="98.80" cy="724.50" r="2.9" fill="none" stroke="#222" stroke-width="0.75"/>
<circle cx="91.60" cy="724.50" r="2.9" fill="none" stroke="#222" stroke-width="0.75"/>
<line x1="124.50" y1="710.70" x2="124.50" y2="715.30" stroke="#333" stroke-width="0.9" />
<line x1="124.50" y1="721.50" x2="124.50" y2="723.00" stroke="#333" stroke-width="0.9" />
<rect x="113.00" y="715.30" width="23.00" height="6.20" fill="#7096D8" stroke="#333" stroke-width="0.9" />
<line x1="113.00" y1="719.00" x2="136.00" y2="719.00" stroke="#333" stroke-width="1.8" />
<circle cx="119.70" cy="710.70" r="2.9" fill="none" stroke="#222" stroke-width="0.75"/>
<circle cx="124.50" cy="717.80" r="2.9" fill="none" stroke="#222" stroke-width="0.75"/>
<circle cx="129.30" cy="721.50" r="2.9" fill="none" stroke="#222" stroke-width="0.75"/>
<circle cx="122.10" cy="723.00" r="2.9" fill="none" stroke="#222" stroke-width="0.75"/>
<line x1="42.90" y1="711.70" x2="45.50" y2="711.70" stroke="#AAAAAA" stroke-width="0.8" />
<text x="40.20" y="716.30" font-size="13" fill="#1A1A1A" text-anchor="end" >0</text>
<line x1="42.90" y1="727.42" x2="45.50" y2="727.42" stroke="#AAAAAA" stroke-width="0.8" />
<text x="40.20" y="732.02" font-size="13" fill="#1A1A1A" text-anchor="end" >-2</text>
<line x1="42.90" y1="743.14" x2="45.50" y2="743.14" stroke="#AAAAAA" stroke-width="0.8" />
<text x="40.20" y="747.74" font-size="13" fill="#1A1A1A" text-anchor="end" >-4</text>
<line x1="42.90" y1="758.86" x2="45.50" y2="758.86" stroke="#AAAAAA" stroke-width="0.8" />
<text x="40.20" y="763.46" font-size="13" fill="#1A1A1A" text-anchor="end" >-6</text>
<line x1="42.90" y1="774.58" x2="45.50" y2="774.58" stroke="#AAAAAA" stroke-width="0.8" />
<text x="40.20" y="779.18" font-size="13" fill="#1A1A1A" text-anchor="end" >-8</text>
<line x1="63.50" y1="776.40" x2="63.50" y2="778.90" stroke="#AAAAAA" stroke-width="0.8" />
<text x="63.50" y="791.60" font-size="12.8" fill="#1A1A1A" text-anchor="middle" >D1</text>
<line x1="94.00" y1="776.40" x2="94.00" y2="778.90" stroke="#AAAAAA" stroke-width="0.8" />
<text x="94.00" y="791.60" font-size="12.8" fill="#1A1A1A" text-anchor="middle" >D2</text>
<line x1="124.50" y1="776.40" x2="124.50" y2="778.90" stroke="#AAAAAA" stroke-width="0.8" />
<text x="124.50" y="791.60" font-size="12.8" fill="#1A1A1A" text-anchor="middle" >D3</text>
<rect x="147.40" y="704.50" width="97.10" height="71.90" fill="#fff" stroke="none" stroke-width="1" />
<line x1="147.40" y1="719.56" x2="244.50" y2="719.56" stroke="#F2F2F2" stroke-width="0.7" />
<line x1="147.40" y1="735.28" x2="244.50" y2="735.28" stroke="#F2F2F2" stroke-width="0.7" />
<line x1="147.40" y1="751.00" x2="244.50" y2="751.00" stroke="#F2F2F2" stroke-width="0.7" />
<line x1="147.40" y1="766.72" x2="244.50" y2="766.72" stroke="#F2F2F2" stroke-width="0.7" />
<line x1="147.40" y1="711.70" x2="244.50" y2="711.70" stroke="#EBEBEB" stroke-width="0.9" />
<line x1="147.40" y1="727.42" x2="244.50" y2="727.42" stroke="#EBEBEB" stroke-width="0.9" />
<line x1="147.40" y1="743.14" x2="244.50" y2="743.14" stroke="#EBEBEB" stroke-width="0.9" />
<line x1="147.40" y1="758.86" x2="244.50" y2="758.86" stroke="#EBEBEB" stroke-width="0.9" />
<line x1="147.40" y1="774.58" x2="244.50" y2="774.58" stroke="#EBEBEB" stroke-width="0.9" />
<line x1="165.40" y1="704.50" x2="165.40" y2="776.40" stroke="#EBEBEB" stroke-width="0.9" />
<line x1="195.90" y1="704.50" x2="195.90" y2="776.40" stroke="#EBEBEB" stroke-width="0.9" />
<line x1="226.40" y1="704.50" x2="226.40" y2="776.40" stroke="#EBEBEB" stroke-width="0.9" />
<rect x="147.80" y="704.50" width="96.30" height="71.90" fill="none" stroke="#DCDCDC" stroke-width="0.9" />
<line x1="165.40" y1="773.60" x2="165.40" y2="772.90" stroke="#333" stroke-width="0.9" />
<line x1="165.40" y1="774.30" x2="165.40" y2="773.60" stroke="#333" stroke-width="0.9" />
<line x1="153.90" y1="773.60" x2="176.90" y2="773.60" stroke="#2A2A2A" stroke-width="2.1" />
<polygon points="160.60,769.69 157.10,775.99 164.10,775.99" fill="none" stroke="#222" stroke-width="0.75"/>
<polygon points="165.40,769.69 161.90,775.99 168.90,775.99" fill="none" stroke="#222" stroke-width="0.75"/>
<polygon points="170.20,769.69 166.70,775.99 173.70,775.99" fill="none" stroke="#222" stroke-width="0.75"/>
<line x1="195.90" y1="773.60" x2="195.90" y2="772.90" stroke="#333" stroke-width="0.9" />
<line x1="195.90" y1="774.30" x2="195.90" y2="773.60" stroke="#333" stroke-width="0.9" />
<line x1="184.40" y1="773.60" x2="207.40" y2="773.60" stroke="#2A2A2A" stroke-width="2.1" />
<polygon points="191.10,758.29 187.60,764.59 194.60,764.59" fill="none" stroke="#222" stroke-width="0.75"/>
<polygon points="195.90,769.69 192.40,775.99 199.40,775.99" fill="none" stroke="#222" stroke-width="0.75"/>
<polygon points="200.70,769.69 197.20,775.99 204.20,775.99" fill="none" stroke="#222" stroke-width="0.75"/>
<line x1="226.40" y1="773.60" x2="226.40" y2="772.90" stroke="#333" stroke-width="0.9" />
<line x1="226.40" y1="774.30" x2="226.40" y2="773.60" stroke="#333" stroke-width="0.9" />
<line x1="214.90" y1="773.60" x2="237.90" y2="773.60" stroke="#2A2A2A" stroke-width="2.1" />
<polygon points="221.60,758.29 218.10,764.59 225.10,764.59" fill="none" stroke="#222" stroke-width="0.75"/>
<polygon points="226.40,769.69 222.90,775.99 229.90,775.99" fill="none" stroke="#222" stroke-width="0.75"/>
<polygon points="231.20,769.69 227.70,775.99 234.70,775.99" fill="none" stroke="#222" stroke-width="0.75"/>
<line x1="165.40" y1="776.40" x2="165.40" y2="778.90" stroke="#AAAAAA" stroke-width="0.8" />
<text x="165.40" y="791.60" font-size="12.8" fill="#1A1A1A" text-anchor="middle" >D1</text>
<line x1="195.90" y1="776.40" x2="195.90" y2="778.90" stroke="#AAAAAA" stroke-width="0.8" />
<text x="195.90" y="791.60" font-size="12.8" fill="#1A1A1A" text-anchor="middle" >D2</text>
<line x1="226.40" y1="776.40" x2="226.40" y2="778.90" stroke="#AAAAAA" stroke-width="0.8" />
<text x="226.40" y="791.60" font-size="12.8" fill="#1A1A1A" text-anchor="middle" >D3</text>
<rect x="249.30" y="704.50" width="97.10" height="71.90" fill="#fff" stroke="none" stroke-width="1" />
<line x1="249.30" y1="719.56" x2="346.40" y2="719.56" stroke="#F2F2F2" stroke-width="0.7" />
<line x1="249.30" y1="735.28" x2="346.40" y2="735.28" stroke="#F2F2F2" stroke-width="0.7" />
<line x1="249.30" y1="751.00" x2="346.40" y2="751.00" stroke="#F2F2F2" stroke-width="0.7" />
<line x1="249.30" y1="766.72" x2="346.40" y2="766.72" stroke="#F2F2F2" stroke-width="0.7" />
<line x1="249.30" y1="711.70" x2="346.40" y2="711.70" stroke="#EBEBEB" stroke-width="0.9" />
<line x1="249.30" y1="727.42" x2="346.40" y2="727.42" stroke="#EBEBEB" stroke-width="0.9" />
<line x1="249.30" y1="743.14" x2="346.40" y2="743.14" stroke="#EBEBEB" stroke-width="0.9" />
<line x1="249.30" y1="758.86" x2="346.40" y2="758.86" stroke="#EBEBEB" stroke-width="0.9" />
<line x1="249.30" y1="774.58" x2="346.40" y2="774.58" stroke="#EBEBEB" stroke-width="0.9" />
<line x1="267.30" y1="704.50" x2="267.30" y2="776.40" stroke="#EBEBEB" stroke-width="0.9" />
<line x1="297.80" y1="704.50" x2="297.80" y2="776.40" stroke="#EBEBEB" stroke-width="0.9" />
<line x1="328.30" y1="704.50" x2="328.30" y2="776.40" stroke="#EBEBEB" stroke-width="0.9" />
<rect x="249.70" y="704.50" width="96.30" height="71.90" fill="none" stroke="#DCDCDC" stroke-width="0.9" />
<line x1="267.30" y1="730.70" x2="267.30" y2="733.70" stroke="#333" stroke-width="0.9" />
<line x1="267.30" y1="774.20" x2="267.30" y2="774.20" stroke="#333" stroke-width="0.9" />
<rect x="255.80" y="733.70" width="23.00" height="40.50" fill="#7096D8" stroke="#333" stroke-width="0.9" />
<line x1="255.80" y1="774.20" x2="278.80" y2="774.20" stroke="#333" stroke-width="1.8" />
<line x1="259.10" y1="730.70" x2="265.90" y2="730.70" stroke="#222" stroke-width="0.9" />
<line x1="262.50" y1="727.30" x2="262.50" y2="734.10" stroke="#222" stroke-width="0.9" />
<line x1="263.90" y1="733.10" x2="270.70" y2="733.10" stroke="#222" stroke-width="0.9" />
<line x1="267.30" y1="729.70" x2="267.30" y2="736.50" stroke="#222" stroke-width="0.9" />
<line x1="268.70" y1="774.00" x2="275.50" y2="774.00" stroke="#222" stroke-width="0.9" />
<line x1="272.10" y1="770.60" x2="272.10" y2="777.40" stroke="#222" stroke-width="0.9" />
<line x1="261.50" y1="774.00" x2="268.30" y2="774.00" stroke="#222" stroke-width="0.9" />
<line x1="264.90" y1="770.60" x2="264.90" y2="777.40" stroke="#222" stroke-width="0.9" />
<line x1="297.80" y1="751.50" x2="297.80" y2="753.00" stroke="#333" stroke-width="0.9" />
<line x1="297.80" y1="756.10" x2="297.80" y2="756.70" stroke="#333" stroke-width="0.9" />
<rect x="286.30" y="753.00" width="23.00" height="3.10" fill="#7096D8" stroke="#333" stroke-width="0.9" />
<line x1="286.30" y1="754.50" x2="309.30" y2="754.50" stroke="#333" stroke-width="1.8" />
<line x1="289.60" y1="751.50" x2="296.40" y2="751.50" stroke="#222" stroke-width="0.9" />
<line x1="293.00" y1="748.10" x2="293.00" y2="754.90" stroke="#222" stroke-width="0.9" />
<line x1="294.40" y1="754.60" x2="301.20" y2="754.60" stroke="#222" stroke-width="0.9" />
<line x1="297.80" y1="751.20" x2="297.80" y2="758.00" stroke="#222" stroke-width="0.9" />
<line x1="299.20" y1="756.70" x2="306.00" y2="756.70" stroke="#222" stroke-width="0.9" />
<line x1="302.60" y1="753.30" x2="302.60" y2="760.10" stroke="#222" stroke-width="0.9" />
<line x1="328.30" y1="750.60" x2="328.30" y2="750.60" stroke="#333" stroke-width="0.9" />
<line x1="328.30" y1="755.20" x2="328.30" y2="758.20" stroke="#333" stroke-width="0.9" />
<rect x="316.80" y="750.60" width="23.00" height="4.60" fill="#7096D8" stroke="#333" stroke-width="0.9" />
<line x1="316.80" y1="752.70" x2="339.80" y2="752.70" stroke="#333" stroke-width="1.8" />
<line x1="320.10" y1="750.60" x2="326.90" y2="750.60" stroke="#222" stroke-width="0.9" />
<line x1="323.50" y1="747.20" x2="323.50" y2="754.00" stroke="#222" stroke-width="0.9" />
<line x1="324.90" y1="752.70" x2="331.70" y2="752.70" stroke="#222" stroke-width="0.9" />
<line x1="328.30" y1="749.30" x2="328.30" y2="756.10" stroke="#222" stroke-width="0.9" />
<line x1="329.70" y1="758.20" x2="336.50" y2="758.20" stroke="#222" stroke-width="0.9" />
<line x1="333.10" y1="754.80" x2="333.10" y2="761.60" stroke="#222" stroke-width="0.9" />
<line x1="267.30" y1="776.40" x2="267.30" y2="778.90" stroke="#AAAAAA" stroke-width="0.8" />
<text x="267.30" y="791.60" font-size="12.8" fill="#1A1A1A" text-anchor="middle" >D1</text>
<line x1="297.80" y1="776.40" x2="297.80" y2="778.90" stroke="#AAAAAA" stroke-width="0.8" />
<text x="297.80" y="791.60" font-size="12.8" fill="#1A1A1A" text-anchor="middle" >D2</text>
<line x1="328.30" y1="776.40" x2="328.30" y2="778.90" stroke="#AAAAAA" stroke-width="0.8" />
<text x="328.30" y="791.60" font-size="12.8" fill="#1A1A1A" text-anchor="middle" >D3</text>
<rect x="351.20" y="704.50" width="97.10" height="71.90" fill="#fff" stroke="none" stroke-width="1" />
<line x1="351.20" y1="719.56" x2="448.30" y2="719.56" stroke="#F2F2F2" stroke-width="0.7" />
<line x1="351.20" y1="735.28" x2="448.30" y2="735.28" stroke="#F2F2F2" stroke-width="0.7" />
<line x1="351.20" y1="751.00" x2="448.30" y2="751.00" stroke="#F2F2F2" stroke-width="0.7" />
<line x1="351.20" y1="766.72" x2="448.30" y2="766.72" stroke="#F2F2F2" stroke-width="0.7" />
<line x1="351.20" y1="711.70" x2="448.30" y2="711.70" stroke="#EBEBEB" stroke-width="0.9" />
<line x1="351.20" y1="727.42" x2="448.30" y2="727.42" stroke="#EBEBEB" stroke-width="0.9" />
<line x1="351.20" y1="743.14" x2="448.30" y2="743.14" stroke="#EBEBEB" stroke-width="0.9" />
<line x1="351.20" y1="758.86" x2="448.30" y2="758.86" stroke="#EBEBEB" stroke-width="0.9" />
<line x1="351.20" y1="774.58" x2="448.30" y2="774.58" stroke="#EBEBEB" stroke-width="0.9" />
<line x1="369.20" y1="704.50" x2="369.20" y2="776.40" stroke="#EBEBEB" stroke-width="0.9" />
<line x1="399.70" y1="704.50" x2="399.70" y2="776.40" stroke="#EBEBEB" stroke-width="0.9" />
<line x1="430.20" y1="704.50" x2="430.20" y2="776.40" stroke="#EBEBEB" stroke-width="0.9" />
<rect x="351.60" y="704.50" width="96.30" height="71.90" fill="none" stroke="#DCDCDC" stroke-width="0.9" />
<line x1="369.20" y1="719.00" x2="369.20" y2="737.40" stroke="#333" stroke-width="0.9" />
<line x1="369.20" y1="774.20" x2="369.20" y2="774.20" stroke="#333" stroke-width="0.9" />
<rect x="357.70" y="737.40" width="23.00" height="36.80" fill="#7096D8" stroke="#333" stroke-width="0.9" />
<line x1="357.70" y1="774.20" x2="380.70" y2="774.20" stroke="#333" stroke-width="1.8" />
<line x1="361.68" y1="716.28" x2="367.12" y2="721.72" stroke="#222" stroke-width="0.8" />
<line x1="361.68" y1="721.72" x2="367.12" y2="716.28" stroke="#222" stroke-width="0.8" />
<line x1="366.48" y1="734.68" x2="371.92" y2="740.12" stroke="#222" stroke-width="0.8" />
<line x1="366.48" y1="740.12" x2="371.92" y2="734.68" stroke="#222" stroke-width="0.8" />
<line x1="371.28" y1="771.28" x2="376.72" y2="776.72" stroke="#222" stroke-width="0.8" />
<line x1="371.28" y1="776.72" x2="376.72" y2="771.28" stroke="#222" stroke-width="0.8" />
<line x1="364.08" y1="771.28" x2="369.52" y2="776.72" stroke="#222" stroke-width="0.8" />
<line x1="364.08" y1="776.72" x2="369.52" y2="771.28" stroke="#222" stroke-width="0.8" />
<line x1="399.70" y1="741.40" x2="399.70" y2="751.50" stroke="#333" stroke-width="0.9" />
<line x1="399.70" y1="773.60" x2="399.70" y2="773.60" stroke="#333" stroke-width="0.9" />
<rect x="388.20" y="751.50" width="23.00" height="22.10" fill="#7096D8" stroke="#333" stroke-width="0.9" />
<line x1="388.20" y1="764.40" x2="411.20" y2="764.40" stroke="#333" stroke-width="1.8" />
<line x1="392.18" y1="738.08" x2="397.62" y2="743.52" stroke="#222" stroke-width="0.8" />
<line x1="392.18" y1="743.52" x2="397.62" y2="738.08" stroke="#222" stroke-width="0.8" />
<line x1="396.98" y1="748.78" x2="402.42" y2="754.22" stroke="#222" stroke-width="0.8" />
<line x1="396.98" y1="754.22" x2="402.42" y2="748.78" stroke="#222" stroke-width="0.8" />
<line x1="401.78" y1="761.68" x2="407.22" y2="767.12" stroke="#222" stroke-width="0.8" />
<line x1="401.78" y1="767.12" x2="407.22" y2="761.68" stroke="#222" stroke-width="0.8" />
<line x1="394.58" y1="770.88" x2="400.02" y2="776.32" stroke="#222" stroke-width="0.8" />
<line x1="394.58" y1="776.32" x2="400.02" y2="770.88" stroke="#222" stroke-width="0.8" />
<line x1="430.20" y1="754.60" x2="430.20" y2="763.80" stroke="#333" stroke-width="0.9" />
<line x1="430.20" y1="774.20" x2="430.20" y2="774.20" stroke="#333" stroke-width="0.9" />
<rect x="418.70" y="763.80" width="23.00" height="10.40" fill="#7096D8" stroke="#333" stroke-width="0.9" />
<line x1="418.70" y1="774.20" x2="441.70" y2="774.20" stroke="#333" stroke-width="1.8" />
<line x1="422.68" y1="751.88" x2="428.12" y2="757.32" stroke="#222" stroke-width="0.8" />
<line x1="422.68" y1="757.32" x2="428.12" y2="751.88" stroke="#222" stroke-width="0.8" />
<line x1="427.48" y1="771.28" x2="432.92" y2="776.72" stroke="#222" stroke-width="0.8" />
<line x1="427.48" y1="776.72" x2="432.92" y2="771.28" stroke="#222" stroke-width="0.8" />
<line x1="432.28" y1="771.28" x2="437.72" y2="776.72" stroke="#222" stroke-width="0.8" />
<line x1="432.28" y1="776.72" x2="437.72" y2="771.28" stroke="#222" stroke-width="0.8" />
<line x1="369.20" y1="776.40" x2="369.20" y2="778.90" stroke="#AAAAAA" stroke-width="0.8" />
<text x="369.20" y="791.60" font-size="12.8" fill="#1A1A1A" text-anchor="middle" >D1</text>
<line x1="399.70" y1="776.40" x2="399.70" y2="778.90" stroke="#AAAAAA" stroke-width="0.8" />
<text x="399.70" y="791.60" font-size="12.8" fill="#1A1A1A" text-anchor="middle" >D2</text>
<line x1="430.20" y1="776.40" x2="430.20" y2="778.90" stroke="#AAAAAA" stroke-width="0.8" />
<text x="430.20" y="791.60" font-size="12.8" fill="#1A1A1A" text-anchor="middle" >D3</text>
<rect x="453.10" y="704.50" width="97.10" height="71.90" fill="#fff" stroke="none" stroke-width="1" />
<line x1="453.10" y1="719.56" x2="550.20" y2="719.56" stroke="#F2F2F2" stroke-width="0.7" />
<line x1="453.10" y1="735.28" x2="550.20" y2="735.28" stroke="#F2F2F2" stroke-width="0.7" />
<line x1="453.10" y1="751.00" x2="550.20" y2="751.00" stroke="#F2F2F2" stroke-width="0.7" />
<line x1="453.10" y1="766.72" x2="550.20" y2="766.72" stroke="#F2F2F2" stroke-width="0.7" />
<line x1="453.10" y1="711.70" x2="550.20" y2="711.70" stroke="#EBEBEB" stroke-width="0.9" />
<line x1="453.10" y1="727.42" x2="550.20" y2="727.42" stroke="#EBEBEB" stroke-width="0.9" />
<line x1="453.10" y1="743.14" x2="550.20" y2="743.14" stroke="#EBEBEB" stroke-width="0.9" />
<line x1="453.10" y1="758.86" x2="550.20" y2="758.86" stroke="#EBEBEB" stroke-width="0.9" />
<line x1="453.10" y1="774.58" x2="550.20" y2="774.58" stroke="#EBEBEB" stroke-width="0.9" />
<line x1="471.10" y1="704.50" x2="471.10" y2="776.40" stroke="#EBEBEB" stroke-width="0.9" />
<line x1="501.60" y1="704.50" x2="501.60" y2="776.40" stroke="#EBEBEB" stroke-width="0.9" />
<line x1="532.10" y1="704.50" x2="532.10" y2="776.40" stroke="#EBEBEB" stroke-width="0.9" />
<rect x="453.50" y="704.50" width="96.30" height="71.90" fill="none" stroke="#DCDCDC" stroke-width="0.9" />
<line x1="471.10" y1="727.60" x2="471.10" y2="730.00" stroke="#333" stroke-width="0.9" />
<line x1="471.10" y1="739.20" x2="471.10" y2="745.40" stroke="#333" stroke-width="0.9" />
<rect x="459.60" y="730.00" width="23.00" height="9.20" fill="#7096D8" stroke="#333" stroke-width="0.9" />
<line x1="459.60" y1="730.70" x2="482.60" y2="730.70" stroke="#333" stroke-width="1.8" />
<polygon points="466.30,724.30 469.60,727.60 466.30,730.90 463.00,727.60" fill="none" stroke="#222" stroke-width="0.75"/>
<polygon points="471.10,726.40 474.40,729.70 471.10,733.00 467.80,729.70" fill="none" stroke="#222" stroke-width="0.75"/>
<polygon points="475.90,735.00 479.20,738.30 475.90,741.60 472.60,738.30" fill="none" stroke="#222" stroke-width="0.75"/>
<polygon points="468.70,742.10 472.00,745.40 468.70,748.70 465.40,745.40" fill="none" stroke="#222" stroke-width="0.75"/>
<line x1="501.60" y1="722.10" x2="501.60" y2="722.60" stroke="#333" stroke-width="0.9" />
<line x1="501.60" y1="725.20" x2="501.60" y2="725.20" stroke="#333" stroke-width="0.9" />
<rect x="490.10" y="722.60" width="23.00" height="2.60" fill="#7096D8" stroke="#333" stroke-width="0.9" />
<line x1="490.10" y1="723.90" x2="513.10" y2="723.90" stroke="#333" stroke-width="1.8" />
<polygon points="496.80,718.80 500.10,722.10 496.80,725.40 493.50,722.10" fill="none" stroke="#222" stroke-width="0.75"/>
<polygon points="501.60,721.20 504.90,724.50 501.60,727.80 498.30,724.50" fill="none" stroke="#222" stroke-width="0.75"/>
<polygon points="506.40,720.20 509.70,723.50 506.40,726.80 503.10,723.50" fill="none" stroke="#222" stroke-width="0.75"/>
<line x1="532.10" y1="728.50" x2="532.10" y2="727.80" stroke="#333" stroke-width="0.9" />
<line x1="532.10" y1="729.20" x2="532.10" y2="728.50" stroke="#333" stroke-width="0.9" />
<line x1="520.60" y1="728.50" x2="543.60" y2="728.50" stroke="#2A2A2A" stroke-width="2.1" />
<polygon points="527.30,725.20 530.60,728.50 527.30,731.80 524.00,728.50" fill="none" stroke="#222" stroke-width="0.75"/>
<polygon points="532.10,725.20 535.40,728.50 532.10,731.80 528.80,728.50" fill="none" stroke="#222" stroke-width="0.75"/>
<polygon points="536.90,725.20 540.20,728.50 536.90,731.80 533.60,728.50" fill="none" stroke="#222" stroke-width="0.75"/>
<line x1="471.10" y1="776.40" x2="471.10" y2="778.90" stroke="#AAAAAA" stroke-width="0.8" />
<text x="471.10" y="791.60" font-size="12.8" fill="#1A1A1A" text-anchor="middle" >D1</text>
<line x1="501.60" y1="776.40" x2="501.60" y2="778.90" stroke="#AAAAAA" stroke-width="0.8" />
<text x="501.60" y="791.60" font-size="12.8" fill="#1A1A1A" text-anchor="middle" >D2</text>
<line x1="532.10" y1="776.40" x2="532.10" y2="778.90" stroke="#AAAAAA" stroke-width="0.8" />
<text x="532.10" y="791.60" font-size="12.8" fill="#1A1A1A" text-anchor="middle" >D3</text>
<rect x="555.00" y="704.50" width="97.10" height="71.90" fill="#fff" stroke="none" stroke-width="1" />
<line x1="555.00" y1="719.56" x2="652.10" y2="719.56" stroke="#F2F2F2" stroke-width="0.7" />
<line x1="555.00" y1="735.28" x2="652.10" y2="735.28" stroke="#F2F2F2" stroke-width="0.7" />
<line x1="555.00" y1="751.00" x2="652.10" y2="751.00" stroke="#F2F2F2" stroke-width="0.7" />
<line x1="555.00" y1="766.72" x2="652.10" y2="766.72" stroke="#F2F2F2" stroke-width="0.7" />
<line x1="555.00" y1="711.70" x2="652.10" y2="711.70" stroke="#EBEBEB" stroke-width="0.9" />
<line x1="555.00" y1="727.42" x2="652.10" y2="727.42" stroke="#EBEBEB" stroke-width="0.9" />
<line x1="555.00" y1="743.14" x2="652.10" y2="743.14" stroke="#EBEBEB" stroke-width="0.9" />
<line x1="555.00" y1="758.86" x2="652.10" y2="758.86" stroke="#EBEBEB" stroke-width="0.9" />
<line x1="555.00" y1="774.58" x2="652.10" y2="774.58" stroke="#EBEBEB" stroke-width="0.9" />
<line x1="573.00" y1="704.50" x2="573.00" y2="776.40" stroke="#EBEBEB" stroke-width="0.9" />
<line x1="603.50" y1="704.50" x2="603.50" y2="776.40" stroke="#EBEBEB" stroke-width="0.9" />
<line x1="634.00" y1="704.50" x2="634.00" y2="776.40" stroke="#EBEBEB" stroke-width="0.9" />
<rect x="555.40" y="704.50" width="96.30" height="71.90" fill="none" stroke="#DCDCDC" stroke-width="0.9" />
<line x1="573.00" y1="773.60" x2="573.00" y2="772.90" stroke="#333" stroke-width="0.9" />
<line x1="573.00" y1="774.30" x2="573.00" y2="773.60" stroke="#333" stroke-width="0.9" />
<line x1="561.50" y1="773.60" x2="584.50" y2="773.60" stroke="#2A2A2A" stroke-width="2.1" />
<rect x="565.70" y="771.10" width="5.00" height="5.00" fill="none" stroke="#222" stroke-width="0.75" />
<rect x="570.50" y="771.10" width="5.00" height="5.00" fill="none" stroke="#222" stroke-width="0.75" />
<rect x="575.30" y="771.10" width="5.00" height="5.00" fill="none" stroke="#222" stroke-width="0.75" />
<rect x="568.10" y="771.10" width="5.00" height="5.00" fill="none" stroke="#222" stroke-width="0.75" />
<line x1="603.50" y1="720.80" x2="603.50" y2="723.90" stroke="#333" stroke-width="0.9" />
<line x1="603.50" y1="738.30" x2="603.50" y2="738.30" stroke="#333" stroke-width="0.9" />
<rect x="592.00" y="723.90" width="23.00" height="14.40" fill="#7096D8" stroke="#333" stroke-width="0.9" />
<line x1="592.00" y1="734.30" x2="615.00" y2="734.30" stroke="#333" stroke-width="1.8" />
<rect x="596.20" y="718.30" width="5.00" height="5.00" fill="none" stroke="#222" stroke-width="0.75" />
<rect x="601.00" y="721.40" width="5.00" height="5.00" fill="none" stroke="#222" stroke-width="0.75" />
<rect x="605.80" y="730.60" width="5.00" height="5.00" fill="none" stroke="#222" stroke-width="0.75" />
<rect x="598.60" y="734.30" width="5.00" height="5.00" fill="none" stroke="#222" stroke-width="0.75" />
<rect x="603.40" y="771.10" width="5.00" height="5.00" fill="none" stroke="#222" stroke-width="0.75" />
<line x1="634.00" y1="710.70" x2="634.00" y2="710.70" stroke="#333" stroke-width="0.9" />
<line x1="634.00" y1="715.90" x2="634.00" y2="715.90" stroke="#333" stroke-width="0.9" />
<rect x="622.50" y="710.70" width="23.00" height="5.20" fill="#7096D8" stroke="#333" stroke-width="0.9" />
<line x1="622.50" y1="712.90" x2="645.50" y2="712.90" stroke="#333" stroke-width="1.8" />
<rect x="626.70" y="708.20" width="5.00" height="5.00" fill="none" stroke="#222" stroke-width="0.75" />
<rect x="631.50" y="710.50" width="5.00" height="5.00" fill="none" stroke="#222" stroke-width="0.75" />
<rect x="636.30" y="725.70" width="5.00" height="5.00" fill="none" stroke="#222" stroke-width="0.75" />
<line x1="573.00" y1="776.40" x2="573.00" y2="778.90" stroke="#AAAAAA" stroke-width="0.8" />
<text x="573.00" y="791.60" font-size="12.8" fill="#1A1A1A" text-anchor="middle" >D1</text>
<line x1="603.50" y1="776.40" x2="603.50" y2="778.90" stroke="#AAAAAA" stroke-width="0.8" />
<text x="603.50" y="791.60" font-size="12.8" fill="#1A1A1A" text-anchor="middle" >D2</text>
<line x1="634.00" y1="776.40" x2="634.00" y2="778.90" stroke="#AAAAAA" stroke-width="0.8" />
<text x="634.00" y="791.60" font-size="12.8" fill="#1A1A1A" text-anchor="middle" >D3</text>
<text x="21.20" y="662.90" font-size="14" fill="#1A1A1A" text-anchor="middle" textLength="46.80" lengthAdjust="spacingAndGlyphs" transform="rotate(-90 21.20 662.90)" >Log T/R</text>
<text x="675.50" y="577.30" font-size="12" fill="#3543A2" text-anchor="middle" textLength="58.90" lengthAdjust="spacingAndGlyphs" transform="rotate(90 675.50 577.30)" >EcN(donor)</text>
<text x="654.00" y="577.30" font-size="12" fill="#111" text-anchor="middle" textLength="34.00" lengthAdjust="spacingAndGlyphs" transform="rotate(90 654.00 577.30)" >SGH10</text>
<line x1="674.60" y1="577.90" x2="665.60" y2="577.90" stroke="#F2683F" stroke-width="1.0" />
<polygon points="663.80,577.90 666.80,576.04 666.80,579.76" fill="#F2683F" stroke="none" stroke-width="1"/>
<text x="675.50" y="662.40" font-size="12" fill="#3543A2" text-anchor="middle" textLength="58.80" lengthAdjust="spacingAndGlyphs" transform="rotate(90 675.50 662.40)" >EcN(donor)</text>
<text x="654.00" y="662.40" font-size="12" fill="#111" text-anchor="middle" textLength="70.60" lengthAdjust="spacingAndGlyphs" transform="rotate(90 654.00 662.40)" >SGH10Δ<tspan font-style="italic">wcaJ</tspan></text>
<line x1="674.60" y1="662.90" x2="665.60" y2="662.90" stroke="#F2683F" stroke-width="1.0" />
<polygon points="663.80,662.90 666.80,661.04 666.80,664.76" fill="#F2683F" stroke="none" stroke-width="1"/>
<text x="675.50" y="740.60" font-size="12" fill="#3543A2" text-anchor="middle" textLength="71.90" lengthAdjust="spacingAndGlyphs" transform="rotate(90 675.50 740.60)" >SGH10(donor)</text>
<text x="654.00" y="740.60" font-size="12" fill="#111" text-anchor="middle" textLength="19.70" lengthAdjust="spacingAndGlyphs" transform="rotate(90 654.00 740.60)" >EcN</text>
<line x1="674.60" y1="740.80" x2="665.60" y2="740.80" stroke="#F2683F" stroke-width="1.0" />
<polygon points="663.80,740.80 666.80,738.94 666.80,742.66" fill="#F2683F" stroke="none" stroke-width="1"/>
<text x="1.90" y="818.00" font-size="24" fill="#111" >e</text>
<text x="13.80" y="818.00" font-size="24" fill="#111" >.</text>
<rect x="60.50" y="825.00" width="307.50" height="106.50" fill="#fff" stroke="none" stroke-width="1" />
<line x1="100.30" y1="825.00" x2="100.30" y2="931.50" stroke="#F3F3F3" stroke-width="0.8" />
<line x1="165.70" y1="825.00" x2="165.70" y2="931.50" stroke="#F3F3F3" stroke-width="0.8" />
<line x1="231.10" y1="825.00" x2="231.10" y2="931.50" stroke="#F3F3F3" stroke-width="0.8" />
<line x1="296.50" y1="825.00" x2="296.50" y2="931.50" stroke="#F3F3F3" stroke-width="0.8" />
<line x1="67.60" y1="825.00" x2="67.60" y2="931.50" stroke="#EBEBEB" stroke-width="0.9" />
<line x1="133.00" y1="825.00" x2="133.00" y2="931.50" stroke="#EBEBEB" stroke-width="0.9" />
<line x1="198.40" y1="825.00" x2="198.40" y2="931.50" stroke="#EBEBEB" stroke-width="0.9" />
<line x1="263.80" y1="825.00" x2="263.80" y2="931.50" stroke="#EBEBEB" stroke-width="0.9" />
<line x1="329.20" y1="825.00" x2="329.20" y2="931.50" stroke="#EBEBEB" stroke-width="0.9" />
<line x1="60.50" y1="835.40" x2="368.00" y2="835.40" stroke="#EBEBEB" stroke-width="0.9" />
<line x1="60.50" y1="852.50" x2="368.00" y2="852.50" stroke="#EBEBEB" stroke-width="0.9" />
<line x1="60.50" y1="869.60" x2="368.00" y2="869.60" stroke="#EBEBEB" stroke-width="0.9" />
<line x1="60.50" y1="887.30" x2="368.00" y2="887.30" stroke="#EBEBEB" stroke-width="0.9" />
<line x1="60.50" y1="904.30" x2="368.00" y2="904.30" stroke="#EBEBEB" stroke-width="0.9" />
<line x1="60.50" y1="921.80" x2="368.00" y2="921.80" stroke="#EBEBEB" stroke-width="0.9" />
<rect x="60.50" y="809.20" width="307.50" height="15.80" fill="#D9D9D9" stroke="#B8B8B8" stroke-width="0.8" />
<line x1="60.50" y1="824.60" x2="368.00" y2="824.60" stroke="#7A7A7A" stroke-width="1.6" />
<line x1="60.90" y1="825.00" x2="60.90" y2="931.50" stroke="#D5D5D5" stroke-width="1.0" />
<line x1="60.50" y1="931.00" x2="368.00" y2="931.00" stroke="#C8C8C8" stroke-width="1.2" />
<line x1="67.60" y1="931.50" x2="67.60" y2="934.10" stroke="#9A9A9A" stroke-width="0.9" />
<text x="67.60" y="943.80" font-size="11.8" fill="#4D4D4D" text-anchor="middle" >-20</text>
<line x1="133.00" y1="931.50" x2="133.00" y2="934.10" stroke="#9A9A9A" stroke-width="0.9" />
<text x="133.00" y="943.80" font-size="11.8" fill="#4D4D4D" text-anchor="middle" >-10</text>
<line x1="198.40" y1="931.50" x2="198.40" y2="934.10" stroke="#9A9A9A" stroke-width="0.9" />
<text x="198.40" y="943.80" font-size="11.8" fill="#4D4D4D" text-anchor="middle" >0</text>
<line x1="263.80" y1="931.50" x2="263.80" y2="934.10" stroke="#9A9A9A" stroke-width="0.9" />
<text x="263.80" y="943.80" font-size="11.8" fill="#4D4D4D" text-anchor="middle" >10</text>
<line x1="329.20" y1="931.50" x2="329.20" y2="934.10" stroke="#9A9A9A" stroke-width="0.9" />
<text x="329.20" y="943.80" font-size="11.8" fill="#4D4D4D" text-anchor="middle" >20</text>
<rect x="371.50" y="825.00" width="307.70" height="106.50" fill="#fff" stroke="none" stroke-width="1" />
<line x1="412.20" y1="825.00" x2="412.20" y2="931.50" stroke="#F3F3F3" stroke-width="0.8" />
<line x1="477.60" y1="825.00" x2="477.60" y2="931.50" stroke="#F3F3F3" stroke-width="0.8" />
<line x1="543.00" y1="825.00" x2="543.00" y2="931.50" stroke="#F3F3F3" stroke-width="0.8" />
<line x1="608.40" y1="825.00" x2="608.40" y2="931.50" stroke="#F3F3F3" stroke-width="0.8" />
<line x1="379.50" y1="825.00" x2="379.50" y2="931.50" stroke="#EBEBEB" stroke-width="0.9" />
<line x1="444.90" y1="825.00" x2="444.90" y2="931.50" stroke="#EBEBEB" stroke-width="0.9" />
<line x1="510.30" y1="825.00" x2="510.30" y2="931.50" stroke="#EBEBEB" stroke-width="0.9" />
<line x1="575.70" y1="825.00" x2="575.70" y2="931.50" stroke="#EBEBEB" stroke-width="0.9" />
<line x1="641.10" y1="825.00" x2="641.10" y2="931.50" stroke="#EBEBEB" stroke-width="0.9" />
<line x1="371.50" y1="835.40" x2="679.20" y2="835.40" stroke="#EBEBEB" stroke-width="0.9" />
<line x1="371.50" y1="852.50" x2="679.20" y2="852.50" stroke="#EBEBEB" stroke-width="0.9" />
<line x1="371.50" y1="869.60" x2="679.20" y2="869.60" stroke="#EBEBEB" stroke-width="0.9" />
<line x1="371.50" y1="887.30" x2="679.20" y2="887.30" stroke="#EBEBEB" stroke-width="0.9" />
<line x1="371.50" y1="904.30" x2="679.20" y2="904.30" stroke="#EBEBEB" stroke-width="0.9" />
<line x1="371.50" y1="921.80" x2="679.20" y2="921.80" stroke="#EBEBEB" stroke-width="0.9" />
<rect x="371.50" y="809.20" width="307.70" height="15.80" fill="#D9D9D9" stroke="#B8B8B8" stroke-width="0.8" />
<line x1="371.50" y1="824.60" x2="679.20" y2="824.60" stroke="#7A7A7A" stroke-width="1.6" />
<line x1="371.90" y1="825.00" x2="371.90" y2="931.50" stroke="#D5D5D5" stroke-width="1.0" />
<line x1="371.50" y1="931.00" x2="679.20" y2="931.00" stroke="#C8C8C8" stroke-width="1.2" />
<line x1="379.50" y1="931.50" x2="379.50" y2="934.10" stroke="#9A9A9A" stroke-width="0.9" />
<text x="379.50" y="943.80" font-size="11.8" fill="#4D4D4D" text-anchor="middle" >-20</text>
<line x1="444.90" y1="931.50" x2="444.90" y2="934.10" stroke="#9A9A9A" stroke-width="0.9" />
<text x="444.90" y="943.80" font-size="11.8" fill="#4D4D4D" text-anchor="middle" >-10</text>
<line x1="510.30" y1="931.50" x2="510.30" y2="934.10" stroke="#9A9A9A" stroke-width="0.9" />
<text x="510.30" y="943.80" font-size="11.8" fill="#4D4D4D" text-anchor="middle" >0</text>
<line x1="575.70" y1="931.50" x2="575.70" y2="934.10" stroke="#9A9A9A" stroke-width="0.9" />
<text x="575.70" y="943.80" font-size="11.8" fill="#4D4D4D" text-anchor="middle" >10</text>
<line x1="641.10" y1="931.50" x2="641.10" y2="934.10" stroke="#9A9A9A" stroke-width="0.9" />
<text x="641.10" y="943.80" font-size="11.8" fill="#4D4D4D" text-anchor="middle" >20</text>
<line x1="367.60" y1="809.20" x2="367.60" y2="931.00" stroke="#8A8A8A" stroke-width="1.8" />
<line x1="678.80" y1="809.20" x2="678.80" y2="931.00" stroke="#8A8A8A" stroke-width="1.6" />
<text x="158.40" y="821.30" font-size="12.7" fill="#3543A2" textLength="61.60" lengthAdjust="spacingAndGlyphs" >EcN(donor)</text>
<line x1="220.20" y1="816.80" x2="229.96" y2="816.80" stroke="#F2683F" stroke-width="1.1" />
<polygon points="232.00,816.80 228.60,814.69 228.60,818.91" fill="#F2683F" stroke="none" stroke-width="1"/>
<text x="232.40" y="821.30" font-size="12.7" fill="#111" textLength="39.60" lengthAdjust="spacingAndGlyphs" >SGH10</text>
<text x="469.40" y="821.30" font-size="12.7" fill="#3543A2" textLength="78.20" lengthAdjust="spacingAndGlyphs" >SGH10(donor)</text>
<line x1="547.80" y1="816.80" x2="557.76" y2="816.80" stroke="#F2683F" stroke-width="1.1" />
<polygon points="559.80,816.80 556.40,814.69 556.40,818.91" fill="#F2683F" stroke="none" stroke-width="1"/>
<text x="560.20" y="821.30" font-size="12.7" fill="#111" textLength="22.30" lengthAdjust="spacingAndGlyphs" >EcN</text>
<line x1="57.80" y1="835.40" x2="60.50" y2="835.40" stroke="#9A9A9A" stroke-width="0.9" />
<text x="56.50" y="839.90" font-size="11.3" fill="#4D4D4D" text-anchor="end" >pKPC2</text>
<line x1="57.80" y1="852.50" x2="60.50" y2="852.50" stroke="#9A9A9A" stroke-width="0.9" />
<text x="56.50" y="857.00" font-size="11.3" fill="#4D4D4D" text-anchor="end" >pKpQIL</text>
<line x1="57.80" y1="869.60" x2="60.50" y2="869.60" stroke="#9A9A9A" stroke-width="0.9" />
<text x="56.50" y="874.10" font-size="11.3" fill="#4D4D4D" text-anchor="end" >pNDM1</text>
<line x1="57.80" y1="887.30" x2="60.50" y2="887.30" stroke="#9A9A9A" stroke-width="0.9" />
<text x="56.50" y="891.80" font-size="11.3" fill="#4D4D4D" text-anchor="end" >RP4-11</text>
<line x1="57.80" y1="904.30" x2="60.50" y2="904.30" stroke="#9A9A9A" stroke-width="0.9" />
<text x="56.50" y="908.80" font-size="11.3" fill="#4D4D4D" text-anchor="end" >pOX38</text>
<line x1="57.80" y1="921.80" x2="60.50" y2="921.80" stroke="#9A9A9A" stroke-width="0.9" />
<text x="56.50" y="926.30" font-size="11.3" fill="#4D4D4D" text-anchor="end" >TP114</text>
<line x1="214.93" y1="832.20" x2="219.08" y2="832.20" stroke="#6F97D3" stroke-width="1.7" />
<line x1="214.93" y1="829.80" x2="214.93" y2="834.60" stroke="#6F97D3" stroke-width="1.3" />
<line x1="219.08" y1="829.80" x2="219.08" y2="834.60" stroke="#6F97D3" stroke-width="1.3" />
<circle cx="216.97" cy="832.20" r="1.6" fill="#6F97D3" stroke="none" stroke-width="1"/>
<circle cx="198.40" cy="835.40" r="2.05" fill="#E56B6B" stroke="none" stroke-width="1"/>
<circle cx="198.40" cy="838.70" r="2.05" fill="#92CD8E" stroke="none" stroke-width="1"/>
<line x1="201.68" y1="849.70" x2="207.01" y2="849.70" stroke="#6F97D3" stroke-width="1.7" />
<line x1="201.68" y1="847.30" x2="201.68" y2="852.10" stroke="#6F97D3" stroke-width="1.3" />
<line x1="207.01" y1="847.30" x2="207.01" y2="852.10" stroke="#6F97D3" stroke-width="1.3" />
<circle cx="204.29" cy="849.70" r="1.6" fill="#6F97D3" stroke="none" stroke-width="1"/>
<circle cx="198.40" cy="852.50" r="2.05" fill="#E56B6B" stroke="none" stroke-width="1"/>
<circle cx="198.40" cy="855.70" r="1.9" fill="#92CD8E" stroke="none" stroke-width="1"/>
<line x1="189.51" y1="866.80" x2="220.31" y2="866.80" stroke="#6F97D3" stroke-width="1.7" />
<line x1="189.51" y1="864.40" x2="189.51" y2="869.20" stroke="#6F97D3" stroke-width="1.3" />
<line x1="220.31" y1="864.40" x2="220.31" y2="869.20" stroke="#6F97D3" stroke-width="1.3" />
<circle cx="204.68" cy="866.80" r="1.6" fill="#6F97D3" stroke="none" stroke-width="1"/>
<line x1="196.63" y1="870.00" x2="202.32" y2="870.00" stroke="#E56B6B" stroke-width="1.7" />
<line x1="196.63" y1="867.60" x2="196.63" y2="872.40" stroke="#E56B6B" stroke-width="1.3" />
<line x1="202.32" y1="867.60" x2="202.32" y2="872.40" stroke="#E56B6B" stroke-width="1.3" />
<circle cx="199.38" cy="870.00" r="1.6" fill="#E56B6B" stroke="none" stroke-width="1"/>
<line x1="194.35" y1="872.80" x2="203.76" y2="872.80" stroke="#92CD8E" stroke-width="1.7" />
<line x1="194.35" y1="870.40" x2="194.35" y2="875.20" stroke="#92CD8E" stroke-width="1.3" />
<line x1="203.76" y1="870.40" x2="203.76" y2="875.20" stroke="#92CD8E" stroke-width="1.3" />
<circle cx="199.05" cy="872.80" r="1.6" fill="#92CD8E" stroke="none" stroke-width="1"/>
<line x1="210.97" y1="884.20" x2="220.92" y2="884.20" stroke="#6F97D3" stroke-width="1.7" />
<line x1="210.97" y1="881.80" x2="210.97" y2="886.60" stroke="#6F97D3" stroke-width="1.3" />
<line x1="220.92" y1="881.80" x2="220.92" y2="886.60" stroke="#6F97D3" stroke-width="1.3" />
<circle cx="216.06" cy="884.20" r="1.6" fill="#6F97D3" stroke="none" stroke-width="1"/>
<circle cx="198.40" cy="887.30" r="2.05" fill="#E56B6B" stroke="none" stroke-width="1"/>
<circle cx="198.40" cy="890.50" r="2.05" fill="#92CD8E" stroke="none" stroke-width="1"/>
<line x1="198.40" y1="901.50" x2="202.32" y2="901.50" stroke="#6F97D3" stroke-width="1.7" />
<line x1="198.40" y1="899.30" x2="198.40" y2="903.70" stroke="#6F97D3" stroke-width="1.3" />
<line x1="202.32" y1="899.30" x2="202.32" y2="903.70" stroke="#6F97D3" stroke-width="1.3" />
<circle cx="198.40" cy="904.70" r="2.05" fill="#E56B6B" stroke="none" stroke-width="1"/>
<circle cx="198.40" cy="907.60" r="2.05" fill="#92CD8E" stroke="none" stroke-width="1"/>
<line x1="191.40" y1="918.60" x2="210.17" y2="918.60" stroke="#6F97D3" stroke-width="1.7" />
<line x1="191.40" y1="916.20" x2="191.40" y2="921.00" stroke="#6F97D3" stroke-width="1.3" />
<line x1="210.17" y1="916.20" x2="210.17" y2="921.00" stroke="#6F97D3" stroke-width="1.3" />
<circle cx="202.32" cy="918.60" r="1.6" fill="#6F97D3" stroke="none" stroke-width="1"/>
<circle cx="198.40" cy="921.80" r="2.05" fill="#E56B6B" stroke="none" stroke-width="1"/>
<circle cx="198.40" cy="924.60" r="2.05" fill="#92CD8E" stroke="none" stroke-width="1"/>
<text x="223.10" y="834.60" font-size="7.4" fill="#6F97D3" textLength="40.90" lengthAdjust="spacingAndGlyphs" >(2.527, 3.162)</text>
<text x="209.90" y="852.10" font-size="7.4" fill="#6F97D3" textLength="37.90" lengthAdjust="spacingAndGlyphs" >(0.501, 1.317)</text>
<text x="196.60" y="860.00" font-size="7.4" fill="#92CD8E" text-anchor="end" textLength="40.50" lengthAdjust="spacingAndGlyphs" >(0.002, 0.003)</text>
<text x="224.10" y="886.60" font-size="7.4" fill="#6F97D3" textLength="40.20" lengthAdjust="spacingAndGlyphs" >(1.922, 3.443)</text>
<text x="203.80" y="908.10" font-size="7.4" fill="#E56B6B" textLength="28.80" lengthAdjust="spacingAndGlyphs" >(0, 0.006)</text>
<line x1="71.20" y1="883.80" x2="80.60" y2="883.80" stroke="#92CD8E" stroke-width="1.6" />
<circle cx="75.90" cy="883.80" r="1.9" fill="#92CD8E" stroke="none" stroke-width="1"/>
<text x="85.20" y="887.40" font-size="10.1" fill="#222" >Donor</text>
<line x1="71.20" y1="899.70" x2="80.60" y2="899.70" stroke="#E56B6B" stroke-width="1.6" />
<circle cx="75.90" cy="899.70" r="1.9" fill="#E56B6B" stroke="none" stroke-width="1"/>
<text x="85.20" y="903.30" font-size="10.1" fill="#222" >Recipient</text>
<line x1="71.20" y1="914.90" x2="80.60" y2="914.90" stroke="#6F97D3" stroke-width="1.6" />
<circle cx="75.90" cy="914.90" r="1.9" fill="#6F97D3" stroke="none" stroke-width="1"/>
<text x="85.20" y="918.50" font-size="10.1" fill="#222" >Transconjugant</text>
<line x1="385.39" y1="832.70" x2="639.79" y2="832.70" stroke="#6F97D3" stroke-width="1.7" />
<line x1="385.39" y1="830.30" x2="385.39" y2="835.10" stroke="#6F97D3" stroke-width="1.3" />
<line x1="639.79" y1="830.30" x2="639.79" y2="835.10" stroke="#6F97D3" stroke-width="1.3" />
<circle cx="510.30" cy="832.70" r="1.6" fill="#6F97D3" stroke="none" stroke-width="1"/>
<line x1="471.06" y1="835.50" x2="519.46" y2="835.50" stroke="#E56B6B" stroke-width="1.7" />
<line x1="471.06" y1="833.10" x2="471.06" y2="837.90" stroke="#E56B6B" stroke-width="1.3" />
<line x1="519.46" y1="833.10" x2="519.46" y2="837.90" stroke="#E56B6B" stroke-width="1.3" />
<circle cx="495.26" cy="835.50" r="1.6" fill="#E56B6B" stroke="none" stroke-width="1"/>
<circle cx="510.95" cy="838.50" r="2.05" fill="#92CD8E" stroke="none" stroke-width="1"/>
<text x="515.50" y="844.50" font-size="7.4" fill="#92CD8E" textLength="38.90" lengthAdjust="spacingAndGlyphs" >(0.011, 0.198)</text>
<line x1="510.30" y1="847.00" x2="510.30" y2="850.00" stroke="#6F97D3" stroke-width="1.2" />
<line x1="510.30" y1="852.20" x2="510.30" y2="855.20" stroke="#E56B6B" stroke-width="1.2" />
<line x1="510.30" y1="857.40" x2="510.30" y2="860.40" stroke="#92CD8E" stroke-width="1.2" />
<line x1="504.41" y1="867.30" x2="523.38" y2="867.30" stroke="#6F97D3" stroke-width="1.7" />
<line x1="504.41" y1="864.90" x2="504.41" y2="869.70" stroke="#6F97D3" stroke-width="1.3" />
<line x1="523.38" y1="864.90" x2="523.38" y2="869.70" stroke="#6F97D3" stroke-width="1.3" />
<circle cx="512.92" cy="867.30" r="1.6" fill="#6F97D3" stroke="none" stroke-width="1"/>
<circle cx="510.30" cy="870.00" r="2.05" fill="#E56B6B" stroke="none" stroke-width="1"/>
<circle cx="510.30" cy="873.10" r="2.05" fill="#92CD8E" stroke="none" stroke-width="1"/>
<line x1="499.84" y1="883.60" x2="513.57" y2="883.60" stroke="#6F97D3" stroke-width="1.7" />
<line x1="499.84" y1="881.20" x2="499.84" y2="886.00" stroke="#6F97D3" stroke-width="1.3" />
<line x1="513.57" y1="881.20" x2="513.57" y2="886.00" stroke="#6F97D3" stroke-width="1.3" />
<circle cx="508.01" cy="883.60" r="1.6" fill="#6F97D3" stroke="none" stroke-width="1"/>
<line x1="501.80" y1="887.40" x2="516.19" y2="887.40" stroke="#E56B6B" stroke-width="1.7" />
<line x1="501.80" y1="885.00" x2="501.80" y2="889.80" stroke="#E56B6B" stroke-width="1.3" />
<line x1="516.19" y1="885.00" x2="516.19" y2="889.80" stroke="#E56B6B" stroke-width="1.3" />
<circle cx="508.34" cy="887.40" r="1.6" fill="#E56B6B" stroke="none" stroke-width="1"/>
<circle cx="510.30" cy="890.00" r="2.05" fill="#92CD8E" stroke="none" stroke-width="1"/>
<line x1="569.81" y1="900.60" x2="577.34" y2="900.60" stroke="#6F97D3" stroke-width="1.7" />
<line x1="569.81" y1="898.20" x2="569.81" y2="903.00" stroke="#6F97D3" stroke-width="1.3" />
<line x1="577.34" y1="898.20" x2="577.34" y2="903.00" stroke="#6F97D3" stroke-width="1.3" />
<circle cx="573.74" cy="900.60" r="1.6" fill="#6F97D3" stroke="none" stroke-width="1"/>
<circle cx="510.30" cy="904.40" r="2.05" fill="#E56B6B" stroke="none" stroke-width="1"/>
<circle cx="510.30" cy="907.50" r="2.05" fill="#92CD8E" stroke="none" stroke-width="1"/>
<text x="579.90" y="903.10" font-size="7.4" fill="#6F97D3" textLength="44.10" lengthAdjust="spacingAndGlyphs" >(9.175, 10.294)</text>
<line x1="405.66" y1="919.10" x2="665.95" y2="919.10" stroke="#6F97D3" stroke-width="1.7" />
<line x1="405.66" y1="916.70" x2="405.66" y2="921.50" stroke="#6F97D3" stroke-width="1.3" />
<line x1="665.95" y1="916.70" x2="665.95" y2="921.50" stroke="#6F97D3" stroke-width="1.3" />
<circle cx="535.81" cy="919.10" r="1.6" fill="#6F97D3" stroke="none" stroke-width="1"/>
<line x1="486.10" y1="922.00" x2="530.57" y2="922.00" stroke="#E56B6B" stroke-width="1.7" />
<line x1="486.10" y1="919.60" x2="486.10" y2="924.40" stroke="#E56B6B" stroke-width="1.3" />
<line x1="530.57" y1="919.60" x2="530.57" y2="924.40" stroke="#E56B6B" stroke-width="1.3" />
<circle cx="507.68" cy="922.00" r="1.6" fill="#E56B6B" stroke="none" stroke-width="1"/>
<line x1="508.99" y1="924.50" x2="513.90" y2="924.50" stroke="#92CD8E" stroke-width="1.7" />
<line x1="508.99" y1="922.10" x2="508.99" y2="926.90" stroke="#92CD8E" stroke-width="1.3" />
<line x1="513.90" y1="922.10" x2="513.90" y2="926.90" stroke="#92CD8E" stroke-width="1.3" />
<circle cx="511.61" cy="924.50" r="1.6" fill="#92CD8E" stroke="none" stroke-width="1"/>
<text x="369.80" y="956.00" font-size="12.6" fill="#111" text-anchor="middle" textLength="226.50" lengthAdjust="spacingAndGlyphs" >Change in Transconjugant (with 95% CI)</text>
</svg>
</body></html>
